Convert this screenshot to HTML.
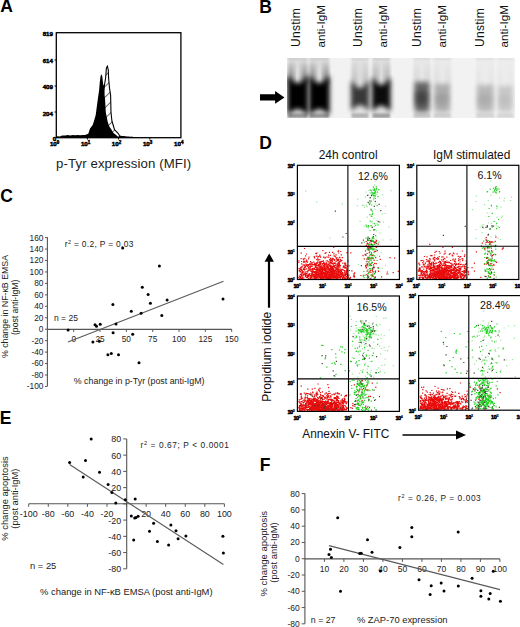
<!DOCTYPE html>
<html><head><meta charset="utf-8"><style>
html,body{margin:0;padding:0;background:#fff;}
svg{display:block;}
text{font-family:"Liberation Sans",sans-serif;}
</style></head><body>
<svg width="520" height="627" viewBox="0 0 520 627" font-family="Liberation Sans, sans-serif">
<rect width="520" height="627" fill="#fff"/>
<text x="0.3" y="12.4" font-size="17.5" text-anchor="start" font-weight="bold" fill="#000" >A</text>
<text x="259.3" y="12.7" font-size="17.5" text-anchor="start" font-weight="bold" fill="#000" >B</text>
<text x="0.2" y="201.8" font-size="17.5" text-anchor="start" font-weight="bold" fill="#000" >C</text>
<text x="259.3" y="148.7" font-size="17.5" text-anchor="start" font-weight="bold" fill="#000" >D</text>
<text x="-0.3" y="423.8" font-size="17.5" text-anchor="start" font-weight="bold" fill="#000" >E</text>
<text x="259.7" y="470.8" font-size="17.5" text-anchor="start" font-weight="bold" fill="#000" >F</text>
<defs><pattern id="hp" patternUnits="userSpaceOnUse" width="7.5" height="7.5" patternTransform="rotate(45)"><line x1="0" y1="0" x2="0" y2="7.5" stroke="#000" stroke-width="1.1"/></pattern><clipPath id="gclip"><rect x="287" y="58" width="228" height="60"/></clipPath><filter id="bl1" x="-50%" y="-50%" width="200%" height="200%"><feGaussianBlur stdDeviation="2.2"/></filter><filter id="bl2" x="-50%" y="-50%" width="200%" height="200%"><feGaussianBlur stdDeviation="1.2"/></filter></defs>
<polygon points="95,137.5 98,122 100,110 102.5,95 104,88 105.6,78 106.4,68 107.4,66.2 108.3,70 108.6,78 109.5,88 110.6,95 111,112.3 111.9,121 112.7,123.5 114.5,129.6 117.9,133 119.5,135.5 121,137.5" fill="#fff" stroke="none"/>
<polygon points="95,137.5 98,122 100,110 102.5,95 104,88 105.6,78 106.4,68 107.4,66.2 108.3,70 108.6,78 109.5,88 110.6,95 111,112.3 111.9,121 112.7,123.5 114.5,129.6 117.9,133 119.5,135.5 121,137.5" fill="url(#hp)" stroke="#000" stroke-width="1.1"/>
<polygon points="56.5,137.8 57,136.3 60,136.4 62,135.6 65,135.4 68,135.1 70,135.4 73,135.0 75,135.3 78,134.9 80,135.2 83,134.9 85,135.1 88.3,133.8 90,128.5 92.7,125 94,121 95.7,115 97.7,100 99.1,90.3 99.8,82 100.6,76 101.4,74.2 102.2,76 102.8,81 103.3,85 104.5,85.6 104.6,95 105.1,100 105.8,112.3 107.5,121 109,126 111.4,129.6 113.5,133 115.8,134.8 117.5,136.3 119.2,137.8" fill="#000"/>
<polygon points="119.0,137.8 119.0,135.7 120.0,135.8 121.0,135.7 122.0,136.0 123.0,135.9 124.0,136.1 125.0,136.3 126.0,136.2 127.0,136.5 128.0,136.4 129.0,136.6 130.0,136.7 131.0,136.7 132.0,136.6 133.0,137.0 134.0,137.0 135.0,136.9 136.0,136.9 137.0,137.1 138.0,137.3 139.0,137.1 140.0,137.8" fill="#000"/>
<rect x="56.3" y="32.7" width="124.6" height="105" fill="none" stroke="#000" stroke-width="1.3"/>
<line x1="54.5" y1="60" x2="56.3" y2="60" stroke="#000" stroke-width="1"/>
<line x1="54.5" y1="86" x2="56.3" y2="86" stroke="#000" stroke-width="1"/>
<line x1="54.5" y1="112" x2="56.3" y2="112" stroke="#000" stroke-width="1"/>
<line x1="87.4" y1="137.5" x2="87.4" y2="139.5" stroke="#000" stroke-width="1"/>
<line x1="118.6" y1="137.5" x2="118.6" y2="139.5" stroke="#000" stroke-width="1"/>
<line x1="149.8" y1="137.5" x2="149.8" y2="139.5" stroke="#000" stroke-width="1"/>
<text x="53.0" y="36.2" font-size="6.2" text-anchor="end" font-weight="bold" fill="#000" stroke="#000" stroke-width="0.45">819</text>
<text x="53.0" y="62.5" font-size="6.2" text-anchor="end" font-weight="bold" fill="#000" stroke="#000" stroke-width="0.45">614</text>
<text x="53.0" y="88.5" font-size="6.2" text-anchor="end" font-weight="bold" fill="#000" stroke="#000" stroke-width="0.45">409</text>
<text x="53.0" y="115.8" font-size="6.2" text-anchor="end" font-weight="bold" fill="#000" stroke="#000" stroke-width="0.45">204</text>
<text x="56.2" y="141.2" font-size="6.2" text-anchor="end" font-weight="bold" fill="#000" stroke="#000" stroke-width="0.45">0</text>
<text x="54.6" y="146.4" font-size="6.2" font-weight="bold" fill="#000" text-anchor="middle" stroke="#000" stroke-width="0.45">10<tspan font-size="4.5" dy="-2.2">0</tspan></text>
<text x="85.6" y="146.4" font-size="6.2" font-weight="bold" fill="#000" text-anchor="middle" stroke="#000" stroke-width="0.45">10<tspan font-size="4.5" dy="-2.2">1</tspan></text>
<text x="116.5" y="146.4" font-size="6.2" font-weight="bold" fill="#000" text-anchor="middle" stroke="#000" stroke-width="0.45">10<tspan font-size="4.5" dy="-2.2">2</tspan></text>
<text x="147.6" y="146.4" font-size="6.2" font-weight="bold" fill="#000" text-anchor="middle" stroke="#000" stroke-width="0.45">10<tspan font-size="4.5" dy="-2.2">3</tspan></text>
<text x="178.8" y="146.4" font-size="6.2" font-weight="bold" fill="#000" text-anchor="middle" stroke="#000" stroke-width="0.45">10<tspan font-size="4.5" dy="-2.2">4</tspan></text>
<text x="56.0" y="167.5" font-size="13.2" text-anchor="start" fill="#222" letter-spacing="0.12">p-Tyr expression (MFI)</text>
<text transform="translate(300.2,47.0) rotate(-90)" font-size="12" text-anchor="start" letter-spacing="0.3" fill="#111">Unstim</text>
<text transform="translate(324.6,47.6) rotate(-90)" font-size="11.6" text-anchor="start" letter-spacing="0.1" fill="#111">anti-IgM</text>
<text transform="translate(361.9,47.0) rotate(-90)" font-size="12" text-anchor="start" letter-spacing="0.3" fill="#111">Unstim</text>
<text transform="translate(387.4,47.6) rotate(-90)" font-size="11.6" text-anchor="start" letter-spacing="0.1" fill="#111">anti-IgM</text>
<text transform="translate(421.3,47.0) rotate(-90)" font-size="12" text-anchor="start" letter-spacing="0.3" fill="#111">Unstim</text>
<text transform="translate(446.4,47.6) rotate(-90)" font-size="11.6" text-anchor="start" letter-spacing="0.1" fill="#111">anti-IgM</text>
<text transform="translate(483.7,47.0) rotate(-90)" font-size="12" text-anchor="start" letter-spacing="0.3" fill="#111">Unstim</text>
<text transform="translate(508.2,47.6) rotate(-90)" font-size="11.6" text-anchor="start" letter-spacing="0.1" fill="#111">anti-IgM</text>
<defs><linearGradient id="sideg" x1="0" y1="0" x2="0" y2="1"><stop offset="0" stop-color="#000" stop-opacity="0.12"/><stop offset="1" stop-color="#000" stop-opacity="0.6"/></linearGradient><filter id="bl3" x="-50%" y="-50%" width="200%" height="200%"><feGaussianBlur stdDeviation="2.6"/></filter><filter id="bl4" x="-50%" y="-50%" width="200%" height="200%"><feGaussianBlur stdDeviation="3.2"/></filter></defs>
<g clip-path="url(#gclip)">
<rect x="287" y="58" width="228" height="60" fill="#f2f2f2"/>
<rect x="288" y="58" width="19.5" height="60" fill="#dadada" filter="url(#bl2)"/>
<rect x="288" y="57.5" width="19.5" height="2" fill="#c8c8c8" opacity="1.0" filter="url(#bl2)"/>
<g opacity="1.0">
<path d="M287.5,75 Q297.75,91 308.0,75 L308.0,115.5 Q297.75,102.5 287.5,115.5 Z" fill="#000" filter="url(#bl3)"/>
</g>
<rect x="288.5" y="63" width="5" height="20" fill="url(#sideg)" opacity="1.0" filter="url(#bl3)"/>
<rect x="302.0" y="63" width="5" height="20" fill="url(#sideg)" opacity="1.0" filter="url(#bl3)"/>
<rect x="288" y="113.5" width="19.5" height="4.5" fill="#000" opacity="0.31" filter="url(#bl2)"/>
<rect x="309.5" y="58" width="19.5" height="60" fill="#dadada" filter="url(#bl2)"/>
<rect x="309.5" y="57.5" width="19.5" height="2" fill="#c8c8c8" opacity="1.0" filter="url(#bl2)"/>
<g opacity="1.0">
<path d="M309.0,75 Q319.25,91 329.5,75 L329.5,115.5 Q319.25,102.5 309.0,115.5 Z" fill="#000" filter="url(#bl3)"/>
</g>
<rect x="310.0" y="63" width="5" height="20" fill="url(#sideg)" opacity="1.0" filter="url(#bl3)"/>
<rect x="323.5" y="63" width="5" height="20" fill="url(#sideg)" opacity="1.0" filter="url(#bl3)"/>
<rect x="309.5" y="113.5" width="19.5" height="4.5" fill="#000" opacity="0.31" filter="url(#bl2)"/>
<rect x="351.5" y="58" width="17.0" height="60" fill="#e0e0e0" filter="url(#bl2)"/>
<rect x="351.5" y="57.5" width="17.0" height="2" fill="#c8c8c8" opacity="0.76" filter="url(#bl2)"/>
<g opacity="0.75">
<path d="M351.0,80 Q360.0,96 369.0,80 L369.0,111.5 Q360.0,98.5 351.0,111.5 Z" fill="#000" filter="url(#bl3)"/>
</g>
<rect x="352.0" y="63" width="5" height="25" fill="url(#sideg)" opacity="0.36" filter="url(#bl3)"/>
<rect x="363.0" y="63" width="5" height="25" fill="url(#sideg)" opacity="0.36" filter="url(#bl3)"/>
<rect x="351.5" y="113.5" width="17.0" height="4.5" fill="#000" opacity="0.21" filter="url(#bl2)"/>
<rect x="372.5" y="58" width="17.5" height="60" fill="#dedede" filter="url(#bl2)"/>
<rect x="372.5" y="57.5" width="17.5" height="2" fill="#c8c8c8" opacity="0.9400000000000001" filter="url(#bl2)"/>
<g opacity="0.95">
<path d="M372.0,77 Q381.25,93 390.5,77 L390.5,112 Q381.25,99 372.0,112 Z" fill="#000" filter="url(#bl3)"/>
</g>
<rect x="373.0" y="63" width="5" height="22" fill="url(#sideg)" opacity="0.54" filter="url(#bl3)"/>
<rect x="384.5" y="63" width="5" height="22" fill="url(#sideg)" opacity="0.54" filter="url(#bl3)"/>
<rect x="372.5" y="113.5" width="17.5" height="4.5" fill="#000" opacity="0.28500000000000003" filter="url(#bl2)"/>
<rect x="413.5" y="58" width="17.0" height="60" fill="#e8e8e8" filter="url(#bl2)"/>
<rect x="413.5" y="57.5" width="17.0" height="2" fill="#c8c8c8" opacity="0.5800000000000001" filter="url(#bl2)"/>
<g opacity="0.8">
<rect x="414.5" y="82" width="15.0" height="30" rx="3" fill="#000" opacity="0.7" filter="url(#bl3)"/>
<rect x="415.5" y="91" width="12.0" height="14" rx="3" fill="#000" opacity="0.6" filter="url(#bl3)"/>
</g>
<rect x="414.0" y="63" width="5" height="23" fill="url(#sideg)" opacity="0.18" filter="url(#bl3)"/>
<rect x="425.0" y="63" width="5" height="23" fill="url(#sideg)" opacity="0.18" filter="url(#bl3)"/>
<rect x="413.5" y="113.5" width="17.0" height="4.5" fill="#000" opacity="0.135" filter="url(#bl2)"/>
<rect x="433.5" y="58" width="17.5" height="60" fill="#eaeaea" filter="url(#bl2)"/>
<rect x="433.5" y="57.5" width="17.5" height="2" fill="#c8c8c8" opacity="0.52" filter="url(#bl2)"/>
<g opacity="0.36">
<rect x="434.5" y="84" width="15.5" height="28" rx="3" fill="#000" opacity="0.7" filter="url(#bl3)"/>
<rect x="435.5" y="93" width="12.5" height="12" rx="3" fill="#000" opacity="0.6" filter="url(#bl3)"/>
</g>
<rect x="434.0" y="63" width="5" height="25" fill="url(#sideg)" opacity="0.12" filter="url(#bl3)"/>
<rect x="445.5" y="63" width="5" height="25" fill="url(#sideg)" opacity="0.12" filter="url(#bl3)"/>
<rect x="433.5" y="113.5" width="17.5" height="4.5" fill="#000" opacity="0.11" filter="url(#bl2)"/>
<rect x="476" y="58" width="18.5" height="60" fill="#ececec" filter="url(#bl2)"/>
<rect x="476" y="57.5" width="18.5" height="2" fill="#c8c8c8" opacity="0.47200000000000003" filter="url(#bl2)"/>
<g opacity="0.3">
<rect x="477" y="85" width="16.5" height="27" rx="3" fill="#000" opacity="0.7" filter="url(#bl3)"/>
<rect x="478" y="94" width="13.5" height="11" rx="3" fill="#000" opacity="0.6" filter="url(#bl3)"/>
</g>
<rect x="476.5" y="63" width="5" height="26" fill="url(#sideg)" opacity="0.072" filter="url(#bl3)"/>
<rect x="489.0" y="63" width="5" height="26" fill="url(#sideg)" opacity="0.072" filter="url(#bl3)"/>
<rect x="476" y="113.5" width="18.5" height="4.5" fill="#000" opacity="0.09" filter="url(#bl2)"/>
<rect x="497" y="58" width="16.5" height="60" fill="#ededed" filter="url(#bl2)"/>
<rect x="497" y="57.5" width="16.5" height="2" fill="#c8c8c8" opacity="0.46" filter="url(#bl2)"/>
<g opacity="0.22">
<rect x="498" y="86" width="14.5" height="26" rx="3" fill="#000" opacity="0.7" filter="url(#bl3)"/>
<rect x="499" y="95" width="11.5" height="10" rx="3" fill="#000" opacity="0.6" filter="url(#bl3)"/>
</g>
<rect x="497.5" y="63" width="5" height="27" fill="url(#sideg)" opacity="0.06" filter="url(#bl3)"/>
<rect x="508.0" y="63" width="5" height="27" fill="url(#sideg)" opacity="0.06" filter="url(#bl3)"/>
<rect x="497" y="113.5" width="16.5" height="4.5" fill="#000" opacity="0.08499999999999999" filter="url(#bl2)"/>
</g>
<polygon points="260,94.2 275.1,94.2 275.1,91.1 284.5,97.4 275.1,103.8 275.1,100.6 260,100.6" fill="#000"/>
<line x1="47.4" y1="237.3" x2="47.4" y2="386.3" stroke="#555" stroke-width="1.1"/>
<line x1="45" y1="237.60" x2="47.4" y2="237.60" stroke="#555" stroke-width="1"/>
<text x="43.4" y="240.5" font-size="8.3" text-anchor="end" fill="#222" >160</text>
<line x1="45" y1="249.05" x2="47.4" y2="249.05" stroke="#555" stroke-width="1"/>
<text x="43.4" y="251.95" font-size="8.3" text-anchor="end" fill="#222" >140</text>
<line x1="45" y1="260.50" x2="47.4" y2="260.50" stroke="#555" stroke-width="1"/>
<text x="43.4" y="263.4" font-size="8.3" text-anchor="end" fill="#222" >120</text>
<line x1="45" y1="271.95" x2="47.4" y2="271.95" stroke="#555" stroke-width="1"/>
<text x="43.4" y="274.84999999999997" font-size="8.3" text-anchor="end" fill="#222" >100</text>
<line x1="45" y1="283.40" x2="47.4" y2="283.40" stroke="#555" stroke-width="1"/>
<text x="43.4" y="286.29999999999995" font-size="8.3" text-anchor="end" fill="#222" >80</text>
<line x1="45" y1="294.85" x2="47.4" y2="294.85" stroke="#555" stroke-width="1"/>
<text x="43.4" y="297.75" font-size="8.3" text-anchor="end" fill="#222" >60</text>
<line x1="45" y1="306.30" x2="47.4" y2="306.30" stroke="#555" stroke-width="1"/>
<text x="43.4" y="309.19999999999993" font-size="8.3" text-anchor="end" fill="#222" >40</text>
<line x1="45" y1="317.75" x2="47.4" y2="317.75" stroke="#555" stroke-width="1"/>
<text x="43.4" y="320.65" font-size="8.3" text-anchor="end" fill="#222" >20</text>
<line x1="45" y1="329.20" x2="47.4" y2="329.20" stroke="#555" stroke-width="1"/>
<text x="43.4" y="332.09999999999997" font-size="8.3" text-anchor="end" fill="#222" >0</text>
<line x1="45" y1="340.65" x2="47.4" y2="340.65" stroke="#555" stroke-width="1"/>
<text x="43.4" y="343.54999999999995" font-size="8.3" text-anchor="end" fill="#222" >-20</text>
<line x1="45" y1="352.10" x2="47.4" y2="352.10" stroke="#555" stroke-width="1"/>
<text x="43.4" y="355.0" font-size="8.3" text-anchor="end" fill="#222" >-40</text>
<line x1="45" y1="363.55" x2="47.4" y2="363.55" stroke="#555" stroke-width="1"/>
<text x="43.4" y="366.44999999999993" font-size="8.3" text-anchor="end" fill="#222" >-60</text>
<line x1="45" y1="375.00" x2="47.4" y2="375.00" stroke="#555" stroke-width="1"/>
<text x="43.4" y="377.9" font-size="8.3" text-anchor="end" fill="#222" >-80</text>
<line x1="45" y1="386.45" x2="47.4" y2="386.45" stroke="#555" stroke-width="1"/>
<text x="43.4" y="389.34999999999997" font-size="8.3" text-anchor="end" fill="#222" >-100</text>
<line x1="47.4" y1="329.4" x2="231.8" y2="329.4" stroke="#555" stroke-width="1.1"/>
<line x1="73.70" y1="329.4" x2="73.70" y2="331.9" stroke="#555" stroke-width="1"/>
<text x="73.70" y="342" font-size="8.3" text-anchor="middle" fill="#222" >0</text>
<line x1="100.03" y1="329.4" x2="100.03" y2="331.9" stroke="#555" stroke-width="1"/>
<text x="100.03" y="342" font-size="8.3" text-anchor="middle" fill="#222" >25</text>
<line x1="126.36" y1="329.4" x2="126.36" y2="331.9" stroke="#555" stroke-width="1"/>
<text x="126.36" y="342" font-size="8.3" text-anchor="middle" fill="#222" >50</text>
<line x1="152.69" y1="329.4" x2="152.69" y2="331.9" stroke="#555" stroke-width="1"/>
<text x="152.69" y="342" font-size="8.3" text-anchor="middle" fill="#222" >75</text>
<line x1="179.02" y1="329.4" x2="179.02" y2="331.9" stroke="#555" stroke-width="1"/>
<text x="179.02" y="342" font-size="8.3" text-anchor="middle" fill="#222" >100</text>
<line x1="205.35" y1="329.4" x2="205.35" y2="331.9" stroke="#555" stroke-width="1"/>
<text x="205.35" y="342" font-size="8.3" text-anchor="middle" fill="#222" >125</text>
<line x1="231.68" y1="329.4" x2="231.68" y2="331.9" stroke="#555" stroke-width="1"/>
<text x="231.68" y="342" font-size="8.3" text-anchor="middle" fill="#222" >150</text>
<line x1="68" y1="342" x2="223.5" y2="281.3" stroke="#5a5a5a" stroke-width="1.15"/>
<circle cx="68.1" cy="330" r="1.5" fill="#000"/>
<circle cx="95" cy="324.8" r="1.5" fill="#000"/>
<circle cx="96.5" cy="326.3" r="1.5" fill="#000"/>
<circle cx="100.2" cy="324.2" r="1.5" fill="#000"/>
<circle cx="112.9" cy="304.6" r="1.5" fill="#000"/>
<circle cx="116" cy="324" r="1.5" fill="#000"/>
<circle cx="131.3" cy="311.2" r="1.5" fill="#000"/>
<circle cx="141.1" cy="313.2" r="1.5" fill="#000"/>
<circle cx="113.1" cy="332.7" r="1.5" fill="#000"/>
<circle cx="132.7" cy="334.3" r="1.5" fill="#000"/>
<circle cx="92.9" cy="341.9" r="1.5" fill="#000"/>
<circle cx="99.3" cy="341.3" r="1.5" fill="#000"/>
<circle cx="107.9" cy="354.8" r="1.5" fill="#000"/>
<circle cx="111.3" cy="353.5" r="1.5" fill="#000"/>
<circle cx="118.5" cy="354.8" r="1.5" fill="#000"/>
<circle cx="139" cy="362.7" r="1.5" fill="#000"/>
<circle cx="122.7" cy="248.1" r="1.5" fill="#000"/>
<circle cx="159.4" cy="266.1" r="1.5" fill="#000"/>
<circle cx="142.3" cy="287.3" r="1.5" fill="#000"/>
<circle cx="148.1" cy="294.5" r="1.5" fill="#000"/>
<circle cx="150.4" cy="303.2" r="1.5" fill="#000"/>
<circle cx="167.1" cy="300" r="1.5" fill="#000"/>
<circle cx="161.8" cy="315.6" r="1.5" fill="#000"/>
<circle cx="223" cy="298.9" r="1.5" fill="#000"/>
<text x="64.8" y="246.8" font-size="8.4" letter-spacing="0.33" fill="#222">r<tspan font-size="5.5" dy="-3.3">2</tspan><tspan dy="3.3"> = 0.2, P = 0.03</tspan></text>
<text x="54" y="320.6" font-size="8.5" text-anchor="start" fill="#222" >n = 25</text>
<text x="73.8" y="383.5" font-size="8.85" text-anchor="start" fill="#222" >% change in p-Tyr (post anti-IgM)</text>
<text transform="translate(7.7,306.5) rotate(-90)" font-size="8.8" text-anchor="middle" letter-spacing="0" fill="#222">% change in NF-&#954;B EMSA</text>
<text transform="translate(17.9,307.3) rotate(-90)" font-size="8.6" text-anchor="middle" letter-spacing="0" fill="#222">(post anti-IgM)</text>
<line x1="126.7" y1="438.9" x2="126.7" y2="568.8" stroke="#555" stroke-width="1.1"/>
<line x1="123.2" y1="438.90" x2="126.7" y2="438.90" stroke="#555" stroke-width="1"/>
<text x="121.2" y="442.4" font-size="8.9" text-anchor="end" fill="#222" >80</text>
<line x1="123.2" y1="455.14" x2="126.7" y2="455.14" stroke="#555" stroke-width="1"/>
<text x="121.2" y="458.64" font-size="8.9" text-anchor="end" fill="#222" >60</text>
<line x1="123.2" y1="471.38" x2="126.7" y2="471.38" stroke="#555" stroke-width="1"/>
<text x="121.2" y="474.88" font-size="8.9" text-anchor="end" fill="#222" >40</text>
<line x1="123.2" y1="487.62" x2="126.7" y2="487.62" stroke="#555" stroke-width="1"/>
<text x="121.2" y="491.12" font-size="8.9" text-anchor="end" fill="#222" >20</text>
<line x1="123.2" y1="503.86" x2="126.7" y2="503.86" stroke="#555" stroke-width="1"/>
<line x1="123.2" y1="520.10" x2="126.7" y2="520.10" stroke="#555" stroke-width="1"/>
<text x="121.2" y="523.5999999999999" font-size="8.9" text-anchor="end" fill="#222" >-20</text>
<line x1="123.2" y1="536.34" x2="126.7" y2="536.34" stroke="#555" stroke-width="1"/>
<text x="121.2" y="539.8399999999999" font-size="8.9" text-anchor="end" fill="#222" >-40</text>
<line x1="123.2" y1="552.58" x2="126.7" y2="552.58" stroke="#555" stroke-width="1"/>
<text x="121.2" y="556.0799999999999" font-size="8.9" text-anchor="end" fill="#222" >-60</text>
<line x1="123.2" y1="568.82" x2="126.7" y2="568.82" stroke="#555" stroke-width="1"/>
<text x="121.2" y="572.3199999999999" font-size="8.9" text-anchor="end" fill="#222" >-80</text>
<line x1="28.7" y1="503.8" x2="224.4" y2="503.8" stroke="#555" stroke-width="1.1"/>
<line x1="28.70" y1="503.8" x2="28.70" y2="506.8" stroke="#555" stroke-width="1"/>
<text x="28.70" y="517" font-size="8.9" text-anchor="middle" fill="#222" >-100</text>
<line x1="48.27" y1="503.8" x2="48.27" y2="506.8" stroke="#555" stroke-width="1"/>
<text x="48.27" y="517" font-size="8.9" text-anchor="middle" fill="#222" >-80</text>
<line x1="67.84" y1="503.8" x2="67.84" y2="506.8" stroke="#555" stroke-width="1"/>
<text x="67.84" y="517" font-size="8.9" text-anchor="middle" fill="#222" >-60</text>
<line x1="87.41" y1="503.8" x2="87.41" y2="506.8" stroke="#555" stroke-width="1"/>
<text x="87.41" y="517" font-size="8.9" text-anchor="middle" fill="#222" >-40</text>
<line x1="106.98" y1="503.8" x2="106.98" y2="506.8" stroke="#555" stroke-width="1"/>
<text x="106.98" y="517" font-size="8.9" text-anchor="middle" fill="#222" >-20</text>
<line x1="126.55" y1="503.8" x2="126.55" y2="506.8" stroke="#555" stroke-width="1"/>
<line x1="146.12" y1="503.8" x2="146.12" y2="506.8" stroke="#555" stroke-width="1"/>
<text x="146.12" y="517" font-size="8.9" text-anchor="middle" fill="#222" >20</text>
<line x1="165.69" y1="503.8" x2="165.69" y2="506.8" stroke="#555" stroke-width="1"/>
<text x="165.69" y="517" font-size="8.9" text-anchor="middle" fill="#222" >40</text>
<line x1="185.26" y1="503.8" x2="185.26" y2="506.8" stroke="#555" stroke-width="1"/>
<text x="185.26" y="517" font-size="8.9" text-anchor="middle" fill="#222" >60</text>
<line x1="204.83" y1="503.8" x2="204.83" y2="506.8" stroke="#555" stroke-width="1"/>
<text x="204.83" y="517" font-size="8.9" text-anchor="middle" fill="#222" >80</text>
<line x1="224.40" y1="503.8" x2="224.40" y2="506.8" stroke="#555" stroke-width="1"/>
<text x="224.40" y="517" font-size="8.9" text-anchor="middle" fill="#222" >100</text>
<line x1="69.6" y1="464.6" x2="223.4" y2="564.5" stroke="#5a5a5a" stroke-width="1.15"/>
<circle cx="69.6" cy="462.6" r="1.5" fill="#000"/>
<circle cx="91.2" cy="438.9" r="1.5" fill="#000"/>
<circle cx="85.5" cy="460.5" r="1.5" fill="#000"/>
<circle cx="83.2" cy="476.9" r="1.5" fill="#000"/>
<circle cx="99.5" cy="472.3" r="1.5" fill="#000"/>
<circle cx="108.1" cy="484.6" r="1.5" fill="#000"/>
<circle cx="111.9" cy="492.6" r="1.5" fill="#000"/>
<circle cx="115.8" cy="503.1" r="1.5" fill="#000"/>
<circle cx="125.3" cy="499.7" r="1.5" fill="#000"/>
<circle cx="135.2" cy="499.1" r="1.5" fill="#000"/>
<circle cx="131.3" cy="516" r="1.5" fill="#000"/>
<circle cx="134.7" cy="518.1" r="1.5" fill="#000"/>
<circle cx="136" cy="517.5" r="1.5" fill="#000"/>
<circle cx="138.1" cy="516.2" r="1.5" fill="#000"/>
<circle cx="153.6" cy="523.2" r="1.5" fill="#000"/>
<circle cx="170.9" cy="524.9" r="1.5" fill="#000"/>
<circle cx="149.5" cy="531.3" r="1.5" fill="#000"/>
<circle cx="176" cy="530.8" r="1.5" fill="#000"/>
<circle cx="185.9" cy="535.9" r="1.5" fill="#000"/>
<circle cx="178.1" cy="538.7" r="1.5" fill="#000"/>
<circle cx="133.7" cy="539.9" r="1.5" fill="#000"/>
<circle cx="157.4" cy="541.4" r="1.5" fill="#000"/>
<circle cx="168.6" cy="545" r="1.5" fill="#000"/>
<circle cx="222.9" cy="536.3" r="1.5" fill="#000"/>
<circle cx="223.4" cy="553" r="1.5" fill="#000"/>
<text x="140.6" y="448.2" font-size="8.3" letter-spacing="0.6" fill="#222">r<tspan font-size="5.6" dy="-3.4">2</tspan><tspan dy="3.4"> = 0.67; P &lt; 0.0001</tspan></text>
<text x="30" y="569.2" font-size="9.4" text-anchor="start" fill="#222" >n = 25</text>
<text x="40.1" y="594.6" font-size="9.38" text-anchor="start" fill="#222" >% change in NF-&#954;B EMSA (post anti-IgM)</text>
<text transform="translate(8.3,498.5) rotate(-90)" font-size="9.4" text-anchor="middle" letter-spacing="0" fill="#222">% change apoptosis</text>
<text transform="translate(18.3,498.7) rotate(-90)" font-size="9.3" text-anchor="middle" letter-spacing="0" fill="#222">(post anti-IgM)</text>
<line x1="304.9" y1="493.6" x2="304.9" y2="623.8" stroke="#555" stroke-width="1.1"/>
<line x1="301.7" y1="493.60" x2="304.9" y2="493.60" stroke="#555" stroke-width="1"/>
<text x="299.8" y="496.6" font-size="8.5" text-anchor="end" fill="#222" >80</text>
<line x1="301.7" y1="509.88" x2="304.9" y2="509.88" stroke="#555" stroke-width="1"/>
<text x="299.8" y="512.88" font-size="8.5" text-anchor="end" fill="#222" >60</text>
<line x1="301.7" y1="526.16" x2="304.9" y2="526.16" stroke="#555" stroke-width="1"/>
<text x="299.8" y="529.1600000000001" font-size="8.5" text-anchor="end" fill="#222" >40</text>
<line x1="301.7" y1="542.44" x2="304.9" y2="542.44" stroke="#555" stroke-width="1"/>
<text x="299.8" y="545.44" font-size="8.5" text-anchor="end" fill="#222" >20</text>
<line x1="301.7" y1="558.72" x2="304.9" y2="558.72" stroke="#555" stroke-width="1"/>
<text x="299.8" y="561.72" font-size="8.5" text-anchor="end" fill="#222" >0</text>
<line x1="301.7" y1="575.00" x2="304.9" y2="575.00" stroke="#555" stroke-width="1"/>
<text x="299.8" y="578.0" font-size="8.5" text-anchor="end" fill="#222" >-20</text>
<line x1="301.7" y1="591.28" x2="304.9" y2="591.28" stroke="#555" stroke-width="1"/>
<text x="299.8" y="594.28" font-size="8.5" text-anchor="end" fill="#222" >-40</text>
<line x1="301.7" y1="607.56" x2="304.9" y2="607.56" stroke="#555" stroke-width="1"/>
<text x="299.8" y="610.5600000000001" font-size="8.5" text-anchor="end" fill="#222" >-60</text>
<line x1="301.7" y1="623.84" x2="304.9" y2="623.84" stroke="#555" stroke-width="1"/>
<text x="299.8" y="626.84" font-size="8.5" text-anchor="end" fill="#222" >-80</text>
<line x1="304.9" y1="558.9" x2="499.9" y2="558.9" stroke="#555" stroke-width="1.1"/>
<line x1="324.40" y1="558.9" x2="324.40" y2="561.9" stroke="#555" stroke-width="1"/>
<text x="324.40" y="571.6" font-size="8.5" text-anchor="middle" fill="#222" >10</text>
<line x1="343.90" y1="558.9" x2="343.90" y2="561.9" stroke="#555" stroke-width="1"/>
<text x="343.90" y="571.6" font-size="8.5" text-anchor="middle" fill="#222" >20</text>
<line x1="363.40" y1="558.9" x2="363.40" y2="561.9" stroke="#555" stroke-width="1"/>
<text x="363.40" y="571.6" font-size="8.5" text-anchor="middle" fill="#222" >30</text>
<line x1="382.90" y1="558.9" x2="382.90" y2="561.9" stroke="#555" stroke-width="1"/>
<text x="382.90" y="571.6" font-size="8.5" text-anchor="middle" fill="#222" >40</text>
<line x1="402.40" y1="558.9" x2="402.40" y2="561.9" stroke="#555" stroke-width="1"/>
<text x="402.40" y="571.6" font-size="8.5" text-anchor="middle" fill="#222" >50</text>
<line x1="421.90" y1="558.9" x2="421.90" y2="561.9" stroke="#555" stroke-width="1"/>
<text x="421.90" y="571.6" font-size="8.5" text-anchor="middle" fill="#222" >60</text>
<line x1="441.40" y1="558.9" x2="441.40" y2="561.9" stroke="#555" stroke-width="1"/>
<text x="441.40" y="571.6" font-size="8.5" text-anchor="middle" fill="#222" >70</text>
<line x1="460.90" y1="558.9" x2="460.90" y2="561.9" stroke="#555" stroke-width="1"/>
<text x="460.90" y="571.6" font-size="8.5" text-anchor="middle" fill="#222" >80</text>
<line x1="480.40" y1="558.9" x2="480.40" y2="561.9" stroke="#555" stroke-width="1"/>
<text x="480.40" y="571.6" font-size="8.5" text-anchor="middle" fill="#222" >90</text>
<line x1="499.90" y1="558.9" x2="499.90" y2="561.9" stroke="#555" stroke-width="1"/>
<text x="499.90" y="571.6" font-size="8.5" text-anchor="middle" fill="#222" >100</text>
<line x1="329" y1="545.6" x2="500" y2="589.6" stroke="#5a5a5a" stroke-width="1.15"/>
<circle cx="337.7" cy="517.7" r="1.5" fill="#000"/>
<circle cx="330.5" cy="549.2" r="1.5" fill="#000"/>
<circle cx="329" cy="554.5" r="1.5" fill="#000"/>
<circle cx="331.4" cy="557.4" r="1.5" fill="#000"/>
<circle cx="340.5" cy="591.3" r="1.5" fill="#000"/>
<circle cx="359.7" cy="553.6" r="1.5" fill="#000"/>
<circle cx="361.2" cy="553.2" r="1.5" fill="#000"/>
<circle cx="367.5" cy="539.7" r="1.5" fill="#000"/>
<circle cx="372" cy="552.3" r="1.5" fill="#000"/>
<circle cx="380.4" cy="571" r="1.5" fill="#000"/>
<circle cx="399.9" cy="547.5" r="1.5" fill="#000"/>
<circle cx="411.8" cy="527.4" r="1.5" fill="#000"/>
<circle cx="411.8" cy="536.7" r="1.5" fill="#000"/>
<circle cx="419" cy="579.8" r="1.5" fill="#000"/>
<circle cx="458.2" cy="532.1" r="1.5" fill="#000"/>
<circle cx="431.2" cy="585.8" r="1.5" fill="#000"/>
<circle cx="430.1" cy="594.5" r="1.5" fill="#000"/>
<circle cx="441.2" cy="583.1" r="1.5" fill="#000"/>
<circle cx="444" cy="591" r="1.5" fill="#000"/>
<circle cx="458.3" cy="586" r="1.5" fill="#000"/>
<circle cx="472.1" cy="578.2" r="1.5" fill="#000"/>
<circle cx="480.9" cy="590.8" r="1.5" fill="#000"/>
<circle cx="480.9" cy="596.2" r="1.5" fill="#000"/>
<circle cx="490.2" cy="593.5" r="1.5" fill="#000"/>
<circle cx="488.8" cy="599" r="1.5" fill="#000"/>
<circle cx="493.3" cy="571.2" r="1.5" fill="#000"/>
<circle cx="500.4" cy="601.3" r="1.5" fill="#000"/>
<text x="398.1" y="501.3" font-size="8.3" letter-spacing="0.58" fill="#222">r<tspan font-size="5.4" dy="-3.3">2</tspan><tspan dy="3.3"> = 0.26, P = 0.003</tspan></text>
<text x="310.8" y="622.8" font-size="8.8" text-anchor="start" fill="#222" >n = 27</text>
<text x="356.9" y="622.8" font-size="9.4" text-anchor="start" fill="#222" >% ZAP-70 expression</text>
<text transform="translate(266.5,553.7) rotate(-90)" font-size="9.5" text-anchor="middle" letter-spacing="0" fill="#222">% change apoptosis</text>
<text transform="translate(276.8,552.5) rotate(-90)" font-size="9.4" text-anchor="middle" letter-spacing="0" fill="#222">(post anti-IgM)</text>
<text x="318.7" y="158.7" font-size="11.9" text-anchor="start" fill="#111" >24h control</text>
<text x="433" y="158.6" font-size="11.9" text-anchor="start" fill="#111" >IgM stimulated</text>
<text x="302.3" y="438.3" font-size="11.85" text-anchor="start" fill="#111" >Annexin V- FITC</text>
<text transform="translate(270.6,401.8) rotate(-90)" font-size="12.1" text-anchor="start" letter-spacing="0" fill="#111">Propidium iodide</text>
<line x1="402.5" y1="435" x2="458" y2="435" stroke="#000" stroke-width="1.4"/>
<polygon points="456,430.6 466,435 456,439.4" fill="#000"/>
<line x1="269" y1="307.7" x2="269" y2="260" stroke="#000" stroke-width="2.2"/>
<polygon points="264.6,261.7 269.2,253.4 273.9,261.7" fill="#000"/>
<path d="M333.2 272.8h1.2M334.3 273.4h1.2M306.9 266.4h1.2M321.0 275.9h1.2M326.9 275.2h1.2M342.5 274.0h1.2M340.2 273.8h1.2M310.0 261.7h1.2M323.7 267.5h1.2M316.6 274.3h1.2M322.3 264.4h1.2M326.1 275.7h1.2M313.4 274.7h1.2M320.4 266.2h1.2M344.3 264.2h1.2M330.4 275.0h1.2M338.3 265.0h1.2M316.8 269.2h1.2M322.1 278.0h1.2M343.9 273.0h1.2M328.1 269.0h1.2M301.9 266.9h1.2M338.1 275.3h1.2M311.6 271.0h1.2M344.9 274.5h1.2M331.2 272.7h1.2M314.7 278.2h1.2M305.4 269.0h1.2M323.3 267.8h1.2M317.9 264.7h1.2M337.1 268.7h1.2M324.2 276.6h1.2M301.1 272.9h1.2M330.8 277.6h1.2M330.8 276.7h1.2M331.8 258.4h1.2M305.3 276.1h1.2M322.5 271.3h1.2M346.4 252.6h1.2M323.7 272.6h1.2M305.9 254.0h1.2M331.6 271.5h1.2M338.0 250.9h1.2M332.1 274.4h1.2M324.0 274.8h1.2M324.1 277.8h1.2M319.2 268.0h1.2M337.5 251.3h1.2M334.3 277.7h1.2M339.9 277.0h1.2M328.4 278.6h1.2M319.9 263.4h1.2M346.4 269.9h1.2M325.3 278.5h1.2M334.5 263.5h1.2M321.5 263.7h1.2M337.2 266.2h1.2M336.3 271.7h1.2M321.4 271.5h1.2M343.9 270.7h1.2M302.7 258.8h1.2M306.3 264.7h1.2M340.6 261.0h1.2M305.2 265.9h1.2M315.2 253.4h1.2M329.2 278.2h1.2M329.8 255.4h1.2M324.1 265.9h1.2M336.3 272.5h1.2M324.0 263.8h1.2M344.1 266.1h1.2M318.6 275.9h1.2M322.6 267.0h1.2M325.6 273.3h1.2M330.3 277.5h1.2M322.1 277.4h1.2M315.4 266.2h1.2M303.2 278.0h1.2M310.2 276.5h1.2M345.0 263.1h1.2M319.7 272.8h1.2M322.8 263.4h1.2M326.8 267.8h1.2M332.3 277.0h1.2M344.2 278.7h1.2M339.2 266.1h1.2M335.8 271.7h1.2M328.2 275.4h1.2M336.4 274.6h1.2M330.4 275.8h1.2M347.4 261.0h1.2M337.6 276.4h1.2M346.9 278.2h1.2M317.1 274.2h1.2M330.9 270.8h1.2M299.0 268.8h1.2M324.4 272.3h1.2M340.2 251.5h1.2M345.6 267.5h1.2M327.7 276.5h1.2M311.3 271.9h1.2M338.1 271.5h1.2M341.3 260.5h1.2M332.3 276.4h1.2M318.8 277.6h1.2M341.1 273.9h1.2M302.1 277.1h1.2M320.2 276.4h1.2M306.4 271.6h1.2M336.4 270.2h1.2M332.6 275.5h1.2M330.6 270.8h1.2M328.5 270.8h1.2M332.0 270.8h1.2M328.0 277.7h1.2M325.0 275.1h1.2M303.2 268.4h1.2M319.2 259.6h1.2M328.6 263.5h1.2M332.6 272.5h1.2M320.3 274.3h1.2M320.3 262.1h1.2M330.9 269.3h1.2M328.4 270.8h1.2M334.0 270.0h1.2M354.1 272.8h1.2M328.9 252.3h1.2M316.3 277.5h1.2M336.5 273.8h1.2M336.4 278.2h1.2M317.5 272.9h1.2M330.2 274.9h1.2M307.9 265.5h1.2M353.7 277.1h1.2M313.8 268.2h1.2M334.0 260.5h1.2M304.8 267.2h1.2M337.4 277.6h1.2M326.6 267.1h1.2M309.3 269.6h1.2M334.3 272.1h1.2M334.6 268.0h1.2M328.7 274.4h1.2M317.5 274.4h1.2M312.1 264.5h1.2M320.4 277.8h1.2M344.1 277.7h1.2M300.8 270.6h1.2M335.6 271.4h1.2M329.5 274.3h1.2M298.6 270.6h1.2M326.2 263.9h1.2M331.1 276.3h1.2M339.7 274.3h1.2M307.8 278.4h1.2M343.9 267.9h1.2M345.4 278.2h1.2M327.2 272.3h1.2M308.3 274.4h1.2M325.3 274.1h1.2M322.9 277.9h1.2M332.5 276.9h1.2M349.2 278.6h1.2M328.1 271.0h1.2M330.6 274.4h1.2M339.1 262.0h1.2M342.2 263.1h1.2M321.1 272.0h1.2M326.9 272.4h1.2M336.1 274.9h1.2M312.0 278.0h1.2M310.2 278.3h1.2M339.9 261.1h1.2M337.8 260.7h1.2M342.8 267.2h1.2M300.4 274.7h1.2M313.6 256.6h1.2M334.9 270.0h1.2M329.6 277.5h1.2M300.7 274.6h1.2M317.3 272.1h1.2M331.6 273.4h1.2M322.4 275.2h1.2M320.0 257.1h1.2M329.5 275.2h1.2M334.2 275.3h1.2M309.1 270.2h1.2M318.2 268.5h1.2M334.3 277.5h1.2M331.0 274.2h1.2M327.0 265.1h1.2M313.5 278.5h1.2M335.5 254.9h1.2M340.8 270.8h1.2M343.4 276.2h1.2M327.9 261.9h1.2M345.6 270.8h1.2M332.5 275.7h1.2M318.1 256.7h1.2M329.7 278.4h1.2M299.9 267.9h1.2M309.4 266.3h1.2M321.1 274.0h1.2M332.2 273.7h1.2M339.0 274.0h1.2M317.0 277.1h1.2M341.4 275.8h1.2M329.6 268.4h1.2M332.5 271.6h1.2M339.6 277.8h1.2M309.1 263.9h1.2M322.5 270.2h1.2M307.7 274.5h1.2M312.3 271.8h1.2M353.4 276.3h1.2M322.3 270.7h1.2M329.7 268.7h1.2M344.5 273.1h1.2M336.0 273.8h1.2M327.1 269.7h1.2M341.3 275.6h1.2M346.9 271.0h1.2M324.3 263.5h1.2M321.5 274.3h1.2M319.6 276.4h1.2M333.3 277.7h1.2M304.1 269.9h1.2M308.2 267.4h1.2M319.2 264.2h1.2M318.5 277.8h1.2M307.5 264.8h1.2M344.1 263.2h1.2M300.0 269.3h1.2M348.8 270.5h1.2M327.6 257.0h1.2M324.5 253.4h1.2M310.8 277.6h1.2M319.5 261.9h1.2M299.2 278.3h1.2M344.7 267.6h1.2M327.9 268.4h1.2M333.7 276.6h1.2M334.2 271.5h1.2M314.1 263.3h1.2M316.7 265.5h1.2M333.4 262.9h1.2M330.4 278.4h1.2M314.0 257.9h1.2M311.0 276.8h1.2M337.7 272.5h1.2M319.9 278.4h1.2M331.0 268.6h1.2M339.5 276.8h1.2M312.4 274.9h1.2M326.3 273.4h1.2M303.2 259.6h1.2M330.1 260.5h1.2M346.6 270.0h1.2M339.2 272.4h1.2M300.0 278.1h1.2M332.9 265.8h1.2M316.2 277.2h1.2M320.0 278.4h1.2M303.2 261.3h1.2M328.4 277.5h1.2M337.4 277.2h1.2M329.9 271.8h1.2M307.1 276.8h1.2M324.9 273.0h1.2M336.1 273.2h1.2M329.3 274.2h1.2M318.1 276.1h1.2M319.2 255.2h1.2M319.4 275.5h1.2M350.2 252.8h1.2M333.3 263.5h1.2M349.5 278.7h1.2M332.4 269.8h1.2M320.6 278.6h1.2M329.4 278.0h1.2M302.4 272.2h1.2M321.3 274.3h1.2M334.5 275.0h1.2M325.8 270.2h1.2M303.4 261.9h1.2M321.7 261.5h1.2M336.9 274.8h1.2M328.4 276.7h1.2M308.9 274.0h1.2M338.7 263.3h1.2M330.0 269.1h1.2M324.2 275.9h1.2M324.6 257.4h1.2M312.4 272.8h1.2M330.6 275.0h1.2M325.0 273.2h1.2M321.9 269.9h1.2M319.9 274.0h1.2M341.7 277.4h1.2M329.6 261.7h1.2M320.5 274.4h1.2M338.2 271.8h1.2M335.7 267.8h1.2M332.3 276.7h1.2M336.1 276.2h1.2M339.2 275.3h1.2M333.2 277.8h1.2M346.8 277.3h1.2M309.7 267.4h1.2M342.9 278.1h1.2M333.5 255.9h1.2M318.0 265.3h1.2M334.4 274.4h1.2M305.0 255.9h1.2M327.7 278.5h1.2M339.8 273.0h1.2M329.5 264.9h1.2M306.3 273.3h1.2M303.6 264.8h1.2M325.3 270.2h1.2M341.2 269.9h1.2M330.3 271.6h1.2M326.3 268.1h1.2M341.1 271.8h1.2M342.8 276.1h1.2M346.2 272.2h1.2M328.6 270.9h1.2M339.2 257.3h1.2M326.3 277.3h1.2M342.4 269.7h1.2M328.2 274.8h1.2M326.9 273.6h1.2M319.9 271.1h1.2M334.9 276.5h1.2M339.8 271.0h1.2M336.3 272.8h1.2M332.5 271.2h1.2M317.8 272.6h1.2M333.9 270.5h1.2M330.5 277.7h1.2M321.9 275.2h1.2M328.3 277.9h1.2M344.1 275.1h1.2M322.8 274.0h1.2M337.9 275.4h1.2M335.7 258.5h1.2M333.1 272.9h1.2M337.2 265.1h1.2M327.4 268.0h1.2M333.7 274.8h1.2M319.5 264.5h1.2M339.4 277.5h1.2M319.4 271.5h1.2M323.6 278.1h1.2M308.6 264.5h1.2M344.3 271.8h1.2M314.0 272.7h1.2M321.9 267.1h1.2M330.6 271.4h1.2M321.0 270.8h1.2M319.4 265.8h1.2M325.9 276.9h1.2M301.8 272.7h1.2M305.1 274.6h1.2M314.9 278.7h1.2M329.1 273.9h1.2M312.6 271.1h1.2M338.2 274.1h1.2M301.2 263.8h1.2M303.2 262.3h1.2M330.0 277.7h1.2M337.8 266.5h1.2M312.1 264.9h1.2M341.7 269.3h1.2M323.6 269.5h1.2M327.7 271.0h1.2M316.0 267.8h1.2M351.3 270.8h1.2M316.8 269.9h1.2M315.0 273.6h1.2M324.4 275.1h1.2M347.5 276.8h1.2M322.5 274.2h1.2M298.2 262.5h1.2M310.2 278.5h1.2M310.8 271.5h1.2M325.2 275.7h1.2M316.8 276.7h1.2M332.2 276.2h1.2M328.8 272.9h1.2M336.0 276.1h1.2M299.2 276.7h1.2M326.2 257.0h1.2M312.9 264.5h1.2M316.1 276.4h1.2M334.9 273.6h1.2M320.6 268.2h1.2M334.4 262.8h1.2M312.0 272.7h1.2M304.2 258.3h1.2M332.9 276.3h1.2M339.3 271.2h1.2M332.2 272.9h1.2M322.1 278.6h1.2M338.1 253.0h1.2M303.0 274.8h1.2M326.9 260.9h1.2M319.3 277.6h1.2M324.9 275.7h1.2M326.0 277.7h1.2M331.9 263.9h1.2M320.5 270.8h1.2M319.9 273.0h1.2M342.5 267.1h1.2M318.6 273.7h1.2M324.4 258.2h1.2M332.3 270.0h1.2M320.2 266.8h1.2M324.9 276.1h1.2M331.2 263.2h1.2M310.3 269.2h1.2M318.1 274.2h1.2M343.6 273.2h1.2M317.0 265.5h1.2M337.3 264.0h1.2M323.4 268.4h1.2M335.8 276.9h1.2M338.6 267.2h1.2M307.4 265.9h1.2M324.0 269.9h1.2M304.0 269.7h1.2M327.1 277.9h1.2M338.0 269.9h1.2M315.3 274.1h1.2M330.6 262.5h1.2M323.8 275.8h1.2M345.6 278.2h1.2M337.7 274.1h1.2M321.0 272.5h1.2M315.3 276.6h1.2M338.1 274.7h1.2M317.7 274.3h1.2M315.4 277.9h1.2M311.1 273.8h1.2M324.3 268.1h1.2M318.5 267.8h1.2M345.7 270.6h1.2M338.2 259.4h1.2M304.9 272.2h1.2M315.6 253.7h1.2M310.3 277.6h1.2M332.6 273.5h1.2M315.0 266.4h1.2M306.2 260.9h1.2M327.8 276.5h1.2M336.6 264.2h1.2M307.7 275.0h1.2M319.5 267.4h1.2M335.3 275.9h1.2M328.2 272.0h1.2M337.2 259.2h1.2M323.1 273.1h1.2M330.6 269.6h1.2M316.4 256.2h1.2M340.4 269.8h1.2M317.2 267.2h1.2M314.2 269.4h1.2M323.0 257.2h1.2M330.1 276.6h1.2M314.3 273.0h1.2M320.7 261.7h1.2M325.3 269.4h1.2M338.5 275.1h1.2M332.8 270.1h1.2M326.4 267.1h1.2M330.1 277.0h1.2M319.3 275.3h1.2M336.4 266.2h1.2M324.4 258.0h1.2M336.0 276.8h1.2M336.3 257.5h1.2M330.2 273.9h1.2M328.2 257.2h1.2M332.1 266.4h1.2M319.4 273.7h1.2M303.0 269.4h1.2M344.8 275.3h1.2M330.1 266.2h1.2M325.5 265.2h1.2M324.6 269.1h1.2M315.0 273.2h1.2M300.7 276.8h1.2M326.8 274.4h1.2M319.9 266.7h1.2M317.8 270.3h1.2M346.1 268.8h1.2M329.6 275.0h1.2M322.6 278.5h1.2M302.3 275.7h1.2M324.2 278.0h1.2M307.2 271.8h1.2M330.4 263.1h1.2M333.8 266.7h1.2M320.6 272.0h1.2M310.4 263.2h1.2M324.5 264.3h1.2M301.9 278.1h1.2M327.2 273.2h1.2M321.8 270.1h1.2M319.5 275.8h1.2M305.1 276.6h1.2M328.9 270.0h1.2M314.8 267.4h1.2M336.4 271.5h1.2M324.6 263.4h1.2M314.3 276.8h1.2M345.9 272.5h1.2M316.2 259.7h1.2M337.1 273.8h1.2M337.6 266.4h1.2M312.3 269.5h1.2M300.1 269.9h1.2M326.0 262.9h1.2M338.8 264.2h1.2M342.8 277.0h1.2M337.1 275.9h1.2M328.0 255.2h1.2M316.2 269.7h1.2M330.1 271.7h1.2M336.8 275.1h1.2M335.8 278.4h1.2M309.3 268.8h1.2M323.6 265.6h1.2M330.0 277.1h1.2M315.8 273.3h1.2M317.7 273.6h1.2M327.4 269.3h1.2M327.8 267.1h1.2M315.0 271.6h1.2M322.7 276.8h1.2M320.9 276.1h1.2M318.9 262.6h1.2M345.2 273.6h1.2M334.5 277.8h1.2M330.8 277.8h1.2M340.7 254.9h1.2M301.1 272.9h1.2M317.5 260.1h1.2M345.3 265.7h1.2M330.8 273.6h1.2M322.4 277.5h1.2M330.8 265.9h1.2M339.0 261.3h1.2M331.6 263.4h1.2M346.3 274.0h1.2M344.0 277.5h1.2M312.6 264.7h1.2M318.8 275.9h1.2M334.9 273.2h1.2M328.7 269.7h1.2M339.8 278.1h1.2M321.6 272.8h1.2M340.5 276.2h1.2M304.8 275.0h1.2M339.3 278.0h1.2M320.2 269.1h1.2M343.7 275.5h1.2M324.0 263.9h1.2M305.1 273.7h1.2M311.1 274.3h1.2M331.1 274.4h1.2M320.4 270.3h1.2M300.8 267.2h1.2M318.9 271.0h1.2M329.2 276.5h1.2M346.9 270.0h1.2M302.8 274.0h1.2M348.6 278.2h1.2M298.8 270.8h1.2M307.8 270.3h1.2M323.1 277.0h1.2M330.0 263.1h1.2M331.8 277.4h1.2M322.3 278.4h1.2M332.7 272.4h1.2M326.6 278.4h1.2M318.0 275.8h1.2M300.7 276.0h1.2M340.4 270.7h1.2M349.9 277.3h1.2M333.5 273.5h1.2M332.7 270.7h1.2M318.7 269.3h1.2M317.2 278.1h1.2M339.5 268.1h1.2M340.4 272.4h1.2M344.7 275.8h1.2M315.7 278.4h1.2M353.9 275.9h1.2M329.9 275.0h1.2M329.0 277.1h1.2M325.9 272.9h1.2M317.4 271.5h1.2M326.6 274.8h1.2M333.1 274.3h1.2M329.4 271.0h1.2M328.0 274.8h1.2M340.2 276.3h1.2M313.1 271.8h1.2M338.8 257.5h1.2M311.2 269.9h1.2M309.1 264.3h1.2M337.0 260.7h1.2M337.9 277.3h1.2M300.6 253.2h1.2M310.2 276.6h1.2M321.6 272.1h1.2M337.7 274.8h1.2M336.1 265.8h1.2M341.3 273.8h1.2M299.7 274.3h1.2M311.4 273.1h1.2M340.4 272.8h1.2M317.4 278.1h1.2M312.1 274.3h1.2M341.6 257.7h1.2M314.0 278.1h1.2M339.1 276.3h1.2M332.1 276.6h1.2M332.3 271.8h1.2M329.9 267.3h1.2M325.3 268.2h1.2M319.5 271.8h1.2M328.3 272.1h1.2M318.1 270.2h1.2M316.0 262.8h1.2M317.1 275.2h1.2M305.8 260.1h1.2M336.3 269.9h1.2M323.2 262.9h1.2M323.9 274.4h1.2M328.2 271.1h1.2M338.2 262.4h1.2M335.2 277.6h1.2M331.4 263.4h1.2M340.7 276.3h1.2M332.3 258.7h1.2M316.6 268.4h1.2M312.4 276.1h1.2M318.7 276.0h1.2M332.5 259.6h1.2M322.0 277.2h1.2M336.0 268.6h1.2M302.3 271.4h1.2M339.1 275.0h1.2M308.0 258.8h1.2M337.8 266.6h1.2M331.8 263.6h1.2M319.7 266.8h1.2M327.9 275.4h1.2M318.9 271.4h1.2M331.1 274.0h1.2M335.9 273.6h1.2M315.9 274.3h1.2M345.3 268.2h1.2M346.8 278.6h1.2M309.9 275.9h1.2M316.5 253.0h1.2M323.1 262.4h1.2M338.2 265.2h1.2M341.5 274.1h1.2M330.8 267.1h1.2M327.1 273.4h1.2M315.3 266.0h1.2M329.2 269.1h1.2M313.0 276.7h1.2M330.7 260.5h1.2M320.6 269.2h1.2M326.1 275.0h1.2M323.3 273.4h1.2M328.0 268.3h1.2M301.0 261.5h1.2M329.3 277.4h1.2M326.5 274.7h1.2M318.6 276.3h1.2M338.2 270.7h1.2M319.5 273.7h1.2M322.8 260.8h1.2M319.7 264.0h1.2M317.1 258.2h1.2M312.8 272.1h1.2M325.7 278.0h1.2M321.1 270.9h1.2M309.9 271.0h1.2M324.0 274.3h1.2M312.2 274.7h1.2M326.1 271.5h1.2M334.7 265.5h1.2M314.7 276.7h1.2M326.8 275.0h1.2M330.7 274.8h1.2M337.3 263.2h1.2M318.4 266.1h1.2M334.6 277.6h1.2M322.7 277.9h1.2M338.9 277.3h1.2M326.8 271.6h1.2M328.3 265.1h1.2M331.6 275.6h1.2M320.3 277.3h1.2M316.9 272.0h1.2M317.2 276.1h1.2M330.7 274.0h1.2M303.3 272.1h1.2M315.7 270.7h1.2M328.0 276.7h1.2M334.6 277.7h1.2M320.0 264.3h1.2M340.2 269.7h1.2M327.6 277.0h1.2M330.5 273.1h1.2M332.3 270.8h1.2M333.3 271.5h1.2M306.9 262.1h1.2M332.9 264.1h1.2M333.8 277.9h1.2M324.8 269.8h1.2M322.7 265.6h1.2M334.9 268.0h1.2M310.5 264.9h1.2M334.0 259.6h1.2M336.3 268.1h1.2M328.2 274.4h1.2M308.3 264.5h1.2M319.5 275.9h1.2M338.6 269.6h1.2M348.4 265.9h1.2M341.9 272.7h1.2M338.7 271.5h1.2M320.1 276.0h1.2M318.0 274.6h1.2M300.1 277.1h1.2M337.5 278.6h1.2M329.2 266.3h1.2M328.0 275.8h1.2M322.3 275.8h1.2M338.2 267.1h1.2M340.0 270.5h1.2M324.3 275.2h1.2M314.3 275.7h1.2M327.3 273.1h1.2M329.9 259.8h1.2M325.7 269.9h1.2M335.5 276.3h1.2M324.7 268.6h1.2M322.9 269.0h1.2M329.9 276.0h1.2M344.6 278.6h1.2M322.3 250.7h1.2M303.3 268.3h1.2M328.7 278.2h1.2M343.8 274.9h1.2M321.8 277.9h1.2M339.1 277.6h1.2M333.6 265.7h1.2M343.4 270.5h1.2M334.4 263.5h1.2M335.5 261.5h1.2M319.4 269.7h1.2M331.6 272.7h1.2M315.2 273.5h1.2M332.6 258.6h1.2M314.5 273.4h1.2M328.0 275.8h1.2M306.0 277.4h1.2M332.3 278.6h1.2M322.0 277.0h1.2M318.8 262.1h1.2M321.7 268.8h1.2M322.3 269.9h1.2M338.5 274.3h1.2M324.6 266.8h1.2M332.5 278.0h1.2M332.0 252.4h1.2M340.4 272.6h1.2M345.1 265.5h1.2M315.5 273.1h1.2M315.7 256.1h1.2M317.3 274.2h1.2M321.3 277.6h1.2M326.4 274.5h1.2M318.2 274.1h1.2M318.4 270.9h1.2M318.8 275.3h1.2M336.9 259.5h1.2M343.2 265.9h1.2M338.2 272.2h1.2M315.3 278.6h1.2M323.6 277.2h1.2M324.5 277.2h1.2M337.6 274.5h1.2M325.0 275.6h1.2M311.6 262.7h1.2M327.1 274.4h1.2M319.3 266.4h1.2M304.7 276.1h1.2M300.8 278.7h1.2M337.6 273.5h1.2M324.1 276.6h1.2M328.4 268.8h1.2M325.6 261.0h1.2M331.3 269.9h1.2M304.0 267.5h1.2M333.4 267.2h1.2M324.4 276.6h1.2M329.6 274.6h1.2M334.5 272.2h1.2M316.8 274.5h1.2M312.2 275.5h1.2M319.0 270.2h1.2M337.6 270.3h1.2M298.7 276.2h1.2M332.8 266.3h1.2M315.2 271.5h1.2M317.2 261.8h1.2M338.5 262.5h1.2M337.6 269.2h1.2M324.7 273.1h1.2M326.9 273.3h1.2M329.7 266.0h1.2M314.4 278.6h1.2M299.6 271.7h1.2M337.1 267.1h1.2M326.3 267.3h1.2M316.9 274.1h1.2M346.6 266.3h1.2M340.7 276.6h1.2M329.0 272.9h1.2M320.9 273.5h1.2M331.4 259.0h1.2M329.4 262.3h1.2M321.9 272.2h1.2M317.9 270.7h1.2M331.4 267.5h1.2M335.3 278.7h1.2M320.2 278.5h1.2M320.3 275.8h1.2M335.7 275.9h1.2M326.1 266.4h1.2M314.7 267.3h1.2M321.7 273.5h1.2M315.5 267.0h1.2M319.0 276.8h1.2M325.2 272.7h1.2M323.2 273.3h1.2M328.9 277.4h1.2M321.3 275.1h1.2M329.8 265.9h1.2M325.4 252.7h1.2M301.9 271.7h1.2M309.0 275.1h1.2M332.9 268.9h1.2M308.4 268.9h1.2M327.9 264.3h1.2M324.1 270.9h1.2M325.4 277.9h1.2M314.4 265.3h1.2M328.5 277.8h1.2M300.7 266.8h1.2M317.5 274.4h1.2M318.7 275.0h1.2M317.2 272.4h1.2M327.5 271.1h1.2M342.4 275.2h1.2M313.2 262.2h1.2M345.9 271.4h1.2M330.3 274.3h1.2M326.1 264.4h1.2M315.8 277.2h1.2M323.7 277.0h1.2M330.6 273.2h1.2M315.9 277.2h1.2M335.2 264.1h1.2M305.9 261.6h1.2M331.1 267.2h1.2M314.9 278.1h1.2M320.5 269.3h1.2M317.7 275.7h1.2M300.9 269.6h1.2M344.3 275.3h1.2M335.8 278.7h1.2M329.5 272.5h1.2M305.7 265.7h1.2M309.4 273.6h1.2M305.9 268.9h1.2M327.3 266.3h1.2M308.3 275.5h1.2M315.7 275.6h1.2M308.4 257.1h1.2M303.5 274.5h1.2M323.5 277.6h1.2M324.0 265.0h1.2M346.0 271.3h1.2M329.7 261.0h1.2M299.9 271.9h1.2M327.8 277.8h1.2M313.5 278.2h1.2M303.9 273.8h1.2M328.4 272.6h1.2M341.7 278.6h1.2M316.2 272.1h1.2M315.1 269.7h1.2M348.3 275.1h1.2M311.4 275.9h1.2M335.0 267.4h1.2M331.2 270.2h1.2M324.7 273.7h1.2M314.5 264.2h1.2M340.8 274.6h1.2M317.6 274.9h1.2M317.0 269.5h1.2M323.3 276.4h1.2M298.3 260.8h1.2M313.7 271.7h1.2M321.8 277.8h1.2M336.4 274.6h1.2M300.4 276.3h1.2M324.9 270.8h1.2M339.8 265.5h1.2M309.5 278.6h1.2M334.4 267.5h1.2M338.9 265.2h1.2M313.8 277.1h1.2M324.6 277.1h1.2M341.6 269.5h1.2M323.6 273.1h1.2M329.0 273.8h1.2M323.9 266.8h1.2M309.7 277.6h1.2M332.8 269.0h1.2M338.5 262.9h1.2M315.6 264.9h1.2M304.0 266.0h1.2M328.0 274.6h1.2M332.0 267.5h1.2M336.5 274.0h1.2M332.1 268.1h1.2M335.2 275.7h1.2M323.9 270.4h1.2M328.7 269.4h1.2M326.6 278.1h1.2M324.9 277.9h1.2M326.4 271.3h1.2M329.0 259.6h1.2M315.0 263.8h1.2M312.3 270.9h1.2M316.2 268.6h1.2M330.9 277.5h1.2M319.9 268.1h1.2M313.4 269.1h1.2M307.4 270.4h1.2M332.9 268.7h1.2M338.6 263.6h1.2M335.2 267.4h1.2M335.1 277.5h1.2M318.7 273.1h1.2M333.5 270.3h1.2M336.3 272.3h1.2M309.4 278.0h1.2M334.3 277.0h1.2M325.1 277.7h1.2M335.7 274.0h1.2M332.8 277.5h1.2M315.1 272.5h1.2M313.7 264.4h1.2M333.2 247.4h1.2M340.7 260.8h1.2M321.9 268.6h1.2M325.0 272.1h1.2M325.2 268.6h1.2M327.3 272.4h1.2M340.0 259.6h1.2M329.0 276.2h1.2M320.2 271.1h1.2M319.7 274.5h1.2M307.8 267.8h1.2M321.8 274.4h1.2M339.3 271.0h1.2M324.5 277.0h1.2M337.3 271.1h1.2M320.3 269.0h1.2M300.8 275.0h1.2M326.0 276.9h1.2M301.5 274.1h1.2M325.5 275.7h1.2M322.4 272.3h1.2M314.7 274.6h1.2M346.5 273.3h1.2M324.6 264.3h1.2M318.3 269.1h1.2M310.6 266.2h1.2M319.5 264.3h1.2M333.4 275.0h1.2M320.9 271.5h1.2M305.5 275.0h1.2M313.9 276.2h1.2M346.0 274.4h1.2M337.6 277.4h1.2M308.9 275.0h1.2M326.7 278.0h1.2M303.6 268.5h1.2M304.0 248.5h1.2M323.8 263.3h1.2M318.4 265.2h1.2M332.0 277.5h1.2M336.9 268.8h1.2M332.7 276.5h1.2M343.1 266.9h1.2M330.3 278.3h1.2M345.4 265.4h1.2M300.5 258.6h1.2M320.8 277.0h1.2M306.8 277.4h1.2M319.8 275.1h1.2M336.6 277.8h1.2M320.6 267.2h1.2M330.5 276.1h1.2M315.3 275.0h1.2M324.9 274.1h1.2M336.4 276.1h1.2M340.8 273.6h1.2M328.7 275.7h1.2M324.6 274.4h1.2M326.9 272.8h1.2M338.6 274.8h1.2M332.9 277.9h1.2M333.0 270.9h1.2M298.7 270.5h1.2M321.9 276.0h1.2M309.2 266.3h1.2M330.5 270.8h1.2M302.1 278.5h1.2M309.5 264.3h1.2M301.0 269.1h1.2M304.8 262.0h1.2M316.7 268.6h1.2M314.8 275.2h1.2M298.5 268.6h1.2M318.2 275.7h1.2M330.4 277.9h1.2M313.0 276.3h1.2M332.6 277.7h1.2M346.9 270.3h1.2M321.5 261.3h1.2M307.8 265.2h1.2M302.5 265.1h1.2M315.1 265.2h1.2M334.5 256.3h1.2M339.1 257.7h1.2M334.5 270.1h1.2M319.3 263.1h1.2M336.4 273.4h1.2M324.1 273.1h1.2M303.7 261.4h1.2M324.5 275.5h1.2M321.8 272.1h1.2M329.9 266.1h1.2M317.2 270.8h1.2M336.9 269.2h1.2M317.9 256.7h1.2M317.1 263.2h1.2M312.3 268.3h1.2M298.2 277.6h1.2M328.1 275.3h1.2M320.4 269.4h1.2M330.1 269.9h1.2M328.3 278.3h1.2M332.1 276.1h1.2M337.5 268.7h1.2M326.8 276.7h1.2M307.0 275.9h1.2M352.9 275.9h1.2M341.8 257.7h1.2M328.0 268.6h1.2M310.3 275.6h1.2M338.2 271.6h1.2M323.2 262.3h1.2M330.6 262.6h1.2M320.3 271.5h1.2M315.7 271.6h1.2M316.0 263.9h1.2M322.4 277.3h1.2M331.5 268.8h1.2M341.7 275.5h1.2M334.7 270.4h1.2M329.9 258.3h1.2M321.9 267.8h1.2M321.1 265.9h1.2M311.8 268.6h1.2M312.3 269.0h1.2M329.8 276.5h1.2M331.1 259.8h1.2M331.9 261.1h1.2M334.9 267.8h1.2M336.9 276.2h1.2M332.5 275.0h1.2M306.4 275.2h1.2M335.9 276.6h1.2M353.0 274.0h1.2M319.3 256.0h1.2M323.4 269.3h1.2M327.4 269.0h1.2M335.7 277.6h1.2M337.2 273.3h1.2M329.2 277.9h1.2M330.9 267.7h1.2M311.5 264.2h1.2M345.0 276.0h1.2M325.8 276.5h1.2M335.3 276.5h1.2M339.4 273.9h1.2M331.2 263.2h1.2M337.5 274.2h1.2M329.1 265.3h1.2M336.0 259.8h1.2M314.7 264.2h1.2M331.2 270.3h1.2M336.5 270.2h1.2M317.6 259.7h1.2M326.0 276.2h1.2M326.3 268.2h1.2M335.4 269.1h1.2M305.4 264.2h1.2M335.0 257.0h1.2M329.8 275.5h1.2M332.5 275.7h1.2M311.5 266.5h1.2M311.4 273.6h1.2M328.7 274.9h1.2M345.8 276.3h1.2M301.5 270.1h1.2M313.9 264.7h1.2M331.4 261.6h1.2M321.9 277.1h1.2M323.7 272.9h1.2M321.4 272.8h1.2M308.2 276.4h1.2M337.6 277.0h1.2M324.8 277.8h1.2M333.5 270.4h1.2M322.9 273.1h1.2M346.8 275.5h1.2M345.1 264.8h1.2M353.7 273.9h1.2M328.7 272.7h1.2M313.7 275.8h1.2M333.4 278.1h1.2M323.3 272.7h1.2M333.0 264.0h1.2M326.7 266.1h1.2M333.4 253.9h1.2M333.4 277.9h1.2M310.9 275.6h1.2M346.6 274.5h1.2M369.6 246.8h1.2M371.0 253.9h1.2M375.1 257.7h1.2M366.3 244.0h1.2M371.6 270.3h1.2M371.3 258.4h1.2M377.7 271.0h1.2M369.5 258.6h1.2M370.8 244.2h1.2M368.3 262.0h1.2M367.6 249.8h1.2M369.9 240.8h1.2M374.6 276.9h1.2M367.0 278.2h1.2M364.8 255.0h1.2M372.2 271.7h1.2M371.0 240.5h1.2M368.4 248.3h1.2M367.1 240.4h1.2M368.3 272.4h1.2M370.9 241.7h1.2M366.2 274.7h1.2M368.7 252.6h1.2M369.7 264.4h1.2M373.0 264.9h1.2M367.3 248.0h1.2M370.3 254.9h1.2M377.6 244.1h1.2M368.5 247.8h1.2M369.0 257.8h1.2M365.7 267.6h1.2M367.5 257.1h1.2M375.1 242.1h1.2M372.3 258.4h1.2M365.8 267.8h1.2M373.1 249.4h1.2M366.8 258.4h1.2M365.7 245.5h1.2M374.0 242.4h1.2M367.4 249.3h1.2M372.5 255.3h1.2M369.8 270.7h1.2M372.2 268.9h1.2M365.6 241.5h1.2M378.0 271.3h1.2M375.3 241.5h1.2M372.5 276.3h1.2M370.8 248.6h1.2M366.2 264.9h1.2M362.9 275.9h1.2M369.8 240.7h1.2M372.0 269.5h1.2M377.5 267.7h1.2M375.7 247.3h1.2M370.7 260.0h1.2M368.0 244.1h1.2M371.7 275.7h1.2M362.8 240.1h1.2M372.7 272.0h1.2M366.4 259.6h1.2M366.6 271.2h1.2M366.8 243.0h1.2M374.1 251.3h1.2M371.5 255.5h1.2M375.8 240.9h1.2M370.3 272.4h1.2M371.5 244.8h1.2M366.4 265.4h1.2M371.0 244.3h1.2M373.6 278.1h1.2M366.9 243.7h1.2M369.1 268.5h1.2M374.0 244.0h1.2M364.5 254.3h1.2M368.1 245.8h1.2M375.6 263.7h1.2M375.9 240.3h1.2M369.2 242.9h1.2M374.1 263.4h1.2M373.5 260.3h1.2M366.6 263.8h1.2M371.0 265.3h1.2M374.9 271.1h1.2M367.1 275.6h1.2M372.9 241.2h1.2M365.3 266.6h1.2M372.2 274.2h1.2M367.0 247.0h1.2M373.5 267.6h1.2M368.7 249.9h1.2M363.7 258.8h1.2M364.9 250.9h1.2M370.7 278.4h1.2M381.0 276.9h1.2M386.4 273.9h1.2M397.7 271.3h1.2M362.4 255.7h1.2M369.2 248.6h1.2M360.3 275.5h1.2M394.1 258.2h1.2M386.8 272.0h1.2M392.6 272.6h1.2M375.1 251.3h1.2M389.4 257.7h1.2M379.7 259.4h1.2" stroke="#e80c0c" stroke-width="1.2" fill="none"/>
<path d="M370.4 208.5h1.2M370.7 222.1h1.2M379.3 233.2h1.2M375.2 203.9h1.2M366.8 195.7h1.2M363.9 207.3h1.2M369.4 198.2h1.2M373.8 226.3h1.2M371.1 195.2h1.2M371.4 227.0h1.2M374.5 239.4h1.2M373.2 237.1h1.2M371.3 238.6h1.2M373.4 218.5h1.2M374.3 209.4h1.2M366.5 206.6h1.2M373.5 197.5h1.2M373.3 199.1h1.2M372.3 223.1h1.2M369.8 230.6h1.2M367.7 227.8h1.2M368.1 203.5h1.2M375.4 236.8h1.2M369.6 201.9h1.2M370.5 226.2h1.2M365.6 205.3h1.2M375.7 230.9h1.2M371.6 221.4h1.2M369.1 203.6h1.2M368.9 230.6h1.2M363.2 205.4h1.2M376.5 220.4h1.2M374.7 201.2h1.2M373.1 199.9h1.2M376.6 223.5h1.2M374.5 195.4h1.2M369.3 192.9h1.2M374.4 188.2h1.2M367.5 195.0h1.2M377.8 189.8h1.2M376.6 194.7h1.2M372.4 189.6h1.2M382.2 194.6h1.2M375.3 190.9h1.2M369.9 193.2h1.2M373.7 193.4h1.2M374.0 185.1h1.2M372.8 192.6h1.2M373.0 193.1h1.2M374.9 191.7h1.2M372.8 198.6h1.2M374.9 193.4h1.2M375.6 193.0h1.2M368.4 190.5h1.2M374.9 194.2h1.2M382.6 222.2h1.2M365.5 192.2h1.2M361.7 276.2h1.2M356.7 205.7h1.2M381.6 268.3h1.2M388.2 226.8h1.2M390.3 239.8h1.2M363.5 226.1h1.2M380.6 252.7h1.2M357.2 199.2h1.2M390.3 190.6h1.2M384.5 213.5h1.2M361.9 205.3h1.2M370.8 278.1h1.2M357.9 264.6h1.2M364.8 197.1h1.2M381.8 213.8h1.2M359.5 221.4h1.2M384.9 265.4h1.2M375.0 181.0h1.2M382.5 240.0h1.2M388.0 274.2h1.2M365.1 264.0h1.2M384.8 206.3h1.2M366.6 217.1h1.2M316.2 201.9h1.2M305.1 191.1h1.2M341.8 204.2h1.2M329.2 238.0h1.2" stroke="#9ee69e" stroke-width="1.2" fill="none"/>
<path d="M368.1 249.8h1.2M367.2 244.3h1.2M373.2 249.7h1.2M370.8 254.9h1.2M367.3 269.8h1.2M370.4 248.5h1.2M372.3 255.0h1.2M366.7 258.4h1.2M373.8 273.9h1.2M374.9 272.6h1.2M371.6 249.2h1.2M373.7 244.5h1.2M370.7 257.9h1.2M369.6 244.6h1.2M368.5 258.7h1.2M371.2 257.2h1.2M372.3 244.6h1.2M373.0 258.3h1.2M371.4 276.5h1.2M368.7 248.7h1.2M369.5 269.0h1.2M363.5 277.5h1.2M367.3 273.5h1.2M376.5 260.5h1.2M375.4 249.3h1.2M373.3 248.3h1.2M376.1 243.2h1.2M369.2 258.0h1.2M377.9 268.5h1.2M373.4 252.4h1.2M371.7 248.0h1.2M368.3 244.7h1.2M367.2 278.4h1.2M367.8 240.4h1.2M370.3 265.5h1.2M369.2 258.3h1.2M369.9 268.9h1.2M367.5 259.5h1.2M369.4 263.6h1.2M368.9 271.3h1.2M368.4 276.9h1.2M369.6 254.3h1.2M363.1 275.2h1.2M371.0 263.3h1.2M372.3 275.2h1.2M372.1 241.4h1.2M371.2 257.1h1.2M371.4 269.2h1.2M371.8 262.7h1.2M373.3 266.5h1.2M368.7 240.5h1.2M372.4 258.6h1.2M369.2 260.0h1.2M373.9 278.7h1.2M368.7 264.2h1.2M371.4 247.9h1.2M367.6 277.5h1.2M370.7 252.5h1.2M367.3 266.1h1.2M371.8 240.9h1.2M368.5 272.3h1.2M371.5 240.0h1.2M367.9 257.7h1.2M368.3 261.9h1.2M369.5 249.4h1.2M368.1 244.7h1.2M371.9 245.3h1.2M369.5 260.4h1.2M363.6 242.2h1.2M366.4 249.1h1.2M372.3 257.6h1.2M374.0 255.9h1.2M373.9 273.5h1.2M366.7 277.3h1.2M369.0 255.9h1.2M378.3 242.0h1.2M371.4 240.7h1.2M369.2 251.3h1.2M367.8 273.9h1.2M378.9 256.4h1.2M363.3 271.5h1.2M368.8 265.5h1.2M368.3 249.5h1.2M369.9 265.7h1.2M364.6 275.1h1.2M366.8 277.5h1.2M370.5 275.0h1.2M371.3 262.2h1.2M372.2 250.0h1.2M376.6 205.6h1.2M367.7 225.5h1.2M374.6 198.3h1.2M370.7 216.2h1.2M365.4 225.2h1.2M371.2 216.4h1.2M370.5 225.5h1.2M369.5 203.1h1.2M365.4 238.1h1.2M371.6 214.4h1.2M368.2 238.1h1.2M372.1 238.3h1.2M375.0 235.5h1.2M371.7 211.2h1.2M377.5 224.9h1.2M371.2 205.0h1.2M368.9 204.7h1.2M370.9 201.1h1.2M372.1 213.3h1.2M369.6 221.2h1.2M371.8 237.4h1.2M367.7 226.7h1.2M369.3 214.7h1.2M373.1 195.8h1.2M375.1 225.4h1.2M373.0 238.3h1.2M374.3 229.5h1.2M373.9 223.6h1.2M366.1 226.7h1.2M373.6 229.5h1.2M374.1 193.3h1.2M371.3 192.7h1.2M373.9 190.3h1.2M373.7 188.9h1.2M373.1 195.1h1.2M372.8 187.1h1.2M375.4 189.8h1.2M372.6 195.1h1.2M373.9 192.8h1.2M374.6 196.1h1.2M375.8 186.8h1.2M378.3 189.6h1.2M373.2 193.4h1.2M373.8 190.0h1.2M373.2 190.2h1.2M376.9 192.1h1.2M377.4 196.7h1.2M376.0 188.7h1.2M374.4 192.4h1.2M371.0 190.8h1.2M371.4 194.6h1.2M369.8 190.1h1.2M374.7 191.7h1.2M371.8 193.2h1.2M373.9 195.5h1.2" stroke="#1ed21e" stroke-width="1.2" fill="none"/>
<path d="M361.2 242.9h1.2M367.9 258.8h1.2M367.4 276.3h1.2M366.5 253.5h1.2M374.6 277.6h1.2M367.2 239.9h1.2M370.7 275.0h1.2M372.8 236.6h1.2M369.6 278.6h1.2M375.5 243.6h1.2M365.1 265.7h1.2M372.0 268.1h1.2M370.1 247.1h1.2M367.4 237.2h1.2M369.1 247.2h1.2M367.8 277.5h1.2M367.1 264.2h1.2M366.3 261.7h1.2M369.0 238.7h1.2M367.2 238.9h1.2M373.3 242.1h1.2M370.3 240.9h1.2M360.8 265.6h1.2M370.4 247.8h1.2M370.3 240.3h1.2M367.8 249.0h1.2M365.5 255.1h1.2M372.9 267.3h1.2M376.7 250.7h1.2M374.6 271.8h1.2M378.5 204.3h1.2M373.3 230.1h1.2M373.7 206.4h1.2M367.1 195.4h1.2M374.8 201.5h1.2M379.1 222.0h1.2M367.6 202.4h1.2M369.3 200.9h1.2M380.2 210.7h1.2M377.7 221.7h1.2M369.7 197.7h1.2M370.9 195.6h1.2M373.1 234.5h1.2M370.5 209.9h1.2M371.7 227.3h1.2M334.8 211.2h1.2M342.3 237.0h1.2M345.6 233.5h1.2" stroke="#4a4438" stroke-width="1.2" fill="none"/>
<rect x="297.4" y="165.3" width="102" height="114.2" fill="none" stroke="#000" stroke-width="1.2"/>
<line x1="347.9" y1="165.3" x2="347.9" y2="279.5" stroke="#000" stroke-width="1.1"/>
<line x1="297.4" y1="246.4" x2="399.4" y2="246.4" stroke="#000" stroke-width="1.1"/>
<text x="357.9" y="179.6" font-size="10.6" text-anchor="start" fill="#111" >12.6%</text>
<text x="294.4" y="282.1" font-size="5.4" font-weight="bold" letter-spacing="-0.35" text-anchor="end" fill="#000" stroke="#000" stroke-width="0.5">10<tspan font-size="3.6" dy="-1.8" stroke-width="0.2">0</tspan></text>
<text x="296.9" y="288.0" font-size="5.4" font-weight="bold" letter-spacing="-0.35" text-anchor="middle" fill="#000" stroke="#000" stroke-width="0.5">10<tspan font-size="3.6" dy="-1.8" stroke-width="0.2">0</tspan></text>
<text x="294.4" y="253.5" font-size="5.4" font-weight="bold" letter-spacing="-0.35" text-anchor="end" fill="#000" stroke="#000" stroke-width="0.5">10<tspan font-size="3.6" dy="-1.8" stroke-width="0.2">1</tspan></text>
<text x="322.4" y="288.0" font-size="5.4" font-weight="bold" letter-spacing="-0.35" text-anchor="middle" fill="#000" stroke="#000" stroke-width="0.5">10<tspan font-size="3.6" dy="-1.8" stroke-width="0.2">1</tspan></text>
<text x="294.4" y="225.0" font-size="5.4" font-weight="bold" letter-spacing="-0.35" text-anchor="end" fill="#000" stroke="#000" stroke-width="0.5">10<tspan font-size="3.6" dy="-1.8" stroke-width="0.2">2</tspan></text>
<text x="347.9" y="288.0" font-size="5.4" font-weight="bold" letter-spacing="-0.35" text-anchor="middle" fill="#000" stroke="#000" stroke-width="0.5">10<tspan font-size="3.6" dy="-1.8" stroke-width="0.2">2</tspan></text>
<text x="294.4" y="196.4" font-size="5.4" font-weight="bold" letter-spacing="-0.35" text-anchor="end" fill="#000" stroke="#000" stroke-width="0.5">10<tspan font-size="3.6" dy="-1.8" stroke-width="0.2">3</tspan></text>
<text x="373.4" y="288.0" font-size="5.4" font-weight="bold" letter-spacing="-0.35" text-anchor="middle" fill="#000" stroke="#000" stroke-width="0.5">10<tspan font-size="3.6" dy="-1.8" stroke-width="0.2">3</tspan></text>
<text x="294.4" y="167.9" font-size="5.4" font-weight="bold" letter-spacing="-0.35" text-anchor="end" fill="#000" stroke="#000" stroke-width="0.5">10<tspan font-size="3.6" dy="-1.8" stroke-width="0.2">4</tspan></text>
<text x="398.9" y="288.0" font-size="5.4" font-weight="bold" letter-spacing="-0.35" text-anchor="middle" fill="#000" stroke="#000" stroke-width="0.5">10<tspan font-size="3.6" dy="-1.8" stroke-width="0.2">4</tspan></text>
<path d="M457.6 276.6h1.2M438.5 269.9h1.2M458.9 268.7h1.2M424.7 263.4h1.2M453.7 273.1h1.2M430.0 270.9h1.2M433.8 270.2h1.2M459.8 264.7h1.2M438.9 273.1h1.2M441.9 277.5h1.2M428.9 276.1h1.2M427.5 277.9h1.2M428.3 269.1h1.2M432.9 265.2h1.2M427.3 266.4h1.2M433.4 270.3h1.2M433.7 263.5h1.2M433.2 269.2h1.2M449.9 278.5h1.2M436.8 272.3h1.2M451.4 263.8h1.2M458.7 270.5h1.2M438.6 273.7h1.2M424.7 276.8h1.2M435.1 276.6h1.2M428.5 263.2h1.2M465.6 270.6h1.2M462.6 275.5h1.2M440.1 271.0h1.2M427.0 268.2h1.2M424.9 276.1h1.2M466.0 263.0h1.2M436.3 268.8h1.2M459.7 272.7h1.2M449.1 276.4h1.2M463.8 256.3h1.2M424.9 277.9h1.2M456.6 267.4h1.2M449.3 277.8h1.2M453.3 275.2h1.2M443.9 271.0h1.2M429.4 266.1h1.2M461.4 275.6h1.2M454.0 266.8h1.2M452.1 276.8h1.2M420.5 260.6h1.2M439.2 276.2h1.2M450.5 277.5h1.2M429.2 275.9h1.2M435.5 274.1h1.2M432.6 270.8h1.2M443.8 275.4h1.2M438.2 268.6h1.2M432.3 278.1h1.2M441.3 268.9h1.2M439.2 274.8h1.2M439.9 265.6h1.2M437.4 272.6h1.2M434.7 275.3h1.2M436.8 268.0h1.2M418.3 263.2h1.2M453.0 270.9h1.2M437.3 268.3h1.2M439.2 267.4h1.2M453.3 274.2h1.2M441.2 269.0h1.2M450.5 265.3h1.2M454.9 275.2h1.2M445.0 275.0h1.2M456.4 270.8h1.2M444.5 270.0h1.2M455.9 273.4h1.2M438.1 270.9h1.2M452.6 265.1h1.2M459.8 278.0h1.2M425.7 270.6h1.2M419.0 278.3h1.2M425.1 276.2h1.2M450.3 276.7h1.2M452.6 259.0h1.2M462.3 266.6h1.2M452.5 274.7h1.2M442.8 259.7h1.2M459.9 268.3h1.2M446.7 276.7h1.2M442.6 278.0h1.2M448.2 278.0h1.2M446.3 274.1h1.2M450.3 270.2h1.2M438.9 277.7h1.2M442.8 272.2h1.2M465.8 277.8h1.2M437.0 274.1h1.2M420.8 271.9h1.2M441.9 277.1h1.2M446.3 266.8h1.2M453.0 270.3h1.2M424.0 264.9h1.2M461.9 274.4h1.2M440.9 268.1h1.2M453.3 273.9h1.2M426.4 261.6h1.2M443.6 273.2h1.2M437.6 268.1h1.2M463.9 267.0h1.2M437.0 273.8h1.2M456.0 274.0h1.2M457.4 264.3h1.2M425.6 271.7h1.2M441.5 275.9h1.2M465.4 264.3h1.2M435.9 278.6h1.2M446.2 266.5h1.2M446.9 277.8h1.2M422.9 278.7h1.2M439.2 274.7h1.2M430.3 277.7h1.2M428.6 263.5h1.2M443.6 274.9h1.2M436.3 258.5h1.2M438.5 268.0h1.2M437.3 268.5h1.2M440.7 267.3h1.2M454.3 278.1h1.2M444.0 276.5h1.2M424.3 273.2h1.2M435.6 278.5h1.2M440.6 262.8h1.2M419.7 269.4h1.2M427.4 276.4h1.2M434.5 273.7h1.2M440.4 277.5h1.2M438.4 270.4h1.2M443.0 269.2h1.2M430.0 274.7h1.2M428.6 268.0h1.2M455.0 271.9h1.2M443.6 272.9h1.2M434.4 264.0h1.2M453.7 270.2h1.2M424.9 275.2h1.2M462.3 271.4h1.2M437.4 266.7h1.2M450.3 270.9h1.2M441.9 270.0h1.2M454.6 274.5h1.2M435.6 276.3h1.2M465.1 271.1h1.2M436.5 269.3h1.2M442.1 277.3h1.2M448.8 273.8h1.2M445.0 265.1h1.2M438.1 266.0h1.2M438.6 269.8h1.2M431.7 272.8h1.2M429.7 274.3h1.2M421.1 266.8h1.2M443.8 274.5h1.2M462.5 264.5h1.2M419.4 267.8h1.2M453.9 271.8h1.2M418.6 277.7h1.2M422.9 273.5h1.2M430.8 270.7h1.2M434.8 269.5h1.2M421.2 277.4h1.2M465.1 266.8h1.2M453.6 273.8h1.2M463.8 271.9h1.2M465.7 269.1h1.2M432.8 277.6h1.2M430.5 273.3h1.2M438.5 276.4h1.2M456.4 274.7h1.2M437.8 277.8h1.2M442.5 273.0h1.2M429.6 276.1h1.2M429.6 270.0h1.2M449.3 270.8h1.2M457.6 270.4h1.2M426.4 256.8h1.2M450.8 275.1h1.2M436.8 271.1h1.2M419.6 277.7h1.2M447.8 272.4h1.2M456.2 271.1h1.2M444.5 276.9h1.2M451.3 267.7h1.2M440.6 277.0h1.2M440.6 275.5h1.2M452.4 273.4h1.2M442.5 274.2h1.2M447.0 267.3h1.2M457.8 267.1h1.2M451.9 277.4h1.2M446.2 257.1h1.2M441.7 267.9h1.2M442.8 273.9h1.2M432.0 269.3h1.2M457.1 274.1h1.2M443.9 268.9h1.2M445.8 268.6h1.2M420.2 275.6h1.2M425.5 278.0h1.2M452.7 276.5h1.2M439.8 270.5h1.2M431.3 268.9h1.2M441.5 266.0h1.2M448.6 270.8h1.2M454.0 268.1h1.2M432.1 269.3h1.2M452.0 277.0h1.2M465.8 270.4h1.2M459.5 259.6h1.2M464.5 264.5h1.2M427.4 260.4h1.2M434.0 278.5h1.2M429.7 278.6h1.2M441.0 267.9h1.2M430.1 272.3h1.2M435.1 277.9h1.2M451.8 277.2h1.2M431.2 268.8h1.2M437.6 277.0h1.2M457.3 269.7h1.2M442.2 272.6h1.2M437.6 272.8h1.2M443.5 263.2h1.2M444.8 262.1h1.2M450.5 269.3h1.2M431.4 270.7h1.2M446.5 267.6h1.2M464.4 276.6h1.2M429.0 277.0h1.2M453.4 275.4h1.2M437.6 273.7h1.2M438.0 258.9h1.2M459.6 269.8h1.2M446.9 273.2h1.2M442.0 275.1h1.2M433.9 257.3h1.2M460.8 273.6h1.2M436.0 276.6h1.2M451.8 273.3h1.2M436.7 275.2h1.2M435.5 273.3h1.2M431.3 267.3h1.2M437.0 266.9h1.2M457.9 277.6h1.2M432.1 273.4h1.2M429.2 260.8h1.2M445.6 278.3h1.2M445.4 271.1h1.2M432.3 274.5h1.2M447.8 271.3h1.2M423.6 274.7h1.2M429.5 274.9h1.2M436.1 273.6h1.2M448.2 262.0h1.2M444.9 268.2h1.2M420.6 274.2h1.2M455.3 274.6h1.2M444.3 265.9h1.2M454.7 278.5h1.2M459.7 275.1h1.2M443.6 271.4h1.2M448.2 271.2h1.2M426.1 267.9h1.2M442.2 275.1h1.2M435.2 274.2h1.2M433.3 271.0h1.2M464.5 266.9h1.2M454.0 269.9h1.2M438.8 271.6h1.2M434.3 257.7h1.2M455.4 274.6h1.2M449.9 276.1h1.2M437.0 275.4h1.2M439.9 274.7h1.2M419.4 271.1h1.2M457.7 275.8h1.2M441.9 273.0h1.2M444.1 270.1h1.2M430.8 276.2h1.2M426.2 275.2h1.2M438.1 267.9h1.2M429.2 278.1h1.2M437.6 265.4h1.2M430.1 267.9h1.2M428.7 261.9h1.2M454.1 272.8h1.2M417.9 271.1h1.2M449.3 268.7h1.2M451.5 255.0h1.2M430.8 268.7h1.2M426.5 273.8h1.2M432.3 271.2h1.2M451.0 272.6h1.2M447.4 274.4h1.2M434.3 270.6h1.2M444.5 266.9h1.2M449.1 275.0h1.2M450.0 260.5h1.2M465.5 269.1h1.2M445.3 271.7h1.2M456.9 278.7h1.2M435.9 268.2h1.2M459.4 273.8h1.2M439.5 268.9h1.2M439.9 271.3h1.2M424.1 276.1h1.2M433.5 274.4h1.2M467.3 267.7h1.2M435.1 263.0h1.2M433.7 266.2h1.2M437.5 273.8h1.2M440.6 278.6h1.2M444.5 273.0h1.2M435.0 277.8h1.2M438.9 271.9h1.2M434.4 273.3h1.2M439.7 261.6h1.2M443.2 273.3h1.2M448.0 268.4h1.2M444.4 271.3h1.2M455.7 271.5h1.2M426.5 268.1h1.2M421.1 271.2h1.2M449.1 275.3h1.2M436.6 273.8h1.2M448.4 267.5h1.2M430.7 277.6h1.2M449.0 276.7h1.2M444.4 266.6h1.2M446.5 262.4h1.2M442.0 272.4h1.2M449.1 271.6h1.2M451.3 270.0h1.2M431.0 264.1h1.2M437.9 268.8h1.2M447.2 269.6h1.2M449.0 276.1h1.2M453.6 275.7h1.2M444.3 267.5h1.2M465.8 269.8h1.2M459.4 275.7h1.2M452.1 275.3h1.2M464.8 268.8h1.2M433.0 275.6h1.2M457.9 273.3h1.2M443.9 271.6h1.2M444.9 273.0h1.2M436.3 276.1h1.2M459.5 271.1h1.2M465.0 274.9h1.2M433.1 269.4h1.2M440.6 273.8h1.2M453.0 273.3h1.2M433.9 268.1h1.2M419.1 271.2h1.2M434.2 276.3h1.2M439.1 272.3h1.2M432.7 262.1h1.2M419.2 275.8h1.2M435.7 275.2h1.2M452.1 275.1h1.2M445.6 271.4h1.2M467.9 272.9h1.2M433.4 276.7h1.2M458.0 266.4h1.2M453.4 277.2h1.2M444.9 274.8h1.2M435.0 269.1h1.2M461.1 278.2h1.2M433.4 275.6h1.2M422.1 271.9h1.2M429.5 271.4h1.2M447.3 277.3h1.2M442.6 277.6h1.2M450.9 271.4h1.2M447.1 273.7h1.2M448.5 276.0h1.2M455.1 265.4h1.2M442.9 272.1h1.2M437.6 275.0h1.2M459.4 276.6h1.2M446.2 277.4h1.2M431.3 273.1h1.2M443.1 276.9h1.2M456.0 277.3h1.2M457.2 275.8h1.2M431.9 270.6h1.2M450.9 277.7h1.2M433.5 273.3h1.2M460.8 274.5h1.2M463.3 278.7h1.2M427.8 261.2h1.2M449.1 274.8h1.2M431.1 275.4h1.2M438.3 274.6h1.2M438.6 278.5h1.2M423.0 275.1h1.2M434.0 267.2h1.2M452.2 255.8h1.2M434.4 275.1h1.2M453.5 273.5h1.2M442.7 271.3h1.2M467.6 271.4h1.2M465.6 260.8h1.2M458.0 263.7h1.2M430.8 276.9h1.2M432.0 267.4h1.2M458.5 266.3h1.2M426.2 272.3h1.2M453.7 277.1h1.2M447.0 278.0h1.2M433.8 272.5h1.2M432.5 278.4h1.2M453.0 270.5h1.2M446.9 273.2h1.2M435.6 272.5h1.2M441.2 275.0h1.2M443.2 271.3h1.2M435.9 258.7h1.2M441.6 278.3h1.2M456.9 277.8h1.2M444.4 277.3h1.2M437.7 278.5h1.2M453.0 276.1h1.2M448.2 266.9h1.2M462.3 274.6h1.2M431.0 270.8h1.2M438.8 271.7h1.2M449.0 265.9h1.2M463.0 277.6h1.2M434.3 266.2h1.2M430.6 271.0h1.2M423.7 271.8h1.2M451.8 247.4h1.2M432.4 275.7h1.2M429.4 273.4h1.2M441.9 277.7h1.2M443.6 258.4h1.2M456.0 269.3h1.2M429.4 265.4h1.2M442.3 273.4h1.2M427.7 267.2h1.2M426.2 270.6h1.2M464.4 272.6h1.2M418.6 268.2h1.2M442.0 265.6h1.2M433.6 277.0h1.2M439.2 276.9h1.2M456.4 275.5h1.2M459.8 276.6h1.2M454.4 259.8h1.2M431.3 273.7h1.2M457.7 273.5h1.2M436.2 274.9h1.2M444.0 265.7h1.2M420.9 273.4h1.2M461.8 251.0h1.2M430.4 267.2h1.2M464.5 276.3h1.2M440.9 271.3h1.2M463.5 270.3h1.2M434.2 261.0h1.2M443.6 277.1h1.2M452.8 276.1h1.2M433.6 267.7h1.2M463.8 275.0h1.2M418.8 269.7h1.2M442.0 277.5h1.2M455.2 273.6h1.2M418.9 278.0h1.2M425.8 267.9h1.2M437.1 257.6h1.2M436.2 276.7h1.2M448.1 274.4h1.2M423.8 264.8h1.2M442.4 268.0h1.2M428.4 265.0h1.2M444.8 262.4h1.2M458.0 270.6h1.2M462.2 278.7h1.2M436.8 265.6h1.2M445.2 278.3h1.2M450.5 266.4h1.2M429.6 264.6h1.2M450.3 267.0h1.2M432.7 267.5h1.2M439.6 262.7h1.2M445.4 274.1h1.2M431.0 262.8h1.2M458.0 272.1h1.2M440.9 275.9h1.2M432.5 262.1h1.2M443.9 261.9h1.2M455.7 264.3h1.2M439.9 273.3h1.2M436.1 275.5h1.2M441.1 259.9h1.2M463.9 268.3h1.2M424.8 271.4h1.2M442.7 274.8h1.2M443.7 273.7h1.2M454.2 261.6h1.2M453.2 269.5h1.2M462.3 274.9h1.2M435.8 276.9h1.2M453.6 261.0h1.2M440.9 268.1h1.2M424.7 266.9h1.2M437.8 272.7h1.2M419.2 268.8h1.2M427.9 276.2h1.2M440.5 273.4h1.2M448.9 262.6h1.2M422.3 272.5h1.2M442.0 268.2h1.2M463.4 272.8h1.2M435.5 276.6h1.2M445.4 270.1h1.2M437.9 274.1h1.2M437.7 276.5h1.2M446.4 269.3h1.2M440.2 274.8h1.2M453.7 266.7h1.2M441.3 273.9h1.2M444.9 275.2h1.2M422.5 277.5h1.2M432.4 276.6h1.2M442.4 271.9h1.2M429.7 263.3h1.2M434.0 267.9h1.2M428.8 274.3h1.2M448.0 277.5h1.2M453.7 277.0h1.2M439.8 273.7h1.2M434.7 274.8h1.2M436.9 266.9h1.2M427.2 264.8h1.2M440.5 276.5h1.2M439.5 277.2h1.2M462.1 260.6h1.2M452.5 272.6h1.2M444.7 264.0h1.2M441.4 270.4h1.2M445.5 267.9h1.2M429.9 268.4h1.2M447.5 262.6h1.2M454.3 276.8h1.2M454.7 272.4h1.2M450.1 271.3h1.2M429.8 276.5h1.2M427.5 276.1h1.2M451.5 270.1h1.2M426.3 266.3h1.2M455.0 261.9h1.2M430.2 264.1h1.2M463.9 270.6h1.2M443.7 276.1h1.2M419.1 269.4h1.2M432.8 258.1h1.2M444.8 278.3h1.2M447.8 274.9h1.2M447.3 269.9h1.2M437.9 262.5h1.2M434.5 276.7h1.2M456.0 269.0h1.2M438.7 265.6h1.2M422.7 264.0h1.2M460.6 264.3h1.2M446.3 261.0h1.2M438.8 264.7h1.2M443.2 272.1h1.2M427.0 272.0h1.2M447.9 273.4h1.2M422.6 278.4h1.2M459.3 274.6h1.2M440.6 274.5h1.2M434.2 259.4h1.2M458.0 258.9h1.2M438.6 256.7h1.2M436.2 269.5h1.2M446.8 265.5h1.2M447.5 278.3h1.2M452.7 273.3h1.2M436.5 276.5h1.2M440.6 276.3h1.2M435.2 268.1h1.2M444.8 270.0h1.2M431.4 255.6h1.2M422.0 275.6h1.2M452.9 278.1h1.2M439.0 278.4h1.2M431.0 277.1h1.2M464.2 254.9h1.2M428.1 266.6h1.2M446.0 262.5h1.2M422.3 267.0h1.2M440.0 277.8h1.2M423.0 261.1h1.2M420.0 274.0h1.2M441.7 273.9h1.2M443.3 277.8h1.2M438.2 274.5h1.2M443.8 268.4h1.2M445.4 270.3h1.2M435.4 272.6h1.2M442.5 275.4h1.2M450.6 277.2h1.2M441.2 278.2h1.2M451.5 277.4h1.2M426.3 278.6h1.2M446.6 272.8h1.2M426.1 269.1h1.2M464.9 264.0h1.2M444.2 274.9h1.2M453.8 269.1h1.2M429.1 258.7h1.2M449.5 270.9h1.2M430.0 270.2h1.2M447.7 270.7h1.2M439.5 270.9h1.2M422.3 275.2h1.2M441.2 269.6h1.2M435.0 274.3h1.2M463.3 277.5h1.2M431.7 270.9h1.2M444.9 264.6h1.2M440.5 264.0h1.2M444.8 261.7h1.2M459.2 269.4h1.2M452.3 270.7h1.2M445.2 276.7h1.2M421.3 274.1h1.2M429.2 261.5h1.2M422.8 264.9h1.2M423.8 256.5h1.2M435.8 268.6h1.2M426.0 272.7h1.2M441.3 270.7h1.2M463.7 273.1h1.2M455.1 267.7h1.2M434.4 272.0h1.2M452.1 270.5h1.2M438.2 266.5h1.2M456.3 278.3h1.2M437.3 259.3h1.2M451.2 277.6h1.2M448.0 274.5h1.2M437.4 270.8h1.2M429.3 269.0h1.2M438.4 272.8h1.2M443.2 275.9h1.2M435.3 274.2h1.2M440.1 272.8h1.2M441.9 271.7h1.2M456.0 263.8h1.2M443.2 272.5h1.2M446.3 273.9h1.2M451.3 269.4h1.2M451.5 265.0h1.2M449.4 277.2h1.2M446.1 267.3h1.2M444.4 251.2h1.2M434.4 252.3h1.2M451.1 276.6h1.2M435.1 275.4h1.2M432.3 274.1h1.2M465.0 275.6h1.2M450.7 277.9h1.2M450.8 276.5h1.2M421.7 270.5h1.2M450.2 267.4h1.2M442.5 270.8h1.2M461.4 276.1h1.2M449.6 266.9h1.2M460.9 277.6h1.2M461.2 274.6h1.2M440.7 274.4h1.2M455.5 273.7h1.2M451.1 273.5h1.2M436.1 263.1h1.2M451.2 267.4h1.2M447.0 275.0h1.2M449.9 272.4h1.2M444.5 264.7h1.2M453.2 268.3h1.2M462.2 259.1h1.2M443.7 276.5h1.2M433.5 275.0h1.2M438.5 278.4h1.2M456.2 273.6h1.2M423.2 269.2h1.2M435.8 266.1h1.2M453.7 264.0h1.2M446.5 271.1h1.2M426.5 278.1h1.2M435.0 276.0h1.2M454.5 270.0h1.2M435.4 276.4h1.2M432.6 258.9h1.2M451.7 255.2h1.2M447.5 268.1h1.2M443.9 268.7h1.2M449.8 275.4h1.2M440.8 272.8h1.2M451.2 266.9h1.2M420.5 272.2h1.2M443.7 273.7h1.2M456.5 269.8h1.2M435.0 278.4h1.2M455.6 275.9h1.2M441.4 271.8h1.2M435.5 268.3h1.2M432.7 262.8h1.2M436.1 278.3h1.2M446.3 274.9h1.2M438.8 261.4h1.2M445.9 276.7h1.2M453.9 263.5h1.2M439.3 269.2h1.2M435.6 273.9h1.2M463.9 276.8h1.2M424.5 272.9h1.2M449.5 253.7h1.2M464.0 265.8h1.2M443.4 277.4h1.2M454.5 275.2h1.2M437.1 268.1h1.2M432.4 278.0h1.2M440.6 264.3h1.2M442.4 276.7h1.2M438.2 275.2h1.2M460.2 268.4h1.2M428.4 275.9h1.2M465.3 272.4h1.2M439.0 276.7h1.2M434.2 272.0h1.2M438.1 267.8h1.2M457.6 256.3h1.2M427.3 275.2h1.2M463.0 271.8h1.2M443.7 273.6h1.2M430.2 255.6h1.2M446.9 270.7h1.2M462.8 276.0h1.2M461.5 258.7h1.2M455.0 270.6h1.2M452.8 275.7h1.2M429.0 276.1h1.2M434.7 277.6h1.2M473.8 263.1h1.2M440.0 272.2h1.2M443.6 254.1h1.2M450.1 273.8h1.2M458.7 270.9h1.2M444.4 277.8h1.2M438.0 277.0h1.2M439.1 275.4h1.2M438.6 270.0h1.2M456.2 270.8h1.2M442.4 261.4h1.2M446.7 278.6h1.2M453.6 278.3h1.2M419.1 264.8h1.2M456.7 272.5h1.2M444.8 268.9h1.2M433.6 274.9h1.2M453.4 266.8h1.2M451.9 277.7h1.2M436.9 271.8h1.2M423.0 271.6h1.2M450.2 275.9h1.2M454.4 275.7h1.2M428.0 276.9h1.2M438.3 275.1h1.2M453.3 253.7h1.2M433.8 259.9h1.2M431.8 267.5h1.2M429.2 244.3h1.2M452.9 275.5h1.2M459.6 276.8h1.2M421.1 270.7h1.2M426.7 277.1h1.2M442.5 269.1h1.2M445.4 265.5h1.2M440.7 273.1h1.2M435.2 271.4h1.2M444.0 278.1h1.2M442.0 270.7h1.2M438.8 266.4h1.2M423.2 277.7h1.2M433.2 270.0h1.2M462.1 274.4h1.2M453.3 277.8h1.2M437.7 272.2h1.2M433.0 266.4h1.2M453.8 273.6h1.2M438.0 271.7h1.2M464.4 276.5h1.2M418.2 275.3h1.2M456.9 277.1h1.2M456.0 278.3h1.2M444.1 269.2h1.2M427.3 277.6h1.2M456.5 253.8h1.2M462.5 265.1h1.2M435.8 263.2h1.2M468.1 274.7h1.2M441.8 277.4h1.2M443.0 278.5h1.2M432.8 263.9h1.2M453.4 270.3h1.2M421.7 275.0h1.2M441.1 274.7h1.2M439.6 263.6h1.2M427.9 276.2h1.2M428.9 261.1h1.2M448.4 273.9h1.2M426.3 278.4h1.2M454.9 275.5h1.2M454.8 268.4h1.2M446.1 272.4h1.2M435.6 251.4h1.2M445.5 265.1h1.2M454.6 278.0h1.2M442.5 269.7h1.2M438.3 270.3h1.2M442.1 277.7h1.2M443.0 270.5h1.2M436.5 270.5h1.2M423.9 266.7h1.2M442.9 273.6h1.2M448.2 266.9h1.2M436.1 277.9h1.2M436.9 273.4h1.2M458.0 260.6h1.2M450.1 276.5h1.2M450.3 278.5h1.2M452.8 277.7h1.2M436.9 277.0h1.2M443.2 265.4h1.2M454.1 276.4h1.2M448.6 267.2h1.2M422.2 262.6h1.2M432.7 272.8h1.2M453.7 272.3h1.2M421.9 278.4h1.2M443.4 272.2h1.2M452.5 276.2h1.2M424.5 274.7h1.2M454.9 264.1h1.2M464.0 275.7h1.2M454.5 276.8h1.2M455.7 277.4h1.2M460.3 276.6h1.2M431.8 275.2h1.2M465.9 264.0h1.2M430.7 273.8h1.2M439.5 269.3h1.2M454.1 277.7h1.2M441.3 275.1h1.2M448.5 276.9h1.2M436.2 269.9h1.2M438.9 276.0h1.2M418.3 269.8h1.2M437.8 272.5h1.2M442.0 276.9h1.2M452.2 260.0h1.2M460.1 256.6h1.2M446.5 267.7h1.2M434.1 255.0h1.2M448.6 276.3h1.2M435.9 277.7h1.2M431.6 271.1h1.2M438.3 273.9h1.2M438.6 251.5h1.2M445.3 275.1h1.2M460.3 264.5h1.2M456.1 270.5h1.2M450.2 273.5h1.2M440.6 270.7h1.2M435.8 272.7h1.2M452.5 269.0h1.2M459.4 262.0h1.2M431.8 278.1h1.2M441.1 257.0h1.2M442.4 264.2h1.2M446.5 266.9h1.2M447.2 275.2h1.2M450.8 270.4h1.2M440.1 274.1h1.2M443.8 278.5h1.2M454.9 259.0h1.2M465.3 270.5h1.2M424.7 263.0h1.2M463.5 275.2h1.2M451.7 272.8h1.2M444.4 273.2h1.2M428.7 269.0h1.2M428.9 275.4h1.2M444.3 259.0h1.2M440.4 275.1h1.2M439.4 278.4h1.2M450.4 266.1h1.2M445.6 277.5h1.2M425.8 259.6h1.2M459.5 266.9h1.2M440.7 267.0h1.2M446.8 274.4h1.2M447.7 268.7h1.2M418.5 270.6h1.2M450.7 278.2h1.2M446.3 275.9h1.2M461.0 266.8h1.2M437.8 268.7h1.2M442.8 270.9h1.2M445.5 265.2h1.2M449.0 274.8h1.2M444.2 263.5h1.2M429.5 259.3h1.2M459.1 272.3h1.2M465.4 271.6h1.2M426.7 271.8h1.2M441.0 274.2h1.2M440.4 267.1h1.2M454.9 276.7h1.2M459.8 274.8h1.2M461.3 273.5h1.2M429.9 266.8h1.2M449.1 270.2h1.2M431.2 265.4h1.2M448.5 267.9h1.2M446.1 266.3h1.2M444.6 272.0h1.2M434.7 269.5h1.2M444.6 269.7h1.2M437.5 277.3h1.2M441.4 268.5h1.2M439.0 274.2h1.2M442.4 256.9h1.2M422.2 276.0h1.2M438.9 266.7h1.2M442.0 268.8h1.2M446.9 277.1h1.2M458.4 264.2h1.2M451.0 266.0h1.2M459.5 268.4h1.2M428.6 261.7h1.2M447.1 267.1h1.2M418.4 263.8h1.2M419.8 270.8h1.2M460.1 269.2h1.2M451.0 276.7h1.2M447.9 265.5h1.2M461.4 275.3h1.2M421.6 271.0h1.2M441.6 270.3h1.2M441.2 273.6h1.2M443.9 270.0h1.2M436.3 271.3h1.2M429.6 277.8h1.2M429.0 269.2h1.2M428.4 278.0h1.2M439.4 253.1h1.2M444.2 271.0h1.2M422.9 277.8h1.2M420.3 275.5h1.2M429.7 273.3h1.2M432.6 277.7h1.2M438.1 271.8h1.2M432.6 276.6h1.2M431.7 277.5h1.2M442.3 247.5h1.2M449.4 271.4h1.2M448.0 273.1h1.2M449.3 266.5h1.2M432.9 273.2h1.2M458.3 268.7h1.2M435.0 274.5h1.2M453.8 268.8h1.2M423.2 273.7h1.2M433.5 267.6h1.2M438.6 271.5h1.2M461.3 271.6h1.2M441.5 272.0h1.2M448.8 254.4h1.2M446.0 278.1h1.2M459.1 257.2h1.2M436.7 269.2h1.2M433.5 271.8h1.2M449.1 278.3h1.2M421.6 260.5h1.2M452.8 253.0h1.2M447.6 277.1h1.2M453.5 276.8h1.2M444.6 253.2h1.2M455.9 264.5h1.2M437.8 271.3h1.2M450.1 263.3h1.2M438.3 272.0h1.2M455.5 271.4h1.2M473.9 271.2h1.2M446.4 270.5h1.2M440.1 271.9h1.2M439.1 269.7h1.2M450.8 277.4h1.2M487.9 276.2h1.2M489.5 241.9h1.2M489.8 263.9h1.2M488.3 242.3h1.2M488.8 268.5h1.2M492.7 254.7h1.2M485.9 258.4h1.2M490.7 248.1h1.2M491.2 241.7h1.2M488.3 259.6h1.2M485.7 237.7h1.2M493.5 265.1h1.2M483.7 248.9h1.2M495.0 254.6h1.2M487.2 248.1h1.2M492.9 264.8h1.2M484.3 248.5h1.2M491.9 255.6h1.2M483.8 264.1h1.2M487.0 254.5h1.2M490.5 242.3h1.2M489.9 243.9h1.2M491.1 250.7h1.2M493.7 275.0h1.2M489.3 243.9h1.2M491.6 242.2h1.2M487.1 246.8h1.2M484.8 270.8h1.2M487.3 262.1h1.2M485.7 264.2h1.2M487.6 251.7h1.2M489.6 276.7h1.2M485.5 239.8h1.2M492.6 269.3h1.2M491.2 252.0h1.2M486.5 258.1h1.2M489.0 241.5h1.2M491.4 265.5h1.2M480.3 277.4h1.2M488.5 273.6h1.2M495.3 237.1h1.2M486.7 241.6h1.2M496.0 262.5h1.2M487.9 262.6h1.2M485.6 242.3h1.2M490.4 259.6h1.2M488.7 273.4h1.2M490.8 260.7h1.2M491.1 260.8h1.2M487.0 247.9h1.2M502.9 248.2h1.2M495.2 261.6h1.2M481.7 243.1h1.2M488.4 260.4h1.2M502.4 247.9h1.2M475.8 251.9h1.2M501.7 249.1h1.2M494.6 241.3h1.2M471.5 267.6h1.2M488.9 244.4h1.2" stroke="#e80c0c" stroke-width="1.2" fill="none"/>
<path d="M495.1 235.3h1.2M482.9 228.1h1.2M500.3 207.1h1.2M490.3 237.0h1.2M490.7 223.4h1.2M496.5 217.3h1.2M495.7 225.2h1.2M487.8 223.0h1.2M503.8 198.3h1.2M496.2 208.7h1.2M479.7 227.0h1.2M498.9 198.2h1.2M481.5 232.7h1.2M491.1 225.9h1.2M501.8 216.0h1.2M499.8 239.7h1.2M484.7 238.1h1.2M482.2 225.2h1.2M486.7 213.0h1.2M483.9 204.7h1.2M491.1 206.7h1.2M497.5 226.4h1.2M481.4 226.0h1.2M483.2 225.0h1.2M490.5 195.3h1.2M475.4 201.5h1.2M501.1 217.2h1.2M475.7 195.9h1.2M490.0 181.0h1.2M471.9 209.7h1.2M475.6 238.7h1.2M475.4 229.5h1.2M503.4 200.8h1.2M492.8 245.5h1.2M495.9 205.6h1.2M511.0 197.1h1.2M510.1 200.5h1.2M487.7 200.8h1.2M497.4 238.2h1.2M498.9 192.0h1.2" stroke="#9ee69e" stroke-width="1.2" fill="none"/>
<path d="M493.4 274.9h1.2M491.3 263.4h1.2M484.5 250.2h1.2M495.6 277.0h1.2M484.7 253.2h1.2M491.0 272.8h1.2M484.9 271.3h1.2M486.1 271.0h1.2M489.8 265.5h1.2M483.1 241.2h1.2M487.5 240.5h1.2M487.7 272.8h1.2M489.3 243.4h1.2M490.6 245.2h1.2M487.6 269.4h1.2M487.6 263.3h1.2M486.2 261.6h1.2M492.4 261.0h1.2M487.9 258.0h1.2M485.1 244.3h1.2M491.4 267.0h1.2M493.6 261.2h1.2M486.8 253.8h1.2M490.1 261.0h1.2M489.8 274.3h1.2M490.3 269.2h1.2M487.6 271.5h1.2M483.1 247.3h1.2M489.7 253.1h1.2M484.2 257.5h1.2M488.6 251.8h1.2M491.0 256.4h1.2M486.8 248.7h1.2M484.3 254.1h1.2M489.5 265.8h1.2M488.5 277.5h1.2M489.0 251.2h1.2M481.7 248.1h1.2M486.9 242.5h1.2M489.5 273.2h1.2M490.7 260.2h1.2M491.3 259.9h1.2M489.6 246.8h1.2M486.7 257.3h1.2M495.1 249.1h1.2M487.8 260.3h1.2M488.2 265.3h1.2M492.2 252.1h1.2M491.0 269.0h1.2M484.1 263.7h1.2M484.6 247.1h1.2M490.8 271.6h1.2M493.3 242.4h1.2M486.9 258.2h1.2M490.2 274.0h1.2M484.4 269.8h1.2M487.2 250.8h1.2M486.9 258.5h1.2M487.0 260.7h1.2M488.1 272.7h1.2M487.4 246.3h1.2M486.7 278.4h1.2M494.4 254.3h1.2M489.8 277.3h1.2M488.8 247.8h1.2M494.0 246.3h1.2M490.1 269.3h1.2M490.5 253.9h1.2M489.1 243.3h1.2M486.3 268.8h1.2M489.5 259.2h1.2M494.6 246.7h1.2M487.7 275.8h1.2M492.1 260.5h1.2M486.6 246.6h1.2M488.1 247.6h1.2M490.9 263.9h1.2M486.7 262.4h1.2M493.6 272.3h1.2M494.0 259.8h1.2M496.1 223.4h1.2M491.6 213.3h1.2M498.7 227.5h1.2M488.6 208.5h1.2M489.6 228.8h1.2M498.0 219.5h1.2M491.7 227.2h1.2M488.3 216.5h1.2M496.0 228.7h1.2M496.4 206.7h1.2M493.6 221.5h1.2M490.8 205.4h1.2M486.6 191.8h1.2M494.9 192.2h1.2M496.0 190.7h1.2M494.3 189.5h1.2M495.6 186.6h1.2M495.6 188.9h1.2M496.6 189.2h1.2M487.0 191.5h1.2M489.6 189.2h1.2M494.2 190.1h1.2M493.9 190.9h1.2M495.0 188.6h1.2M498.4 189.2h1.2M495.7 192.9h1.2M492.5 192.2h1.2M499.0 191.7h1.2M494.9 187.4h1.2M493.0 188.3h1.2" stroke="#1ed21e" stroke-width="1.2" fill="none"/>
<path d="M480.8 246.1h1.2M490.4 255.1h1.2M485.4 227.3h1.2M491.0 272.7h1.2M486.2 240.4h1.2M487.5 235.1h1.2M495.1 245.4h1.2M486.3 257.6h1.2M486.8 226.8h1.2M488.2 264.7h1.2M491.4 225.9h1.2M492.9 226.2h1.2M491.6 258.1h1.2M493.4 278.5h1.2M486.7 225.7h1.2M485.4 276.7h1.2M482.1 227.3h1.2M489.5 270.1h1.2M486.6 246.9h1.2M489.4 229.1h1.2M486.8 262.9h1.2M487.8 234.4h1.2M487.2 263.4h1.2M484.5 276.3h1.2M487.5 246.5h1.2M464.6 226.3h1.2M442.8 235.3h1.2" stroke="#4a4438" stroke-width="1.2" fill="none"/>
<rect x="416.8" y="165.3" width="102" height="114.2" fill="none" stroke="#000" stroke-width="1.2"/>
<line x1="466.9" y1="165.3" x2="466.9" y2="279.5" stroke="#000" stroke-width="1.1"/>
<line x1="416.8" y1="246.3" x2="518.8" y2="246.3" stroke="#000" stroke-width="1.1"/>
<text x="477.5" y="179.2" font-size="10.6" text-anchor="start" fill="#111" >6.1%</text>
<text x="413.8" y="282.1" font-size="5.4" font-weight="bold" letter-spacing="-0.35" text-anchor="end" fill="#000" stroke="#000" stroke-width="0.5">10<tspan font-size="3.6" dy="-1.8" stroke-width="0.2">0</tspan></text>
<text x="416.3" y="288.0" font-size="5.4" font-weight="bold" letter-spacing="-0.35" text-anchor="middle" fill="#000" stroke="#000" stroke-width="0.5">10<tspan font-size="3.6" dy="-1.8" stroke-width="0.2">0</tspan></text>
<text x="413.8" y="253.5" font-size="5.4" font-weight="bold" letter-spacing="-0.35" text-anchor="end" fill="#000" stroke="#000" stroke-width="0.5">10<tspan font-size="3.6" dy="-1.8" stroke-width="0.2">1</tspan></text>
<text x="441.8" y="288.0" font-size="5.4" font-weight="bold" letter-spacing="-0.35" text-anchor="middle" fill="#000" stroke="#000" stroke-width="0.5">10<tspan font-size="3.6" dy="-1.8" stroke-width="0.2">1</tspan></text>
<text x="413.8" y="225.0" font-size="5.4" font-weight="bold" letter-spacing="-0.35" text-anchor="end" fill="#000" stroke="#000" stroke-width="0.5">10<tspan font-size="3.6" dy="-1.8" stroke-width="0.2">2</tspan></text>
<text x="467.3" y="288.0" font-size="5.4" font-weight="bold" letter-spacing="-0.35" text-anchor="middle" fill="#000" stroke="#000" stroke-width="0.5">10<tspan font-size="3.6" dy="-1.8" stroke-width="0.2">2</tspan></text>
<text x="413.8" y="196.4" font-size="5.4" font-weight="bold" letter-spacing="-0.35" text-anchor="end" fill="#000" stroke="#000" stroke-width="0.5">10<tspan font-size="3.6" dy="-1.8" stroke-width="0.2">3</tspan></text>
<text x="492.8" y="288.0" font-size="5.4" font-weight="bold" letter-spacing="-0.35" text-anchor="middle" fill="#000" stroke="#000" stroke-width="0.5">10<tspan font-size="3.6" dy="-1.8" stroke-width="0.2">3</tspan></text>
<text x="413.8" y="167.9" font-size="5.4" font-weight="bold" letter-spacing="-0.35" text-anchor="end" fill="#000" stroke="#000" stroke-width="0.5">10<tspan font-size="3.6" dy="-1.8" stroke-width="0.2">4</tspan></text>
<text x="518.3" y="288.0" font-size="5.4" font-weight="bold" letter-spacing="-0.35" text-anchor="middle" fill="#000" stroke="#000" stroke-width="0.5">10<tspan font-size="3.6" dy="-1.8" stroke-width="0.2">4</tspan></text>
<path d="M302.8 402.9h1.2M330.3 402.6h1.2M325.2 404.7h1.2M312.4 400.6h1.2M311.5 408.5h1.2M322.3 407.4h1.2M342.1 405.7h1.2M339.5 405.6h1.2M345.6 410.0h1.2M324.2 409.6h1.2M320.0 399.1h1.2M323.1 405.9h1.2M327.5 408.3h1.2M340.2 408.4h1.2M327.8 396.5h1.2M312.4 409.6h1.2M315.5 405.6h1.2M334.2 409.4h1.2M334.3 404.6h1.2M311.0 400.7h1.2M311.8 410.2h1.2M328.3 407.0h1.2M304.4 400.5h1.2M326.3 401.9h1.2M320.5 401.1h1.2M311.7 410.4h1.2M308.0 400.4h1.2M320.1 410.4h1.2M331.0 403.9h1.2M330.6 404.5h1.2M319.4 404.1h1.2M333.2 402.4h1.2M305.7 402.0h1.2M344.0 399.4h1.2M313.4 399.4h1.2M324.3 403.2h1.2M301.1 408.1h1.2M342.0 410.5h1.2M312.6 405.7h1.2M320.3 407.0h1.2M332.2 406.3h1.2M309.9 408.2h1.2M310.2 403.9h1.2M312.1 399.6h1.2M317.8 406.8h1.2M329.4 408.5h1.2M318.8 391.1h1.2M335.6 408.3h1.2M333.9 409.2h1.2M334.0 408.5h1.2M328.1 407.9h1.2M318.4 402.7h1.2M311.7 395.0h1.2M305.7 406.0h1.2M302.7 404.9h1.2M324.1 408.8h1.2M309.6 400.6h1.2M334.7 403.5h1.2M318.5 405.6h1.2M331.8 403.8h1.2M336.0 405.0h1.2M332.5 409.7h1.2M307.5 400.0h1.2M298.4 408.0h1.2M341.1 404.8h1.2M342.4 403.6h1.2M322.8 409.9h1.2M306.2 403.1h1.2M316.4 406.5h1.2M333.7 407.6h1.2M316.6 401.0h1.2M329.4 393.3h1.2M331.8 404.2h1.2M333.6 403.5h1.2M325.9 406.7h1.2M307.1 400.5h1.2M330.0 404.2h1.2M299.6 409.9h1.2M341.7 399.3h1.2M331.0 404.0h1.2M309.5 400.6h1.2M301.7 405.2h1.2M336.2 398.5h1.2M314.4 399.7h1.2M325.2 406.5h1.2M312.5 392.9h1.2M343.8 400.5h1.2M327.8 409.5h1.2M321.3 409.6h1.2M314.5 401.4h1.2M317.6 401.8h1.2M331.5 403.4h1.2M327.5 408.5h1.2M320.0 402.0h1.2M335.3 406.4h1.2M309.1 409.1h1.2M331.9 406.1h1.2M314.4 403.3h1.2M302.3 409.7h1.2M332.1 410.3h1.2M334.2 406.0h1.2M301.9 409.7h1.2M298.8 405.8h1.2M325.1 404.4h1.2M299.0 408.5h1.2M343.6 408.5h1.2M338.3 402.9h1.2M299.7 407.8h1.2M329.1 410.2h1.2M313.3 400.2h1.2M306.6 409.4h1.2M330.3 396.2h1.2M308.3 406.6h1.2M328.7 408.1h1.2M329.2 406.5h1.2M325.0 397.3h1.2M319.5 400.8h1.2M310.5 408.3h1.2M300.1 406.2h1.2M311.7 389.1h1.2M315.1 405.0h1.2M343.9 400.8h1.2M317.5 408.7h1.2M342.2 402.1h1.2M331.4 407.0h1.2M318.1 406.3h1.2M316.3 409.1h1.2M316.1 409.9h1.2M309.0 408.7h1.2M298.7 399.8h1.2M325.9 402.7h1.2M321.0 405.2h1.2M331.7 403.7h1.2M321.6 395.6h1.2M321.9 391.9h1.2M317.5 405.2h1.2M335.9 402.8h1.2M306.1 409.3h1.2M317.5 384.0h1.2M325.8 409.5h1.2M341.1 409.6h1.2M319.0 405.3h1.2M341.7 403.3h1.2M336.7 396.2h1.2M311.6 410.4h1.2M320.8 398.0h1.2M304.3 410.3h1.2M334.2 408.1h1.2M352.2 405.7h1.2M319.8 405.8h1.2M326.6 397.3h1.2M313.1 409.4h1.2M343.6 402.2h1.2M330.1 402.5h1.2M325.8 393.1h1.2M314.2 398.8h1.2M323.8 409.6h1.2M342.8 400.7h1.2M333.8 394.4h1.2M308.7 399.4h1.2M329.4 403.7h1.2M330.8 409.7h1.2M333.9 394.7h1.2M319.0 402.9h1.2M323.8 408.0h1.2M311.9 405.5h1.2M300.9 398.3h1.2M319.4 410.0h1.2M313.3 403.9h1.2M312.1 404.2h1.2M307.0 401.7h1.2M317.0 410.1h1.2M318.3 400.9h1.2M308.9 409.8h1.2M301.3 406.4h1.2M322.4 396.1h1.2M343.2 407.3h1.2M341.9 399.9h1.2M334.9 398.6h1.2M334.3 404.2h1.2M299.3 408.9h1.2M304.9 408.5h1.2M314.4 400.7h1.2M307.9 403.8h1.2M311.0 409.5h1.2M306.4 403.7h1.2M334.1 409.7h1.2M317.8 403.2h1.2M302.3 409.7h1.2M326.2 409.1h1.2M320.7 405.0h1.2M334.8 404.7h1.2M331.0 410.4h1.2M334.0 408.6h1.2M321.2 408.7h1.2M343.0 401.7h1.2M338.8 410.5h1.2M319.4 410.3h1.2M314.0 400.5h1.2M316.4 392.6h1.2M315.7 400.9h1.2M352.3 403.6h1.2M321.2 406.2h1.2M316.2 399.3h1.2M301.4 407.2h1.2M321.0 405.3h1.2M329.5 408.0h1.2M318.2 390.3h1.2M304.3 398.2h1.2M304.7 400.4h1.2M335.1 403.8h1.2M301.2 409.7h1.2M336.1 409.8h1.2M327.8 406.2h1.2M344.5 405.7h1.2M327.3 384.6h1.2M310.3 408.6h1.2M345.2 395.6h1.2M324.5 398.3h1.2M334.2 404.2h1.2M337.7 393.7h1.2M316.6 401.4h1.2M308.9 409.7h1.2M298.8 402.1h1.2M330.3 400.2h1.2M339.0 402.8h1.2M320.9 397.6h1.2M311.8 401.9h1.2M333.3 409.6h1.2M321.9 403.3h1.2M316.1 395.7h1.2M316.3 399.8h1.2M305.1 406.6h1.2M332.1 404.4h1.2M332.7 408.4h1.2M300.3 399.4h1.2M332.6 400.4h1.2M306.8 410.4h1.2M328.1 393.7h1.2M316.1 410.0h1.2M325.0 403.2h1.2M312.4 407.6h1.2M321.7 404.1h1.2M323.2 410.2h1.2M337.9 404.9h1.2M316.7 406.0h1.2M337.9 405.6h1.2M329.5 406.5h1.2M300.9 404.1h1.2M335.9 400.3h1.2M313.7 409.5h1.2M320.0 404.1h1.2M306.2 407.7h1.2M314.1 404.5h1.2M332.3 404.1h1.2M317.2 410.5h1.2M334.0 403.4h1.2M342.6 408.0h1.2M325.8 407.0h1.2M298.4 401.7h1.2M327.6 396.4h1.2M326.6 401.4h1.2M311.2 405.2h1.2M337.9 400.6h1.2M323.3 409.9h1.2M306.3 401.2h1.2M308.0 402.8h1.2M316.7 407.0h1.2M303.1 404.8h1.2M337.0 407.5h1.2M336.4 405.5h1.2M316.6 409.5h1.2M305.3 397.9h1.2M334.2 404.1h1.2M329.5 402.9h1.2M301.7 401.9h1.2M305.0 404.3h1.2M314.5 403.6h1.2M325.0 402.4h1.2M336.8 404.5h1.2M335.1 410.1h1.2M312.3 410.6h1.2M330.5 410.0h1.2M328.5 403.0h1.2M336.0 396.1h1.2M312.2 409.6h1.2M325.0 409.9h1.2M327.8 396.5h1.2M322.7 407.0h1.2M310.6 398.9h1.2M316.9 409.5h1.2M332.6 403.4h1.2M320.5 398.0h1.2M313.1 401.1h1.2M330.6 408.9h1.2M339.9 403.0h1.2M304.5 408.6h1.2M327.8 399.6h1.2M310.1 401.0h1.2M319.5 402.5h1.2M333.5 397.8h1.2M327.9 408.7h1.2M317.9 405.1h1.2M334.6 406.7h1.2M321.1 402.5h1.2M316.7 401.2h1.2M321.1 408.7h1.2M322.2 407.1h1.2M324.2 404.3h1.2M313.5 399.8h1.2M324.9 410.3h1.2M334.3 394.2h1.2M322.7 407.8h1.2M338.8 393.9h1.2M319.9 409.0h1.2M337.5 396.8h1.2M300.5 393.7h1.2M318.8 405.0h1.2M327.0 403.1h1.2M311.0 408.3h1.2M323.8 409.1h1.2M326.6 407.8h1.2M342.2 400.8h1.2M342.7 409.9h1.2M313.0 399.0h1.2M299.1 405.9h1.2M301.2 408.5h1.2M303.1 409.3h1.2M317.9 398.0h1.2M319.5 407.5h1.2M339.3 403.3h1.2M313.6 399.3h1.2M329.1 409.3h1.2M337.0 400.5h1.2M304.2 399.8h1.2M314.1 405.4h1.2M335.0 405.0h1.2M316.3 392.0h1.2M319.4 401.0h1.2M343.4 403.0h1.2M334.0 408.7h1.2M319.0 408.7h1.2M314.7 407.8h1.2M330.2 397.2h1.2M319.4 388.3h1.2M327.2 405.8h1.2M323.0 409.6h1.2M315.7 406.6h1.2M331.0 402.1h1.2M329.5 395.9h1.2M336.5 396.3h1.2M331.4 408.5h1.2M307.0 402.0h1.2M326.6 403.4h1.2M314.6 410.4h1.2M308.2 407.5h1.2M328.9 409.5h1.2M309.4 403.8h1.2M306.9 395.9h1.2M309.7 408.8h1.2M322.9 409.2h1.2M307.3 410.3h1.2M338.1 401.5h1.2M316.6 402.5h1.2M339.7 403.7h1.2M307.5 409.7h1.2M324.4 397.7h1.2M338.7 409.2h1.2M325.2 406.9h1.2M304.3 409.8h1.2M300.6 386.1h1.2M333.5 400.9h1.2M314.5 407.1h1.2M335.5 404.4h1.2M306.7 393.7h1.2M326.4 404.6h1.2M299.2 402.0h1.2M320.1 395.9h1.2M315.8 405.3h1.2M332.3 407.0h1.2M331.8 399.9h1.2M325.1 410.5h1.2M299.8 405.3h1.2M326.0 407.0h1.2M340.5 409.5h1.2M308.7 398.7h1.2M308.7 406.5h1.2M305.0 407.7h1.2M319.0 408.6h1.2M327.8 399.7h1.2M330.8 402.3h1.2M318.8 409.5h1.2M323.8 407.5h1.2M316.1 403.4h1.2M344.3 396.7h1.2M317.1 397.5h1.2M318.5 406.4h1.2M302.8 402.4h1.2M330.2 404.2h1.2M313.2 400.5h1.2M330.6 407.3h1.2M323.4 407.8h1.2M308.8 402.6h1.2M300.6 410.3h1.2M314.2 394.9h1.2M310.3 404.2h1.2M311.7 406.3h1.2M319.8 401.5h1.2M310.9 402.5h1.2M308.3 404.4h1.2M330.0 396.1h1.2M324.5 409.0h1.2M324.2 401.5h1.2M313.3 405.0h1.2M327.6 395.4h1.2M334.2 405.6h1.2M325.3 406.5h1.2M305.7 404.2h1.2M320.4 400.8h1.2M303.3 406.4h1.2M312.3 405.5h1.2M317.7 398.3h1.2M341.8 408.5h1.2M310.3 409.5h1.2M321.5 409.1h1.2M336.7 402.1h1.2M345.2 402.9h1.2M305.2 405.4h1.2M315.4 404.5h1.2M322.1 405.4h1.2M305.4 407.3h1.2M319.0 409.5h1.2M331.2 408.0h1.2M328.0 408.9h1.2M312.0 404.2h1.2M335.3 408.0h1.2M320.6 407.5h1.2M308.3 409.5h1.2M330.9 409.2h1.2M299.5 403.2h1.2M309.1 409.6h1.2M316.8 400.9h1.2M345.9 395.9h1.2M308.8 409.4h1.2M315.6 408.9h1.2M310.9 406.5h1.2M315.6 401.1h1.2M315.5 393.4h1.2M337.6 405.2h1.2M327.7 401.4h1.2M329.1 399.4h1.2M321.2 401.2h1.2M340.6 410.3h1.2M338.3 408.4h1.2M341.5 403.6h1.2M318.9 408.6h1.2M320.4 410.5h1.2M336.4 397.6h1.2M304.0 410.0h1.2M320.5 410.1h1.2M325.5 410.3h1.2M323.0 409.5h1.2M304.6 409.3h1.2M309.6 401.9h1.2M302.5 409.9h1.2M325.4 410.5h1.2M311.2 409.1h1.2M337.1 410.5h1.2M338.9 409.3h1.2M327.0 397.7h1.2M314.9 404.3h1.2M312.4 410.1h1.2M338.0 410.3h1.2M318.6 410.6h1.2M330.8 406.8h1.2M313.9 398.6h1.2M322.0 403.2h1.2M303.4 405.2h1.2M333.9 407.4h1.2M316.2 407.3h1.2M331.5 394.7h1.2M335.8 398.6h1.2M323.9 405.3h1.2M305.0 406.6h1.2M312.5 407.8h1.2M325.9 398.8h1.2M330.9 409.3h1.2M301.9 409.1h1.2M324.3 397.5h1.2M337.7 404.9h1.2M312.0 399.4h1.2M328.4 406.3h1.2M319.8 404.2h1.2M314.3 398.1h1.2M345.3 406.9h1.2M327.8 403.3h1.2M304.0 401.9h1.2M328.1 410.0h1.2M324.2 405.9h1.2M311.1 403.4h1.2M327.3 402.6h1.2M305.6 394.0h1.2M301.7 406.2h1.2M344.1 398.9h1.2M318.6 408.6h1.2M309.5 394.5h1.2M303.3 406.9h1.2M322.9 396.5h1.2M303.2 408.1h1.2M311.3 404.9h1.2M324.7 409.5h1.2M316.7 400.7h1.2M313.0 405.6h1.2M321.8 401.3h1.2M318.7 408.2h1.2M319.3 408.7h1.2M322.4 395.5h1.2M315.1 406.3h1.2M320.2 403.9h1.2M321.7 401.4h1.2M318.2 389.3h1.2M324.8 401.7h1.2M321.4 404.9h1.2M311.5 399.6h1.2M308.3 405.8h1.2M307.7 407.4h1.2M306.5 401.5h1.2M322.0 399.7h1.2M321.6 398.1h1.2M314.3 408.6h1.2M329.1 410.0h1.2M337.7 401.1h1.2M330.1 409.2h1.2M318.2 400.0h1.2M312.9 398.3h1.2M308.5 393.9h1.2M314.3 388.3h1.2M303.1 408.8h1.2M328.4 407.4h1.2M298.9 406.4h1.2M317.6 409.5h1.2M315.6 409.6h1.2M330.6 407.9h1.2M304.7 397.1h1.2M337.3 402.4h1.2M309.1 407.0h1.2M324.2 409.6h1.2M318.0 405.5h1.2M318.0 402.1h1.2M335.9 406.8h1.2M300.7 405.8h1.2M322.3 408.5h1.2M315.7 403.7h1.2M330.6 399.4h1.2M334.0 397.7h1.2M320.9 406.4h1.2M335.3 393.1h1.2M337.9 407.5h1.2M315.1 409.6h1.2M326.8 406.2h1.2M338.0 407.1h1.2M316.8 407.5h1.2M311.0 401.2h1.2M308.2 409.7h1.2M315.0 407.3h1.2M339.9 407.3h1.2M312.2 409.0h1.2M316.1 401.1h1.2M320.3 398.2h1.2M314.9 406.1h1.2M315.7 405.0h1.2M324.0 407.7h1.2M329.1 405.4h1.2M304.6 407.9h1.2M340.5 400.3h1.2M307.0 398.1h1.2M337.7 397.8h1.2M318.9 406.1h1.2M336.1 403.3h1.2M322.9 403.7h1.2M316.1 402.1h1.2M309.2 406.5h1.2M318.7 405.9h1.2M325.2 404.6h1.2M308.7 403.7h1.2M300.7 404.6h1.2M326.9 402.4h1.2M307.7 401.5h1.2M324.2 404.6h1.2M311.7 406.1h1.2M325.2 407.2h1.2M345.8 409.4h1.2M331.3 406.0h1.2M331.9 403.7h1.2M303.4 407.4h1.2M341.3 406.8h1.2M302.2 409.6h1.2M312.8 402.7h1.2M302.4 408.7h1.2M344.6 409.5h1.2M341.9 399.1h1.2M311.2 395.0h1.2M342.0 409.2h1.2M325.5 403.2h1.2M318.8 406.4h1.2M322.3 406.6h1.2M336.5 406.6h1.2M312.5 407.0h1.2M311.4 403.1h1.2M315.0 398.6h1.2M311.7 403.0h1.2M323.8 405.3h1.2M310.6 408.0h1.2M328.2 405.6h1.2M335.2 410.4h1.2M317.4 410.4h1.2M309.0 404.2h1.2M337.0 392.8h1.2M342.7 403.5h1.2M317.9 409.6h1.2M306.1 409.7h1.2M345.6 402.3h1.2M302.6 400.3h1.2M313.7 409.7h1.2M343.7 400.8h1.2M317.3 403.4h1.2M330.4 400.5h1.2M317.6 403.7h1.2M332.3 405.0h1.2M318.0 404.4h1.2M324.4 402.8h1.2M323.1 405.1h1.2M314.9 408.8h1.2M327.6 410.5h1.2M323.4 407.5h1.2M319.7 409.3h1.2M318.7 407.7h1.2M302.6 405.0h1.2M315.8 409.1h1.2M354.3 406.1h1.2M319.8 392.5h1.2M309.2 406.5h1.2M335.6 404.1h1.2M321.2 398.7h1.2M302.6 409.1h1.2M317.2 394.3h1.2M327.9 409.1h1.2M300.8 396.2h1.2M319.6 409.1h1.2M333.3 403.0h1.2M318.8 405.1h1.2M334.3 402.1h1.2M330.0 406.8h1.2M302.3 410.4h1.2M345.9 407.8h1.2M337.1 402.2h1.2M312.6 407.4h1.2M331.2 405.4h1.2M323.8 407.7h1.2M332.1 409.3h1.2M320.0 408.8h1.2M314.4 403.7h1.2M327.0 408.4h1.2M342.4 410.3h1.2M334.7 406.8h1.2M328.3 407.7h1.2M335.0 397.5h1.2M334.7 405.6h1.2M331.9 410.2h1.2M317.3 403.2h1.2M346.8 408.1h1.2M310.7 400.8h1.2M332.5 409.0h1.2M339.9 409.6h1.2M316.5 403.8h1.2M313.9 396.4h1.2M312.3 404.4h1.2M324.7 407.8h1.2M309.2 399.1h1.2M316.4 402.9h1.2M313.4 399.2h1.2M345.7 395.1h1.2M321.5 401.7h1.2M309.5 403.2h1.2M327.9 387.7h1.2M322.2 395.9h1.2M331.0 402.0h1.2M331.0 407.8h1.2M312.5 401.2h1.2M335.4 401.1h1.2M309.0 400.4h1.2M321.8 410.5h1.2M319.5 397.9h1.2M323.3 409.1h1.2M335.1 408.2h1.2M322.8 396.1h1.2M336.8 408.8h1.2M319.7 410.5h1.2M333.4 402.3h1.2M329.3 410.2h1.2M309.2 408.9h1.2M312.3 396.6h1.2M306.9 407.5h1.2M327.6 400.7h1.2M331.4 400.6h1.2M311.7 408.6h1.2M326.7 396.9h1.2M330.9 403.0h1.2M333.9 406.2h1.2M326.5 409.4h1.2M307.6 402.2h1.2M311.3 408.0h1.2M334.4 405.2h1.2M306.3 406.2h1.2M322.7 401.6h1.2M334.0 404.8h1.2M315.9 407.3h1.2M330.0 405.1h1.2M308.3 405.2h1.2M326.7 409.9h1.2M313.8 407.3h1.2M316.2 404.6h1.2M310.1 405.2h1.2M316.5 393.4h1.2M320.0 398.8h1.2M321.1 406.5h1.2M316.4 408.1h1.2M327.6 401.4h1.2M309.4 398.9h1.2M316.4 408.8h1.2M304.3 401.0h1.2M346.3 408.4h1.2M302.6 408.1h1.2M307.2 401.5h1.2M305.8 407.0h1.2M310.1 409.8h1.2M301.5 409.1h1.2M322.0 407.0h1.2M308.3 403.7h1.2M303.2 405.9h1.2M311.1 406.7h1.2M326.2 395.6h1.2M307.8 407.5h1.2M318.5 401.2h1.2M341.7 405.9h1.2M314.7 409.6h1.2M306.4 407.4h1.2M300.6 397.3h1.2M319.6 402.6h1.2M335.6 409.1h1.2M338.6 404.2h1.2M322.3 408.9h1.2M329.1 405.5h1.2M336.9 405.4h1.2M305.5 393.3h1.2M313.8 405.6h1.2M328.8 403.4h1.2M324.1 409.5h1.2M336.0 399.4h1.2M315.7 409.9h1.2M335.8 410.0h1.2M323.4 405.1h1.2M310.0 393.0h1.2M316.8 402.5h1.2M336.8 402.1h1.2M331.7 403.9h1.2M304.7 407.9h1.2M324.7 406.9h1.2M324.2 409.3h1.2M304.6 405.4h1.2M309.3 410.3h1.2M307.1 405.1h1.2M335.4 408.9h1.2M344.8 401.3h1.2M324.2 408.7h1.2M300.7 401.7h1.2M313.5 405.9h1.2M321.8 407.4h1.2M324.2 409.2h1.2M318.4 409.1h1.2M307.9 402.7h1.2M327.0 409.0h1.2M300.1 410.5h1.2M333.3 409.2h1.2M314.3 408.7h1.2M310.8 400.7h1.2M333.2 394.1h1.2M325.1 409.0h1.2M316.9 408.9h1.2M335.9 405.9h1.2M315.8 399.9h1.2M310.5 401.9h1.2M333.9 410.0h1.2M301.5 405.4h1.2M339.4 406.3h1.2M337.3 410.3h1.2M325.0 401.0h1.2M315.3 403.3h1.2M331.3 400.8h1.2M303.7 405.6h1.2M319.3 401.2h1.2M345.6 401.8h1.2M315.9 407.6h1.2M329.3 403.9h1.2M344.4 399.5h1.2M301.6 398.3h1.2M311.1 406.8h1.2M322.6 410.4h1.2M306.8 397.5h1.2M345.1 410.0h1.2M341.4 402.3h1.2M340.4 401.3h1.2M298.6 407.6h1.2M303.9 399.8h1.2M321.5 397.5h1.2M322.0 410.4h1.2M331.8 403.3h1.2M330.4 399.0h1.2M316.3 407.2h1.2M317.4 400.0h1.2M328.5 404.7h1.2M331.8 405.2h1.2M338.4 407.4h1.2M302.0 408.7h1.2M334.7 410.4h1.2M318.9 407.0h1.2M305.0 404.4h1.2M300.7 404.7h1.2M330.9 407.4h1.2M318.1 406.8h1.2M325.6 402.6h1.2M333.2 409.8h1.2M323.6 402.3h1.2M334.8 405.8h1.2M343.5 398.4h1.2M304.8 407.3h1.2M316.2 400.8h1.2M335.2 408.6h1.2M303.3 406.7h1.2M318.0 403.0h1.2M328.4 408.9h1.2M331.8 409.1h1.2M327.4 400.9h1.2M328.5 397.7h1.2M338.8 409.1h1.2M316.6 408.9h1.2M334.3 402.6h1.2M322.5 405.8h1.2M310.0 404.7h1.2M312.0 407.2h1.2M299.1 408.8h1.2M317.6 409.5h1.2M343.7 409.9h1.2M338.3 398.5h1.2M332.9 402.3h1.2M326.9 407.1h1.2M306.6 400.2h1.2M308.0 407.2h1.2M312.0 392.2h1.2M305.3 404.3h1.2M312.4 401.4h1.2M340.6 401.8h1.2M328.4 402.8h1.2M307.2 389.2h1.2M300.0 408.5h1.2M321.5 395.7h1.2M320.8 405.7h1.2M326.1 410.3h1.2M310.4 408.0h1.2M313.8 410.1h1.2M328.4 409.3h1.2M333.7 398.7h1.2M327.3 405.9h1.2M314.8 395.0h1.2M317.5 408.7h1.2M327.0 409.5h1.2M310.8 404.6h1.2M333.3 410.4h1.2M327.0 401.4h1.2M323.5 399.4h1.2M327.9 407.8h1.2M313.2 409.1h1.2M334.4 407.6h1.2M299.8 394.1h1.2M334.7 407.8h1.2M336.5 407.7h1.2M338.5 409.6h1.2M332.5 404.2h1.2M299.3 407.8h1.2M340.7 409.9h1.2M304.6 408.1h1.2M319.7 407.4h1.2M307.2 393.7h1.2M322.9 404.1h1.2M314.1 406.7h1.2M311.6 406.6h1.2M316.2 396.2h1.2M323.8 406.1h1.2M330.3 408.0h1.2M298.7 410.2h1.2M320.0 406.0h1.2M308.2 407.3h1.2M316.6 405.8h1.2M317.2 407.4h1.2M337.5 409.9h1.2M339.4 404.0h1.2M326.6 399.0h1.2M325.1 405.8h1.2M337.8 406.8h1.2M337.9 401.7h1.2M313.3 408.2h1.2M321.5 405.7h1.2M341.5 408.7h1.2M339.5 409.4h1.2M316.0 410.2h1.2M315.5 401.6h1.2M323.5 407.8h1.2M341.5 405.5h1.2M310.8 409.6h1.2M300.9 403.9h1.2M298.7 407.6h1.2M314.6 398.4h1.2M312.4 404.9h1.2M324.4 394.2h1.2M317.7 407.6h1.2M325.5 392.9h1.2M336.3 398.6h1.2M311.5 410.2h1.2M318.2 400.1h1.2M345.9 403.7h1.2M300.1 404.1h1.2M324.0 402.3h1.2M319.0 397.2h1.2M312.8 406.2h1.2M324.0 397.4h1.2M327.3 406.7h1.2M335.6 402.6h1.2M328.3 409.7h1.2M298.9 408.6h1.2M304.9 403.7h1.2M339.6 405.2h1.2M315.9 405.9h1.2M327.5 400.8h1.2M316.2 394.5h1.2M329.3 410.3h1.2M311.9 404.6h1.2M331.3 399.6h1.2M311.7 404.5h1.2M330.6 403.8h1.2M323.8 401.8h1.2M331.0 402.0h1.2M322.6 405.2h1.2M320.0 394.3h1.2M322.1 407.1h1.2M311.0 410.3h1.2M330.2 405.9h1.2M305.4 404.6h1.2M319.0 408.9h1.2M308.4 402.0h1.2M323.1 404.0h1.2M343.9 409.8h1.2M340.7 395.2h1.2M323.7 406.7h1.2M309.8 407.1h1.2M330.7 409.4h1.2M300.6 393.8h1.2M343.4 409.0h1.2M321.7 408.2h1.2M333.7 401.1h1.2M320.5 403.9h1.2M332.1 403.7h1.2M301.6 407.6h1.2M310.8 402.9h1.2M338.1 402.8h1.2M325.9 408.4h1.2M320.1 402.8h1.2M324.0 405.2h1.2M331.2 409.1h1.2M322.5 407.9h1.2M302.9 405.1h1.2M309.9 401.2h1.2M323.6 409.7h1.2M342.5 406.1h1.2M320.5 406.6h1.2M321.9 402.8h1.2M315.4 405.9h1.2M313.6 408.6h1.2M321.0 410.6h1.2M300.4 394.4h1.2M312.7 408.8h1.2M310.5 407.9h1.2M323.7 407.3h1.2M317.3 407.7h1.2M307.6 398.7h1.2M318.8 410.2h1.2M299.1 410.4h1.2M315.6 408.7h1.2M326.5 408.5h1.2M320.7 402.2h1.2M301.0 408.5h1.2M344.8 395.7h1.2M303.7 393.1h1.2M342.5 401.8h1.2M308.8 409.4h1.2M324.1 410.5h1.2M344.0 409.3h1.2M351.7 408.3h1.2M343.1 405.2h1.2M341.1 407.2h1.2M342.8 406.6h1.2M339.9 407.8h1.2M325.4 402.0h1.2M336.8 399.6h1.2M319.1 406.7h1.2M336.9 393.7h1.2M309.5 401.9h1.2M319.2 396.6h1.2M298.3 407.6h1.2M335.2 408.2h1.2M334.0 405.9h1.2M318.7 410.0h1.2M331.0 408.0h1.2M324.4 403.8h1.2M316.7 399.3h1.2M342.0 407.5h1.2M327.7 408.1h1.2M342.0 403.7h1.2M305.0 407.8h1.2M324.7 402.6h1.2M313.6 408.2h1.2M326.9 394.2h1.2M313.8 398.1h1.2M359.7 397.9h1.2M366.0 390.0h1.2M371.7 383.1h1.2M361.6 389.6h1.2M368.2 396.4h1.2M367.3 389.8h1.2M358.5 405.4h1.2M355.3 401.1h1.2M361.3 380.9h1.2M375.2 387.3h1.2M378.9 396.6h1.2M365.1 406.1h1.2M365.1 407.9h1.2M361.8 380.6h1.2M358.2 391.9h1.2M350.2 407.6h1.2M362.9 388.7h1.2M353.8 384.9h1.2M369.8 396.3h1.2M366.0 385.8h1.2M359.2 389.4h1.2M361.5 400.7h1.2M366.9 384.1h1.2M368.9 407.3h1.2M365.9 408.5h1.2" stroke="#e80c0c" stroke-width="1.2" fill="none"/>
<path d="M366.0 377.9h1.2M371.4 355.4h1.2M362.7 340.8h1.2M373.3 342.1h1.2M381.3 365.3h1.2M383.5 347.3h1.2M384.0 372.7h1.2M380.5 334.6h1.2M372.8 377.3h1.2M356.7 351.1h1.2M363.9 357.7h1.2M365.5 341.5h1.2M369.7 372.4h1.2M360.6 346.0h1.2M370.0 374.8h1.2M351.7 357.6h1.2M360.5 341.3h1.2M370.4 335.0h1.2M362.6 369.5h1.2M372.5 330.3h1.2M354.3 337.6h1.2M364.9 363.3h1.2M368.9 338.1h1.2M379.3 372.2h1.2M363.5 337.2h1.2M368.7 339.8h1.2M370.3 376.6h1.2M370.8 348.0h1.2M353.2 333.5h1.2M374.3 334.2h1.2M370.5 338.4h1.2M359.2 338.8h1.2M364.0 349.1h1.2M340.2 364.2h1.2M359.1 345.1h1.2M366.4 346.3h1.2M365.0 334.4h1.2M381.0 348.5h1.2M364.8 376.2h1.2M362.7 359.5h1.2M361.6 339.8h1.2M360.2 370.5h1.2M366.5 369.2h1.2M364.8 339.6h1.2M375.7 334.6h1.2M370.6 370.4h1.2M369.1 336.9h1.2M358.9 354.6h1.2M365.0 363.8h1.2M362.5 335.9h1.2M361.1 333.9h1.2M368.7 355.7h1.2M358.9 373.4h1.2M383.9 364.9h1.2M352.1 346.0h1.2M364.0 352.5h1.2M356.0 351.3h1.2M362.2 370.9h1.2M379.7 371.2h1.2M364.0 344.6h1.2M358.1 331.8h1.2M355.0 338.1h1.2M359.1 339.5h1.2M362.8 330.3h1.2M350.0 330.2h1.2M355.8 321.6h1.2M349.5 316.1h1.2M371.1 332.5h1.2M367.8 340.5h1.2M361.2 339.5h1.2M363.3 330.1h1.2M359.3 327.5h1.2M363.8 339.6h1.2M360.7 327.9h1.2M363.3 328.7h1.2M377.8 335.3h1.2M379.3 324.7h1.2M375.5 330.7h1.2M356.2 327.9h1.2M347.6 327.9h1.2M371.3 329.7h1.2M366.6 338.1h1.2M352.7 336.1h1.2M372.6 327.1h1.2M371.5 334.7h1.2M370.0 336.4h1.2M368.4 322.9h1.2M360.0 331.7h1.2M376.9 325.9h1.2M361.7 331.1h1.2M380.4 338.5h1.2M367.9 337.0h1.2M362.4 321.3h1.2M379.3 346.2h1.2M369.4 361.5h1.2M372.6 322.7h1.2M362.1 348.9h1.2M380.0 353.8h1.2M383.6 335.6h1.2M384.5 350.5h1.2M361.4 320.3h1.2M378.2 367.9h1.2M392.8 365.9h1.2M387.0 350.9h1.2M361.0 331.6h1.2M388.8 330.0h1.2M371.8 348.2h1.2M350.8 319.3h1.2M359.0 364.5h1.2M385.3 317.8h1.2M357.3 377.1h1.2M357.5 364.8h1.2M376.4 369.6h1.2M383.2 318.4h1.2M384.6 359.2h1.2M351.9 374.2h1.2M363.2 342.7h1.2M373.6 348.7h1.2M375.7 316.3h1.2M388.4 346.5h1.2" stroke="#9ee69e" stroke-width="1.2" fill="none"/>
<path d="M362.6 401.8h1.2M360.9 404.6h1.2M361.9 410.4h1.2M362.8 404.5h1.2M363.9 400.4h1.2M362.4 385.3h1.2M358.4 382.8h1.2M362.1 395.0h1.2M351.7 380.1h1.2M358.4 391.0h1.2M366.7 385.1h1.2M363.8 390.3h1.2M368.1 400.7h1.2M359.6 398.8h1.2M363.3 410.1h1.2M368.2 382.8h1.2M363.4 386.2h1.2M357.1 400.3h1.2M362.8 386.1h1.2M358.6 395.5h1.2M366.7 380.8h1.2M358.0 385.2h1.2M362.5 398.2h1.2M366.3 397.3h1.2M359.2 401.7h1.2M369.3 390.3h1.2M350.9 385.5h1.2M366.9 407.4h1.2M357.6 384.5h1.2M361.6 384.1h1.2M358.6 383.8h1.2M357.6 400.4h1.2M365.0 409.1h1.2M355.1 392.7h1.2M363.8 391.9h1.2M361.0 387.9h1.2M361.5 402.4h1.2M363.3 393.7h1.2M353.7 392.7h1.2M364.5 398.2h1.2M355.9 395.3h1.2M364.5 389.1h1.2M356.4 407.9h1.2M363.6 407.6h1.2M359.7 386.9h1.2M366.4 409.5h1.2M364.8 380.4h1.2M365.3 394.3h1.2M360.2 384.7h1.2M361.2 395.5h1.2M356.8 381.7h1.2M361.7 390.0h1.2M359.7 398.6h1.2M362.9 386.8h1.2M353.3 380.4h1.2M359.4 395.4h1.2M354.1 401.4h1.2M353.0 406.0h1.2M359.1 405.2h1.2M358.0 403.4h1.2M349.6 381.5h1.2M361.9 408.1h1.2M357.1 404.7h1.2M365.9 385.2h1.2M360.1 381.1h1.2M361.0 409.6h1.2M362.0 383.7h1.2M366.2 408.9h1.2M351.2 388.4h1.2M360.6 394.4h1.2M361.1 401.9h1.2M367.7 397.8h1.2M357.3 409.5h1.2M358.8 380.6h1.2M364.7 410.2h1.2M367.4 406.3h1.2M361.3 394.2h1.2M373.0 397.7h1.2M356.8 407.3h1.2M355.5 407.9h1.2M356.8 389.8h1.2M370.7 401.2h1.2M364.9 389.3h1.2M358.5 409.8h1.2M356.7 383.6h1.2M360.9 380.5h1.2M353.8 394.3h1.2M376.5 383.1h1.2M374.9 399.7h1.2M358.5 409.0h1.2M360.3 397.8h1.2M358.1 384.8h1.2M358.4 390.1h1.2M364.3 395.4h1.2M361.7 392.1h1.2M361.2 386.4h1.2M358.2 396.2h1.2M359.3 386.4h1.2M357.0 383.9h1.2M357.8 404.7h1.2M364.7 387.4h1.2M356.5 386.4h1.2M368.0 381.2h1.2M371.9 389.8h1.2M359.1 388.8h1.2M357.7 404.4h1.2M361.9 407.4h1.2M359.8 406.0h1.2M356.1 409.0h1.2M364.0 385.4h1.2M367.8 410.6h1.2M362.5 403.0h1.2M356.1 389.1h1.2M366.5 382.3h1.2M363.3 394.2h1.2M365.0 388.2h1.2M355.8 386.6h1.2M355.4 408.0h1.2M358.9 385.3h1.2M355.7 391.7h1.2M362.2 385.8h1.2M356.3 386.0h1.2M365.2 389.9h1.2M349.3 395.0h1.2M359.0 390.7h1.2M366.9 390.7h1.2M362.3 383.6h1.2M354.2 390.9h1.2M362.1 402.8h1.2M359.8 381.5h1.2M359.7 396.3h1.2M356.0 387.1h1.2M357.1 390.7h1.2M360.0 396.4h1.2M356.1 387.1h1.2M357.1 380.1h1.2M356.9 403.4h1.2M365.8 409.2h1.2M347.1 401.8h1.2M357.2 401.8h1.2M361.8 393.0h1.2M359.9 398.8h1.2M363.2 402.0h1.2M361.3 386.4h1.2M358.1 399.8h1.2M368.2 408.8h1.2M368.6 399.6h1.2M360.5 403.8h1.2M367.4 390.7h1.2M357.0 408.2h1.2M355.5 404.1h1.2M357.9 407.6h1.2M355.5 398.7h1.2M359.4 383.3h1.2M357.0 397.3h1.2M363.3 386.9h1.2M374.0 407.8h1.2M364.1 340.5h1.2M366.1 338.9h1.2M367.5 366.3h1.2M366.6 377.8h1.2M359.5 340.1h1.2M348.9 370.8h1.2M352.1 341.4h1.2M377.0 344.4h1.2M358.7 342.4h1.2M363.9 364.9h1.2M371.3 361.4h1.2M340.1 346.8h1.2M353.3 358.4h1.2M367.3 374.0h1.2M344.0 352.9h1.2M355.6 351.4h1.2M372.8 353.2h1.2M366.4 330.6h1.2M360.9 342.8h1.2M366.7 372.4h1.2M368.8 358.2h1.2M362.8 353.3h1.2M372.1 355.6h1.2M367.5 350.4h1.2M362.0 359.4h1.2M363.6 359.3h1.2M369.3 374.8h1.2M375.8 372.8h1.2M356.9 366.0h1.2M357.7 351.8h1.2M362.7 356.6h1.2M356.6 365.2h1.2M354.5 348.4h1.2M358.8 346.8h1.2M359.5 351.2h1.2M356.9 348.2h1.2M361.8 372.1h1.2M377.2 339.4h1.2M358.5 360.6h1.2M356.0 361.8h1.2M363.9 347.4h1.2M365.8 355.0h1.2M350.9 361.6h1.2M350.0 361.4h1.2M355.6 336.2h1.2M377.9 372.5h1.2M355.1 363.2h1.2M365.6 356.1h1.2M369.6 333.1h1.2M364.9 358.5h1.2M367.2 332.1h1.2M355.5 331.0h1.2M362.9 323.3h1.2M364.8 328.1h1.2M369.4 332.4h1.2M359.1 337.2h1.2M369.2 328.6h1.2M365.2 325.4h1.2M358.6 330.5h1.2M372.6 329.2h1.2M350.7 326.5h1.2M369.1 335.8h1.2M359.8 330.0h1.2M368.6 334.3h1.2M366.1 329.4h1.2M375.8 324.9h1.2M366.2 335.2h1.2M359.5 331.3h1.2M366.9 332.9h1.2M372.9 328.6h1.2M369.6 329.8h1.2M362.2 331.0h1.2M358.1 333.1h1.2M365.8 330.9h1.2M363.1 330.1h1.2M367.3 330.6h1.2M361.6 326.3h1.2M365.5 334.7h1.2M361.2 332.0h1.2M362.6 331.8h1.2M360.5 322.0h1.2M359.1 330.1h1.2M361.2 330.8h1.2M363.5 325.6h1.2M367.9 333.1h1.2M369.6 334.8h1.2M374.1 331.7h1.2M372.7 333.6h1.2M366.2 335.0h1.2M361.2 323.0h1.2M366.0 329.6h1.2M362.9 327.4h1.2M366.8 334.4h1.2M364.9 330.7h1.2M362.0 326.8h1.2M368.2 328.3h1.2M364.1 337.8h1.2M369.9 334.4h1.2M363.5 332.1h1.2M368.8 336.9h1.2M370.2 337.5h1.2M370.9 337.4h1.2M370.9 332.7h1.2M357.4 330.0h1.2M367.2 329.9h1.2M370.5 330.8h1.2M365.4 328.5h1.2M372.0 330.9h1.2M360.6 331.4h1.2M368.6 327.9h1.2M374.4 330.5h1.2M363.9 325.4h1.2M368.6 336.7h1.2M363.5 329.5h1.2M366.1 331.7h1.2M365.7 336.8h1.2M364.8 325.6h1.2M356.0 337.1h1.2M366.1 333.0h1.2M360.4 332.0h1.2M363.2 324.4h1.2M363.8 327.9h1.2M360.2 329.5h1.2M358.1 329.7h1.2M369.5 336.5h1.2M367.3 325.4h1.2M367.1 332.4h1.2M364.0 324.6h1.2M355.4 325.5h1.2M360.8 332.1h1.2M341.8 347.1h1.2M333.8 362.9h1.2M344.6 370.7h1.2M324.9 357.6h1.2M335.3 357.5h1.2M319.8 377.8h1.2M331.2 349.6h1.2M322.4 345.5h1.2M344.4 349.6h1.2M334.3 376.2h1.2M340.3 364.5h1.2M326.3 367.2h1.2M341.4 351.8h1.2M324.6 358.6h1.2M335.4 374.4h1.2M335.1 353.8h1.2M339.0 350.0h1.2M321.1 345.3h1.2M334.7 364.1h1.2M331.5 363.3h1.2" stroke="#1ed21e" stroke-width="1.2" fill="none"/>
<path d="M340.9 409.9h1.2M339.8 407.9h1.2M325.3 410.4h1.2M323.8 406.0h1.2M305.3 405.5h1.2M317.1 405.1h1.2M310.1 394.9h1.2M309.2 409.4h1.2M311.6 396.1h1.2M310.5 394.1h1.2M328.4 391.3h1.2M322.0 399.0h1.2M323.6 407.1h1.2M304.9 394.8h1.2M318.9 404.4h1.2M355.0 400.9h1.2M322.6 403.5h1.2M324.1 408.4h1.2M317.1 405.9h1.2M331.0 404.3h1.2M330.9 403.6h1.2M313.8 405.8h1.2M335.7 408.4h1.2M355.1 404.5h1.2M327.4 409.5h1.2M299.0 405.6h1.2M324.7 408.6h1.2M323.5 407.8h1.2M320.7 398.4h1.2M375.5 409.9h1.2M360.2 382.2h1.2M370.9 410.1h1.2M361.4 384.3h1.2M360.5 383.3h1.2M353.9 404.5h1.2M373.5 390.1h1.2M362.3 396.9h1.2M361.2 392.1h1.2M374.0 400.4h1.2M356.7 384.0h1.2M355.6 394.8h1.2M368.1 399.8h1.2M357.4 394.3h1.2M370.7 331.0h1.2M368.8 345.0h1.2M361.7 329.4h1.2M352.5 336.7h1.2M373.7 330.8h1.2M362.1 355.4h1.2M364.0 358.2h1.2M366.7 326.5h1.2M370.7 376.1h1.2M372.1 324.0h1.2M364.0 323.4h1.2M360.1 321.0h1.2M375.3 372.6h1.2M365.4 320.8h1.2M365.3 343.6h1.2M365.8 338.7h1.2M368.6 326.1h1.2M376.0 356.7h1.2M370.3 327.5h1.2M372.0 331.4h1.2M369.5 346.2h1.2M363.6 358.3h1.2M372.8 326.7h1.2M363.9 358.8h1.2M360.2 342.3h1.2M325.1 355.9h1.2M335.8 361.3h1.2M333.5 375.6h1.2M332.6 370.8h1.2M321.6 363.7h1.2M321.5 355.6h1.2" stroke="#4a4438" stroke-width="1.2" fill="none"/>
<rect x="297.4" y="296" width="102" height="115.4" fill="none" stroke="#000" stroke-width="1.2"/>
<line x1="348.5" y1="296" x2="348.5" y2="411.4" stroke="#000" stroke-width="1.1"/>
<line x1="297.4" y1="378.9" x2="399.4" y2="378.9" stroke="#000" stroke-width="1.1"/>
<text x="356.6" y="310.8" font-size="10.6" text-anchor="start" fill="#111" >16.5%</text>
<text x="294.4" y="414.0" font-size="5.4" font-weight="bold" letter-spacing="-0.35" text-anchor="end" fill="#000" stroke="#000" stroke-width="0.5">10<tspan font-size="3.6" dy="-1.8" stroke-width="0.2">0</tspan></text>
<text x="296.9" y="419.9" font-size="5.4" font-weight="bold" letter-spacing="-0.35" text-anchor="middle" fill="#000" stroke="#000" stroke-width="0.5">10<tspan font-size="3.6" dy="-1.8" stroke-width="0.2">0</tspan></text>
<text x="294.4" y="385.1" font-size="5.4" font-weight="bold" letter-spacing="-0.35" text-anchor="end" fill="#000" stroke="#000" stroke-width="0.5">10<tspan font-size="3.6" dy="-1.8" stroke-width="0.2">1</tspan></text>
<text x="322.4" y="419.9" font-size="5.4" font-weight="bold" letter-spacing="-0.35" text-anchor="middle" fill="#000" stroke="#000" stroke-width="0.5">10<tspan font-size="3.6" dy="-1.8" stroke-width="0.2">1</tspan></text>
<text x="294.4" y="356.3" font-size="5.4" font-weight="bold" letter-spacing="-0.35" text-anchor="end" fill="#000" stroke="#000" stroke-width="0.5">10<tspan font-size="3.6" dy="-1.8" stroke-width="0.2">2</tspan></text>
<text x="347.9" y="419.9" font-size="5.4" font-weight="bold" letter-spacing="-0.35" text-anchor="middle" fill="#000" stroke="#000" stroke-width="0.5">10<tspan font-size="3.6" dy="-1.8" stroke-width="0.2">2</tspan></text>
<text x="294.4" y="327.4" font-size="5.4" font-weight="bold" letter-spacing="-0.35" text-anchor="end" fill="#000" stroke="#000" stroke-width="0.5">10<tspan font-size="3.6" dy="-1.8" stroke-width="0.2">3</tspan></text>
<text x="373.4" y="419.9" font-size="5.4" font-weight="bold" letter-spacing="-0.35" text-anchor="middle" fill="#000" stroke="#000" stroke-width="0.5">10<tspan font-size="3.6" dy="-1.8" stroke-width="0.2">3</tspan></text>
<text x="294.4" y="298.6" font-size="5.4" font-weight="bold" letter-spacing="-0.35" text-anchor="end" fill="#000" stroke="#000" stroke-width="0.5">10<tspan font-size="3.6" dy="-1.8" stroke-width="0.2">4</tspan></text>
<text x="398.9" y="419.9" font-size="5.4" font-weight="bold" letter-spacing="-0.35" text-anchor="middle" fill="#000" stroke="#000" stroke-width="0.5">10<tspan font-size="3.6" dy="-1.8" stroke-width="0.2">4</tspan></text>
<path d="M422.7 406.7h1.2M433.4 407.1h1.2M445.5 406.9h1.2M445.2 401.5h1.2M439.5 403.3h1.2M440.6 406.5h1.2M421.8 405.8h1.2M424.4 401.5h1.2M429.4 403.4h1.2M447.0 408.2h1.2M446.6 404.2h1.2M441.3 400.8h1.2M445.3 396.1h1.2M431.5 404.3h1.2M439.4 403.0h1.2M442.3 407.4h1.2M431.7 394.7h1.2M442.3 406.9h1.2M446.7 408.7h1.2M452.0 396.6h1.2M444.3 408.2h1.2M424.2 395.1h1.2M460.8 401.9h1.2M428.2 408.9h1.2M421.2 387.3h1.2M429.4 402.1h1.2M441.0 404.4h1.2M425.4 402.4h1.2M466.8 402.2h1.2M428.2 400.0h1.2M430.5 403.8h1.2M429.8 402.1h1.2M450.6 396.1h1.2M431.2 396.8h1.2M439.0 405.3h1.2M448.0 409.2h1.2M449.8 402.8h1.2M429.0 405.7h1.2M452.1 392.5h1.2M441.2 403.7h1.2M448.5 398.9h1.2M427.5 408.6h1.2M424.6 394.7h1.2M436.8 409.1h1.2M451.2 407.3h1.2M441.5 407.3h1.2M434.1 399.4h1.2M442.7 408.7h1.2M428.5 407.8h1.2M463.1 407.4h1.2M458.9 396.6h1.2M435.7 408.9h1.2M440.4 396.2h1.2M434.1 407.4h1.2M435.2 397.7h1.2M439.1 399.6h1.2M435.0 408.3h1.2M442.1 406.8h1.2M419.4 408.3h1.2M435.6 404.1h1.2M432.6 407.4h1.2M451.0 402.9h1.2M427.2 400.0h1.2M441.4 399.2h1.2M442.2 408.8h1.2M447.3 405.0h1.2M430.8 397.4h1.2M422.2 389.6h1.2M466.3 395.9h1.2M437.8 403.2h1.2M440.5 405.0h1.2M443.1 397.5h1.2M437.6 398.9h1.2M435.8 403.4h1.2M464.4 396.8h1.2M441.7 402.3h1.2M436.6 405.8h1.2M442.4 404.9h1.2M429.9 395.1h1.2M434.0 400.3h1.2M451.1 401.2h1.2M450.0 407.7h1.2M429.2 397.9h1.2M427.7 407.8h1.2M427.6 407.1h1.2M445.6 402.6h1.2M430.5 398.1h1.2M448.0 407.6h1.2M421.7 408.1h1.2M444.8 406.3h1.2M433.9 409.3h1.2M442.5 398.1h1.2M445.1 398.6h1.2M422.9 401.4h1.2M428.7 405.3h1.2M448.2 404.3h1.2M451.2 391.6h1.2M434.5 402.5h1.2M447.6 407.1h1.2M459.4 398.7h1.2M435.5 408.7h1.2M442.0 406.4h1.2M426.1 406.8h1.2M429.5 404.6h1.2M419.9 403.1h1.2M445.0 398.5h1.2M425.0 409.4h1.2M442.9 407.4h1.2M428.2 407.9h1.2M450.1 400.2h1.2M435.0 409.1h1.2M437.1 408.8h1.2M443.2 406.0h1.2M443.9 406.6h1.2M448.5 397.5h1.2M449.9 404.5h1.2M440.8 407.8h1.2M431.4 401.9h1.2M448.7 403.6h1.2M440.5 396.6h1.2M430.5 405.6h1.2M427.4 404.3h1.2M437.3 405.8h1.2M434.3 395.9h1.2M433.5 405.6h1.2M443.7 407.6h1.2M439.7 400.8h1.2M433.0 401.4h1.2M434.1 405.8h1.2M450.5 408.3h1.2M441.6 400.4h1.2M459.7 409.0h1.2M446.8 388.8h1.2M464.8 401.9h1.2M457.2 402.5h1.2M458.4 402.8h1.2M452.7 403.3h1.2M460.3 408.5h1.2M452.5 407.4h1.2M441.1 409.0h1.2M424.8 408.5h1.2M433.6 400.3h1.2M447.3 406.8h1.2M453.3 405.0h1.2M443.6 404.0h1.2M462.0 408.2h1.2M454.7 396.5h1.2M436.4 400.8h1.2M422.4 406.8h1.2M436.7 408.3h1.2M439.6 403.6h1.2M432.7 400.1h1.2M444.5 407.7h1.2M447.8 400.6h1.2M425.2 400.1h1.2M441.4 407.0h1.2M447.8 399.8h1.2M455.2 407.3h1.2M434.1 408.7h1.2M429.5 404.3h1.2M446.1 398.9h1.2M450.4 407.8h1.2M423.3 406.3h1.2M440.5 399.7h1.2M440.5 405.6h1.2M462.1 402.2h1.2M445.2 404.2h1.2M419.9 409.0h1.2M432.7 398.9h1.2M457.9 404.0h1.2M445.1 405.8h1.2M438.9 400.6h1.2M421.0 399.0h1.2M443.7 407.9h1.2M430.3 404.6h1.2M453.5 405.9h1.2M461.0 409.0h1.2M427.5 409.1h1.2M429.6 407.2h1.2M459.5 397.6h1.2M461.9 407.6h1.2M448.6 402.6h1.2M449.1 406.9h1.2M437.2 406.0h1.2M425.9 403.9h1.2M433.1 405.1h1.2M433.4 395.3h1.2M427.5 400.9h1.2M440.1 408.5h1.2M421.4 402.9h1.2M421.2 408.6h1.2M465.0 407.8h1.2M433.7 402.4h1.2M466.8 408.7h1.2M448.2 402.7h1.2M453.9 407.4h1.2M457.9 406.6h1.2M424.4 403.2h1.2M463.1 399.6h1.2M447.5 409.1h1.2M458.6 408.1h1.2M443.7 397.6h1.2M437.1 404.5h1.2M442.5 398.8h1.2M457.4 405.2h1.2M464.3 394.6h1.2M438.5 408.2h1.2M420.6 406.3h1.2M456.6 402.9h1.2M442.1 406.5h1.2M445.8 403.9h1.2M434.2 409.4h1.2M431.6 406.2h1.2M438.4 409.2h1.2M436.8 397.5h1.2M434.9 403.4h1.2M435.7 400.2h1.2M427.2 406.1h1.2M420.3 406.9h1.2M442.3 406.0h1.2M439.3 398.5h1.2M426.2 406.2h1.2M462.6 398.5h1.2M425.6 396.7h1.2M439.0 402.1h1.2M428.0 407.3h1.2M461.8 409.0h1.2M441.8 399.1h1.2M446.0 402.5h1.2M436.5 399.5h1.2M440.8 389.5h1.2M447.8 408.6h1.2M426.0 408.4h1.2M444.1 405.6h1.2M434.4 407.6h1.2M425.7 395.8h1.2M458.5 403.2h1.2M434.3 406.3h1.2M436.0 406.6h1.2M444.2 405.1h1.2M435.8 400.1h1.2M460.3 404.0h1.2M438.8 397.1h1.2M442.3 404.8h1.2M431.5 409.3h1.2M421.8 408.7h1.2M441.7 401.4h1.2M419.7 408.8h1.2M452.7 406.1h1.2M444.1 402.9h1.2M423.1 406.4h1.2M438.5 398.9h1.2M450.2 399.5h1.2M466.9 394.1h1.2M430.4 406.6h1.2M443.2 407.6h1.2M446.8 405.9h1.2M438.5 399.0h1.2M453.0 408.2h1.2M446.5 396.0h1.2M438.0 405.2h1.2M432.4 407.7h1.2M421.1 404.7h1.2M434.7 403.9h1.2M451.0 399.4h1.2M458.0 406.3h1.2M435.5 407.0h1.2M454.1 406.7h1.2M420.6 395.9h1.2M458.7 401.5h1.2M437.5 388.2h1.2M436.6 402.9h1.2M420.1 406.0h1.2M464.8 409.3h1.2M436.2 401.9h1.2M445.2 399.3h1.2M429.9 407.6h1.2M446.2 404.4h1.2M432.8 393.1h1.2M433.7 402.4h1.2M456.3 407.1h1.2M434.6 395.8h1.2M454.6 407.3h1.2M466.7 400.5h1.2M448.2 407.5h1.2M449.8 395.7h1.2M427.6 408.4h1.2M427.9 401.1h1.2M423.2 404.9h1.2M444.1 403.0h1.2M452.2 403.0h1.2M444.9 405.5h1.2M452.0 404.1h1.2M429.7 407.6h1.2M434.4 409.2h1.2M420.5 403.3h1.2M446.5 393.4h1.2M438.1 391.1h1.2M429.6 404.1h1.2M448.6 406.5h1.2M457.6 404.7h1.2M427.7 401.0h1.2M419.8 400.6h1.2M457.0 404.5h1.2M439.6 408.0h1.2M444.4 397.3h1.2M425.3 406.6h1.2M438.1 404.5h1.2M436.4 397.9h1.2M431.6 405.0h1.2M436.0 407.2h1.2M438.3 406.0h1.2M443.9 397.6h1.2M423.4 407.9h1.2M455.5 407.6h1.2M462.6 406.2h1.2M439.9 399.2h1.2M447.1 407.2h1.2M437.7 399.3h1.2M434.4 406.4h1.2M442.6 408.3h1.2M441.3 407.9h1.2M428.0 402.3h1.2M440.5 409.2h1.2M465.8 408.7h1.2M437.2 408.1h1.2M429.1 403.0h1.2M422.4 409.0h1.2M450.7 404.2h1.2M442.0 399.3h1.2M429.9 409.1h1.2M450.5 408.0h1.2M424.2 402.3h1.2M432.7 407.7h1.2M460.8 399.6h1.2M431.9 400.0h1.2M423.4 407.4h1.2M465.3 401.5h1.2M444.7 403.5h1.2M420.4 401.0h1.2M447.8 408.9h1.2M443.5 407.4h1.2M428.4 397.8h1.2M419.6 396.8h1.2M438.0 401.4h1.2M435.9 391.1h1.2M434.3 407.7h1.2M458.8 405.9h1.2M437.9 401.0h1.2M453.6 408.5h1.2M445.3 409.3h1.2M434.5 399.4h1.2M445.1 403.6h1.2M461.1 398.8h1.2M420.6 397.9h1.2M436.4 402.3h1.2M428.8 405.2h1.2M448.9 406.8h1.2M436.9 408.8h1.2M433.3 403.3h1.2M433.2 407.3h1.2M441.9 405.0h1.2M429.4 407.1h1.2M443.1 407.3h1.2M442.2 403.2h1.2M424.5 404.5h1.2M448.5 394.8h1.2M461.2 409.0h1.2M443.8 401.6h1.2M462.3 407.0h1.2M443.8 401.6h1.2M432.6 402.4h1.2M439.1 409.0h1.2M462.0 398.2h1.2M429.1 404.3h1.2M454.7 392.1h1.2M426.0 400.4h1.2M430.4 402.4h1.2M440.9 407.3h1.2M455.5 409.0h1.2M434.5 404.2h1.2M421.8 402.8h1.2M432.9 400.0h1.2M433.6 398.9h1.2M449.8 403.7h1.2M431.4 408.5h1.2M429.3 399.7h1.2M441.8 402.9h1.2M448.8 398.0h1.2M445.2 405.3h1.2M461.6 396.2h1.2M428.5 394.5h1.2M439.8 404.4h1.2M444.4 402.1h1.2M431.1 406.1h1.2M454.3 406.1h1.2M434.6 401.9h1.2M423.4 405.8h1.2M436.6 398.1h1.2M452.3 394.7h1.2M445.3 403.2h1.2M442.6 406.4h1.2M433.4 403.8h1.2M433.8 405.1h1.2M425.0 408.8h1.2M438.3 407.4h1.2M423.5 399.9h1.2M425.3 399.7h1.2M445.9 404.9h1.2M456.7 409.4h1.2M439.1 400.5h1.2M430.5 408.6h1.2M431.6 398.7h1.2M437.6 404.1h1.2M459.8 403.7h1.2M451.3 409.1h1.2M449.6 402.8h1.2M427.7 396.9h1.2M444.8 402.9h1.2M460.3 408.2h1.2M419.8 401.4h1.2M424.4 407.9h1.2M438.8 406.8h1.2M432.5 402.5h1.2M442.1 405.5h1.2M437.7 392.8h1.2M463.8 400.0h1.2M425.2 406.4h1.2M436.8 402.8h1.2M436.3 406.0h1.2M433.9 402.7h1.2M422.0 393.2h1.2M425.4 408.6h1.2M431.3 408.1h1.2M452.1 407.6h1.2M462.9 398.8h1.2M427.0 405.6h1.2M422.5 409.4h1.2M439.8 400.1h1.2M452.0 403.8h1.2M429.7 397.4h1.2M442.3 404.4h1.2M435.3 405.4h1.2M441.5 408.5h1.2M430.3 398.9h1.2M433.3 401.3h1.2M465.2 400.1h1.2M437.1 409.3h1.2M422.4 407.9h1.2M422.4 407.0h1.2M438.1 397.4h1.2M428.5 406.0h1.2M432.2 407.6h1.2M443.5 409.0h1.2M446.0 398.3h1.2M429.2 399.9h1.2M438.4 408.2h1.2M447.8 402.3h1.2M421.1 398.3h1.2M455.5 406.8h1.2M441.6 392.7h1.2M423.0 401.8h1.2M424.7 406.4h1.2M438.6 400.8h1.2M455.1 396.1h1.2M458.3 402.5h1.2M430.8 400.2h1.2M434.5 386.5h1.2M423.1 407.9h1.2M457.7 406.5h1.2M425.1 405.9h1.2M423.4 405.6h1.2M420.7 406.2h1.2M455.6 409.2h1.2M458.6 396.5h1.2M450.9 407.7h1.2M436.4 408.6h1.2M429.7 401.1h1.2M435.9 406.4h1.2M433.2 404.9h1.2M434.0 402.7h1.2M457.8 403.2h1.2M454.8 407.6h1.2M429.8 407.4h1.2M441.6 407.3h1.2M454.8 404.9h1.2M435.5 406.9h1.2M438.7 408.0h1.2M445.2 402.6h1.2M446.4 408.6h1.2M453.0 402.8h1.2M450.5 394.5h1.2M440.5 399.4h1.2M449.5 403.5h1.2M464.0 406.6h1.2M437.4 408.7h1.2M465.7 401.3h1.2M440.5 400.3h1.2M439.5 408.3h1.2M429.2 408.3h1.2M455.4 405.2h1.2M457.2 401.5h1.2M434.2 396.9h1.2M424.5 409.3h1.2M438.1 406.5h1.2M434.8 397.6h1.2M431.3 398.7h1.2M428.1 409.1h1.2M435.1 405.1h1.2M442.2 392.1h1.2M439.1 405.8h1.2M420.2 398.2h1.2M427.9 403.9h1.2M431.1 400.4h1.2M431.8 400.9h1.2M442.3 389.6h1.2M438.7 394.7h1.2M420.6 409.0h1.2M446.5 405.6h1.2M432.9 402.2h1.2M429.9 408.7h1.2M433.2 409.1h1.2M438.6 404.6h1.2M453.8 403.2h1.2M432.2 405.9h1.2M455.0 402.7h1.2M439.8 407.2h1.2M441.4 407.6h1.2M434.5 404.3h1.2M446.9 408.9h1.2M428.1 407.7h1.2M421.9 405.6h1.2M430.0 405.9h1.2M450.0 406.0h1.2M437.7 408.6h1.2M448.7 402.9h1.2M434.6 405.9h1.2M440.2 404.5h1.2M435.4 402.9h1.2M424.3 400.3h1.2M427.2 409.2h1.2M438.1 408.4h1.2M437.8 408.8h1.2M431.4 399.2h1.2M437.1 407.9h1.2M439.3 409.1h1.2M425.9 409.3h1.2M446.4 398.2h1.2M423.9 405.1h1.2M427.2 407.2h1.2M443.9 409.3h1.2M442.9 399.6h1.2M419.8 406.9h1.2M444.5 404.8h1.2M441.2 401.7h1.2M430.7 408.5h1.2M420.5 397.5h1.2M432.4 404.0h1.2M426.0 398.6h1.2M465.4 405.6h1.2M441.0 402.4h1.2M437.3 394.1h1.2M442.9 397.4h1.2M425.5 395.9h1.2M437.1 402.4h1.2M424.8 408.6h1.2M459.9 383.0h1.2M432.5 403.7h1.2M429.4 405.2h1.2M434.9 398.5h1.2M440.8 400.9h1.2M448.6 399.2h1.2M429.5 402.0h1.2M437.9 397.1h1.2M428.3 399.0h1.2M447.7 401.7h1.2M448.2 403.8h1.2M430.2 395.2h1.2M454.7 402.5h1.2M449.3 388.6h1.2M440.1 398.3h1.2M430.1 394.1h1.2M436.1 403.2h1.2M454.2 396.1h1.2M458.4 393.4h1.2M434.4 403.8h1.2M423.4 403.7h1.2M456.2 403.3h1.2M433.2 400.4h1.2M439.6 396.8h1.2M420.7 404.2h1.2M432.5 401.1h1.2M437.1 409.2h1.2M434.6 405.2h1.2M450.4 402.3h1.2M457.1 403.7h1.2M440.7 407.3h1.2M441.8 406.2h1.2M453.1 402.9h1.2M443.5 407.7h1.2M451.0 409.1h1.2M444.3 396.9h1.2M444.4 403.0h1.2M437.4 405.5h1.2M447.4 398.8h1.2M447.0 406.7h1.2M434.2 402.0h1.2M426.8 404.5h1.2M422.6 408.7h1.2M442.0 406.3h1.2M435.1 404.6h1.2M422.0 404.3h1.2M432.7 397.3h1.2M442.2 408.8h1.2M425.5 400.3h1.2M464.9 407.9h1.2M436.0 409.3h1.2M427.4 405.4h1.2M464.5 406.6h1.2M436.2 408.9h1.2M451.9 398.9h1.2M436.3 402.9h1.2M434.3 396.0h1.2M421.9 400.7h1.2M437.7 396.3h1.2M426.9 406.2h1.2M435.7 394.7h1.2M431.5 406.2h1.2M433.5 405.2h1.2M444.5 396.2h1.2M432.2 399.9h1.2M431.3 390.5h1.2M421.8 407.8h1.2M442.9 407.8h1.2M429.4 397.8h1.2M448.1 401.7h1.2M437.0 408.8h1.2M458.1 393.4h1.2M440.6 408.1h1.2M428.2 399.1h1.2M437.4 399.8h1.2M466.0 398.2h1.2M446.9 407.9h1.2M429.0 397.3h1.2M452.4 406.7h1.2M439.2 408.8h1.2M446.1 406.1h1.2M455.5 406.3h1.2M446.3 406.7h1.2M430.2 406.3h1.2M441.4 407.3h1.2M440.9 406.4h1.2M434.3 402.0h1.2M439.3 392.1h1.2M435.6 408.4h1.2M424.8 407.8h1.2M455.5 401.8h1.2M457.1 406.3h1.2M436.0 399.9h1.2M425.6 390.8h1.2M433.9 397.7h1.2M455.7 408.1h1.2M441.7 408.8h1.2M449.9 409.0h1.2M435.0 404.0h1.2M427.6 405.3h1.2M430.5 406.0h1.2M451.4 408.1h1.2M437.7 405.6h1.2M427.4 406.5h1.2M426.6 408.2h1.2M430.3 404.2h1.2M433.6 398.8h1.2M439.2 402.5h1.2M444.4 401.4h1.2M465.9 407.9h1.2M446.6 401.7h1.2M450.5 403.9h1.2M433.8 404.0h1.2M422.7 400.3h1.2M436.4 400.2h1.2M423.6 406.7h1.2M421.9 405.7h1.2M457.0 408.2h1.2M435.8 398.9h1.2M441.6 406.9h1.2M421.9 399.0h1.2M430.6 404.0h1.2M442.0 402.5h1.2M446.4 403.3h1.2M425.0 406.9h1.2M443.4 390.2h1.2M451.1 408.3h1.2M462.2 409.2h1.2M425.2 402.3h1.2M436.6 392.5h1.2M442.9 396.4h1.2M432.5 406.6h1.2M432.9 408.8h1.2M448.2 402.4h1.2M432.5 405.2h1.2M439.0 393.7h1.2M426.8 408.2h1.2M447.7 404.4h1.2M450.6 397.1h1.2M435.4 394.4h1.2M456.7 402.7h1.2M441.2 399.2h1.2M438.2 408.0h1.2M444.5 406.7h1.2M424.0 398.1h1.2M420.1 407.6h1.2M433.7 399.1h1.2M430.0 400.2h1.2M443.5 402.6h1.2M431.3 403.7h1.2M432.4 404.3h1.2M430.0 400.5h1.2M430.6 407.0h1.2M453.7 407.2h1.2M433.4 400.8h1.2M425.1 405.8h1.2M429.2 399.9h1.2M435.1 408.4h1.2M420.8 403.5h1.2M438.1 406.7h1.2M424.3 409.2h1.2M437.0 400.4h1.2M434.8 401.4h1.2M447.5 407.2h1.2M435.7 405.4h1.2M456.2 401.6h1.2M457.0 405.7h1.2M448.1 399.8h1.2M424.8 399.8h1.2M437.1 399.0h1.2M457.1 407.8h1.2M426.6 407.2h1.2M428.2 405.8h1.2M442.3 395.0h1.2M450.7 394.2h1.2M465.0 396.5h1.2M423.1 387.1h1.2M431.2 408.6h1.2M433.0 405.1h1.2M433.0 401.2h1.2M423.8 404.2h1.2M461.9 398.6h1.2M426.6 406.6h1.2M444.2 408.5h1.2M429.5 392.5h1.2M437.9 399.8h1.2M466.2 406.3h1.2M426.7 392.2h1.2M420.7 407.6h1.2M433.4 396.6h1.2M441.8 395.3h1.2M428.1 403.5h1.2M425.6 397.7h1.2M424.8 409.4h1.2M433.8 401.1h1.2M440.2 405.8h1.2M478.3 399.5h1.2M488.3 390.0h1.2M466.5 391.1h1.2M482.7 403.5h1.2M469.5 387.3h1.2M489.8 397.4h1.2M473.0 389.4h1.2M481.6 401.9h1.2M479.4 392.0h1.2M482.7 390.1h1.2M472.7 388.8h1.2M478.2 387.0h1.2M481.9 398.8h1.2M487.3 395.4h1.2M496.8 388.9h1.2M484.5 391.3h1.2M487.0 383.2h1.2M475.5 408.1h1.2M498.8 407.3h1.2M492.3 408.9h1.2M478.5 398.8h1.2M478.4 399.2h1.2M484.3 408.9h1.2M499.5 392.7h1.2M474.9 400.2h1.2" stroke="#e80c0c" stroke-width="1.2" fill="none"/>
<path d="M483.5 339.7h1.2M483.6 363.1h1.2M495.1 351.4h1.2M485.8 345.7h1.2M471.8 357.6h1.2M492.7 359.9h1.2M491.2 370.6h1.2M492.1 363.4h1.2M500.4 370.4h1.2M495.8 341.2h1.2M490.9 368.3h1.2M484.5 377.6h1.2M481.8 373.5h1.2M482.7 368.3h1.2M490.6 349.6h1.2M491.2 371.7h1.2M482.1 350.2h1.2M481.1 361.7h1.2M483.3 337.5h1.2M482.1 360.4h1.2M492.7 369.5h1.2M467.3 341.7h1.2M487.8 366.5h1.2M482.6 349.4h1.2M490.3 351.1h1.2M477.7 369.1h1.2M487.7 369.1h1.2M475.9 360.7h1.2M495.1 336.5h1.2M494.8 362.5h1.2M472.3 356.8h1.2M505.8 360.0h1.2M474.9 337.4h1.2M481.6 355.1h1.2M486.5 360.9h1.2M487.5 356.3h1.2M489.9 364.3h1.2M472.5 377.9h1.2M484.7 376.8h1.2M482.5 359.8h1.2M482.9 325.5h1.2M483.8 330.4h1.2M478.5 328.1h1.2M503.5 328.0h1.2M487.4 325.2h1.2M484.7 332.2h1.2M488.1 323.1h1.2M487.2 326.4h1.2M494.7 330.5h1.2M498.3 332.7h1.2M478.7 335.5h1.2M483.5 330.5h1.2M487.7 324.9h1.2M495.3 331.7h1.2M479.6 324.6h1.2M490.3 336.7h1.2M489.9 332.5h1.2M484.0 336.2h1.2M490.9 327.3h1.2M482.6 320.9h1.2M514.7 376.7h1.2M477.7 331.8h1.2M481.9 371.7h1.2M497.7 347.8h1.2M473.9 364.1h1.2M513.9 325.6h1.2M483.1 310.8h1.2M507.9 326.0h1.2M477.6 369.2h1.2M500.4 340.2h1.2M480.9 375.0h1.2M485.4 360.2h1.2M498.8 336.4h1.2M513.8 338.3h1.2M481.6 325.4h1.2M471.6 340.7h1.2M511.9 359.6h1.2M485.6 330.6h1.2M506.2 365.9h1.2M484.1 327.0h1.2" stroke="#9ee69e" stroke-width="1.2" fill="none"/>
<path d="M478.7 404.1h1.2M476.2 382.7h1.2M496.7 381.5h1.2M477.1 405.2h1.2M483.0 379.8h1.2M484.6 392.5h1.2M486.4 404.5h1.2M481.1 391.0h1.2M479.9 402.8h1.2M480.8 390.2h1.2M482.2 379.8h1.2M479.5 388.3h1.2M484.0 389.5h1.2M484.4 381.8h1.2M481.4 383.1h1.2M478.2 407.9h1.2M485.3 401.5h1.2M482.7 396.0h1.2M485.6 404.8h1.2M484.3 390.3h1.2M491.4 408.7h1.2M486.0 404.0h1.2M482.1 397.3h1.2M478.4 407.1h1.2M486.9 393.9h1.2M477.6 379.8h1.2M480.7 402.5h1.2M491.5 379.2h1.2M489.6 396.6h1.2M482.7 398.4h1.2M490.6 402.1h1.2M489.3 382.6h1.2M469.5 386.1h1.2M471.6 391.3h1.2M484.1 385.4h1.2M478.7 381.4h1.2M482.3 404.0h1.2M473.8 382.2h1.2M485.7 389.5h1.2M490.2 392.9h1.2M489.5 397.8h1.2M488.1 391.0h1.2M484.7 400.8h1.2M484.3 389.2h1.2M497.4 394.9h1.2M478.5 380.8h1.2M483.8 380.2h1.2M495.0 398.0h1.2M475.8 383.1h1.2M484.5 380.1h1.2M487.1 389.6h1.2M482.1 405.0h1.2M487.4 396.3h1.2M487.3 381.2h1.2M483.0 402.6h1.2M481.7 390.5h1.2M473.9 404.2h1.2M489.5 400.5h1.2M487.7 396.5h1.2M478.8 392.3h1.2M479.3 393.7h1.2M475.5 389.4h1.2M476.9 396.3h1.2M480.6 400.8h1.2M485.0 379.2h1.2M484.1 384.2h1.2M481.9 402.1h1.2M479.1 394.1h1.2M484.7 407.9h1.2M480.1 408.4h1.2M479.2 386.6h1.2M489.7 403.9h1.2M487.6 403.7h1.2M477.0 385.5h1.2M487.6 387.3h1.2M492.1 408.3h1.2M479.5 396.1h1.2M481.8 391.3h1.2M478.4 407.7h1.2M482.6 383.7h1.2M471.2 391.8h1.2M492.9 404.4h1.2M477.3 406.5h1.2M482.3 382.3h1.2M490.9 393.2h1.2M488.3 385.0h1.2M483.4 391.7h1.2M479.4 406.3h1.2M476.4 407.9h1.2M481.4 392.0h1.2M487.2 386.9h1.2M487.9 399.6h1.2M475.6 399.1h1.2M481.9 402.6h1.2M486.9 381.9h1.2M485.8 385.5h1.2M482.9 402.6h1.2M485.5 408.1h1.2M481.5 394.8h1.2M487.4 386.2h1.2M487.4 399.1h1.2M476.4 407.5h1.2M476.2 405.7h1.2M479.3 405.9h1.2M475.8 405.0h1.2M471.1 408.8h1.2M483.3 385.1h1.2M484.6 395.9h1.2M489.7 392.1h1.2M479.6 391.9h1.2M483.0 397.4h1.2M483.1 382.2h1.2M475.2 385.5h1.2M474.4 387.6h1.2M483.9 401.9h1.2M483.6 405.4h1.2M487.2 385.1h1.2M486.4 379.8h1.2M477.7 393.6h1.2M480.5 390.6h1.2M482.3 394.0h1.2M471.9 391.0h1.2M484.9 406.8h1.2M480.8 383.8h1.2M491.0 397.1h1.2M482.8 380.6h1.2M473.6 402.1h1.2M490.4 388.4h1.2M493.7 405.5h1.2M490.5 395.7h1.2M495.6 385.8h1.2M490.6 401.4h1.2M478.5 392.3h1.2M483.8 405.3h1.2M490.1 401.9h1.2M482.6 393.3h1.2M481.3 388.0h1.2M475.7 397.6h1.2M481.4 379.1h1.2M481.6 392.1h1.2M486.8 387.8h1.2M484.3 394.2h1.2M486.3 406.3h1.2M485.6 399.6h1.2M495.5 406.8h1.2M489.3 407.4h1.2M477.5 385.0h1.2M479.8 384.2h1.2M479.5 387.5h1.2M481.4 382.2h1.2M480.9 405.2h1.2M483.5 385.2h1.2M481.8 379.1h1.2M468.9 383.7h1.2M480.1 396.9h1.2M475.5 397.3h1.2M485.9 401.7h1.2M493.8 403.3h1.2M491.5 382.4h1.2M492.1 403.1h1.2M483.6 390.8h1.2M489.4 394.9h1.2M479.9 380.3h1.2M478.1 392.5h1.2M483.5 389.7h1.2M485.8 382.0h1.2M479.1 386.8h1.2M486.1 389.9h1.2M477.8 406.2h1.2M488.2 383.3h1.2M482.5 389.0h1.2M490.8 401.1h1.2M489.6 389.0h1.2M475.2 384.4h1.2M476.0 392.7h1.2M484.8 395.4h1.2M478.1 396.8h1.2M484.4 391.3h1.2M481.5 403.2h1.2M487.0 405.2h1.2M486.7 403.3h1.2M492.1 406.6h1.2M481.6 402.7h1.2M489.5 399.8h1.2M483.0 403.2h1.2M483.7 400.9h1.2M481.5 395.0h1.2M481.2 395.4h1.2M478.0 397.0h1.2M487.2 402.7h1.2M485.8 401.5h1.2M487.0 400.1h1.2M488.2 406.2h1.2M483.9 395.0h1.2M478.6 403.2h1.2M478.9 401.2h1.2M482.4 408.6h1.2M480.3 402.6h1.2M481.2 398.4h1.2M484.7 406.6h1.2M477.3 409.2h1.2M491.8 402.7h1.2M485.1 397.0h1.2M481.4 403.5h1.2M482.7 408.6h1.2M479.5 400.8h1.2M485.1 401.7h1.2M482.0 401.4h1.2M484.6 392.8h1.2M493.3 405.6h1.2M478.8 397.7h1.2M478.5 404.1h1.2M480.8 395.3h1.2M491.2 402.0h1.2M485.0 401.1h1.2M475.2 403.2h1.2M480.1 400.4h1.2M482.8 393.2h1.2M485.5 403.0h1.2M485.2 399.2h1.2M485.9 399.8h1.2M486.1 408.5h1.2M485.5 395.1h1.2M483.3 397.1h1.2M490.7 403.0h1.2M478.0 394.7h1.2M488.2 397.2h1.2M484.6 400.4h1.2M482.4 399.9h1.2M479.6 404.5h1.2M484.9 398.8h1.2M478.7 397.8h1.2M485.3 402.8h1.2M487.1 403.8h1.2M483.5 402.1h1.2M483.9 402.2h1.2M485.7 397.9h1.2M482.7 404.7h1.2M478.4 402.5h1.2M477.4 406.8h1.2M483.2 407.2h1.2M487.5 398.5h1.2M491.7 401.5h1.2M485.2 399.0h1.2M485.5 404.9h1.2M488.7 401.3h1.2M483.3 404.4h1.2M474.3 393.8h1.2M481.0 405.3h1.2M483.1 404.0h1.2M477.1 404.9h1.2M486.3 399.1h1.2M480.1 396.6h1.2M481.1 401.6h1.2M483.3 404.9h1.2M482.4 395.8h1.2M485.1 398.5h1.2M476.7 398.0h1.2M488.9 396.5h1.2M488.4 395.5h1.2M482.8 404.5h1.2M481.5 397.4h1.2M485.6 403.0h1.2M485.3 407.7h1.2M488.2 400.7h1.2M479.6 397.3h1.2M483.3 400.6h1.2M483.0 399.1h1.2M492.8 398.7h1.2M488.6 397.9h1.2M479.9 396.4h1.2M478.8 394.2h1.2M479.8 400.9h1.2M485.7 393.5h1.2M484.8 401.5h1.2M483.0 391.7h1.2M484.9 405.2h1.2M487.5 400.6h1.2M487.9 402.4h1.2M479.4 404.5h1.2M486.9 403.2h1.2M482.9 400.8h1.2M485.6 393.3h1.2M484.2 395.8h1.2M481.0 403.0h1.2M487.9 402.0h1.2M484.3 389.0h1.2M499.8 371.8h1.2M487.0 372.4h1.2M471.7 350.2h1.2M481.4 370.5h1.2M481.9 370.6h1.2M489.2 369.1h1.2M481.1 346.3h1.2M480.2 371.2h1.2M481.0 370.3h1.2M476.7 336.2h1.2M491.4 341.0h1.2M471.9 337.0h1.2M491.1 358.0h1.2M482.3 375.0h1.2M490.3 337.6h1.2M495.8 372.5h1.2M492.5 369.1h1.2M480.4 341.5h1.2M492.1 366.4h1.2M473.4 336.4h1.2M483.5 370.8h1.2M498.3 356.2h1.2M483.6 360.1h1.2M478.9 347.2h1.2M491.9 358.8h1.2M502.4 348.8h1.2M485.0 357.3h1.2M494.0 341.8h1.2M479.9 351.6h1.2M489.3 350.7h1.2M503.0 348.0h1.2M491.6 367.1h1.2M494.4 350.0h1.2M484.3 364.1h1.2M496.2 362.8h1.2M491.7 331.4h1.2M498.6 330.9h1.2M474.2 327.3h1.2M490.9 328.6h1.2M486.7 329.8h1.2M494.3 331.0h1.2M486.2 328.2h1.2M492.1 328.0h1.2M489.1 331.2h1.2M490.8 332.3h1.2M488.4 335.7h1.2M491.0 327.9h1.2M482.4 328.0h1.2M493.8 326.9h1.2M495.0 331.2h1.2M484.0 327.2h1.2M486.5 332.2h1.2M486.6 332.1h1.2M487.9 333.9h1.2M484.5 329.6h1.2M481.2 329.1h1.2M481.9 325.7h1.2M485.9 332.0h1.2M475.5 326.4h1.2M479.9 331.1h1.2M489.9 330.9h1.2M486.0 327.8h1.2M487.9 327.6h1.2M485.8 331.2h1.2M485.7 333.4h1.2M475.9 325.5h1.2M492.1 328.4h1.2M484.6 328.5h1.2M486.7 329.6h1.2M488.8 332.6h1.2M496.4 324.0h1.2M486.4 327.5h1.2M488.1 327.2h1.2M487.3 330.8h1.2M486.8 330.7h1.2M490.3 327.0h1.2M486.7 333.0h1.2M491.7 332.8h1.2M482.8 328.1h1.2M492.0 330.0h1.2M488.5 329.0h1.2M491.6 330.5h1.2M481.9 331.1h1.2M485.2 329.3h1.2M489.9 330.4h1.2M465.5 346.8h1.2M452.7 357.5h1.2M459.5 334.1h1.2M467.2 331.5h1.2M443.2 364.7h1.2M449.2 360.7h1.2M455.7 353.1h1.2M454.5 369.1h1.2M451.3 366.7h1.2M456.5 372.5h1.2M443.0 344.2h1.2M440.7 331.4h1.2M455.2 351.9h1.2M445.1 337.5h1.2M445.6 372.8h1.2M455.7 350.0h1.2M455.9 350.8h1.2M453.8 333.5h1.2M467.5 358.1h1.2M460.3 373.2h1.2" stroke="#1ed21e" stroke-width="1.2" fill="none"/>
<path d="M479.6 400.3h1.2M478.3 408.3h1.2M482.6 404.1h1.2M479.1 392.5h1.2M479.6 395.6h1.2M484.7 396.8h1.2M483.1 390.1h1.2M467.8 406.8h1.2M478.0 405.5h1.2M478.8 397.0h1.2M483.4 408.3h1.2M480.5 406.3h1.2M481.9 385.3h1.2M465.7 399.3h1.2M479.0 385.2h1.2M477.3 402.0h1.2M487.9 387.1h1.2M474.4 389.1h1.2M481.4 388.3h1.2M478.1 408.8h1.2M484.7 393.2h1.2M480.8 396.7h1.2M479.4 388.8h1.2M483.9 402.4h1.2M481.5 400.2h1.2M478.1 402.6h1.2M487.8 406.6h1.2M479.2 404.6h1.2M478.0 408.9h1.2M485.3 388.1h1.2M474.9 406.7h1.2M471.9 408.1h1.2M480.3 390.3h1.2M491.6 407.3h1.2M481.7 387.1h1.2M470.5 400.4h1.2M482.6 398.0h1.2M481.2 394.3h1.2M480.0 388.9h1.2M486.4 391.5h1.2M478.4 406.7h1.2M484.9 408.8h1.2M477.1 390.4h1.2M474.3 390.8h1.2M465.2 402.6h1.2M484.8 391.7h1.2M471.2 394.6h1.2M484.5 406.6h1.2M483.9 392.4h1.2M482.9 396.7h1.2M497.4 335.2h1.2M491.5 359.1h1.2M479.6 359.3h1.2M491.1 321.4h1.2M478.5 358.4h1.2M488.8 353.9h1.2M503.7 359.9h1.2M481.9 367.4h1.2M473.6 373.2h1.2M490.8 363.2h1.2M482.5 340.4h1.2M488.2 353.3h1.2M477.8 325.4h1.2M489.7 325.7h1.2M491.8 370.3h1.2M442.8 342.3h1.2M446.3 346.5h1.2M445.5 354.9h1.2M463.2 362.5h1.2M460.2 358.9h1.2M465.9 373.4h1.2M443.6 365.6h1.2M466.6 371.1h1.2" stroke="#4a4438" stroke-width="1.2" fill="none"/>
<rect x="418.6" y="295.6" width="102" height="114.6" fill="none" stroke="#000" stroke-width="1.2"/>
<line x1="468.8" y1="295.6" x2="468.8" y2="410.20000000000005" stroke="#000" stroke-width="1.1"/>
<line x1="418.6" y1="378.4" x2="520.6" y2="378.4" stroke="#000" stroke-width="1.1"/>
<text x="480.0" y="308.7" font-size="10.6" text-anchor="start" fill="#111" >28.4%</text>
<text x="415.6" y="412.8" font-size="5.4" font-weight="bold" letter-spacing="-0.35" text-anchor="end" fill="#000" stroke="#000" stroke-width="0.5">10<tspan font-size="3.6" dy="-1.8" stroke-width="0.2">0</tspan></text>
<text x="418.1" y="418.7" font-size="5.4" font-weight="bold" letter-spacing="-0.35" text-anchor="middle" fill="#000" stroke="#000" stroke-width="0.5">10<tspan font-size="3.6" dy="-1.8" stroke-width="0.2">0</tspan></text>
<text x="415.6" y="384.2" font-size="5.4" font-weight="bold" letter-spacing="-0.35" text-anchor="end" fill="#000" stroke="#000" stroke-width="0.5">10<tspan font-size="3.6" dy="-1.8" stroke-width="0.2">1</tspan></text>
<text x="443.6" y="418.7" font-size="5.4" font-weight="bold" letter-spacing="-0.35" text-anchor="middle" fill="#000" stroke="#000" stroke-width="0.5">10<tspan font-size="3.6" dy="-1.8" stroke-width="0.2">1</tspan></text>
<text x="415.6" y="355.5" font-size="5.4" font-weight="bold" letter-spacing="-0.35" text-anchor="end" fill="#000" stroke="#000" stroke-width="0.5">10<tspan font-size="3.6" dy="-1.8" stroke-width="0.2">2</tspan></text>
<text x="469.1" y="418.7" font-size="5.4" font-weight="bold" letter-spacing="-0.35" text-anchor="middle" fill="#000" stroke="#000" stroke-width="0.5">10<tspan font-size="3.6" dy="-1.8" stroke-width="0.2">2</tspan></text>
<text x="415.6" y="326.9" font-size="5.4" font-weight="bold" letter-spacing="-0.35" text-anchor="end" fill="#000" stroke="#000" stroke-width="0.5">10<tspan font-size="3.6" dy="-1.8" stroke-width="0.2">3</tspan></text>
<text x="494.6" y="418.7" font-size="5.4" font-weight="bold" letter-spacing="-0.35" text-anchor="middle" fill="#000" stroke="#000" stroke-width="0.5">10<tspan font-size="3.6" dy="-1.8" stroke-width="0.2">3</tspan></text>
<text x="415.6" y="298.2" font-size="5.4" font-weight="bold" letter-spacing="-0.35" text-anchor="end" fill="#000" stroke="#000" stroke-width="0.5">10<tspan font-size="3.6" dy="-1.8" stroke-width="0.2">4</tspan></text>
<text x="520.1" y="418.7" font-size="5.4" font-weight="bold" letter-spacing="-0.35" text-anchor="middle" fill="#000" stroke="#000" stroke-width="0.5">10<tspan font-size="3.6" dy="-1.8" stroke-width="0.2">4</tspan></text>
</svg>
</body></html>
